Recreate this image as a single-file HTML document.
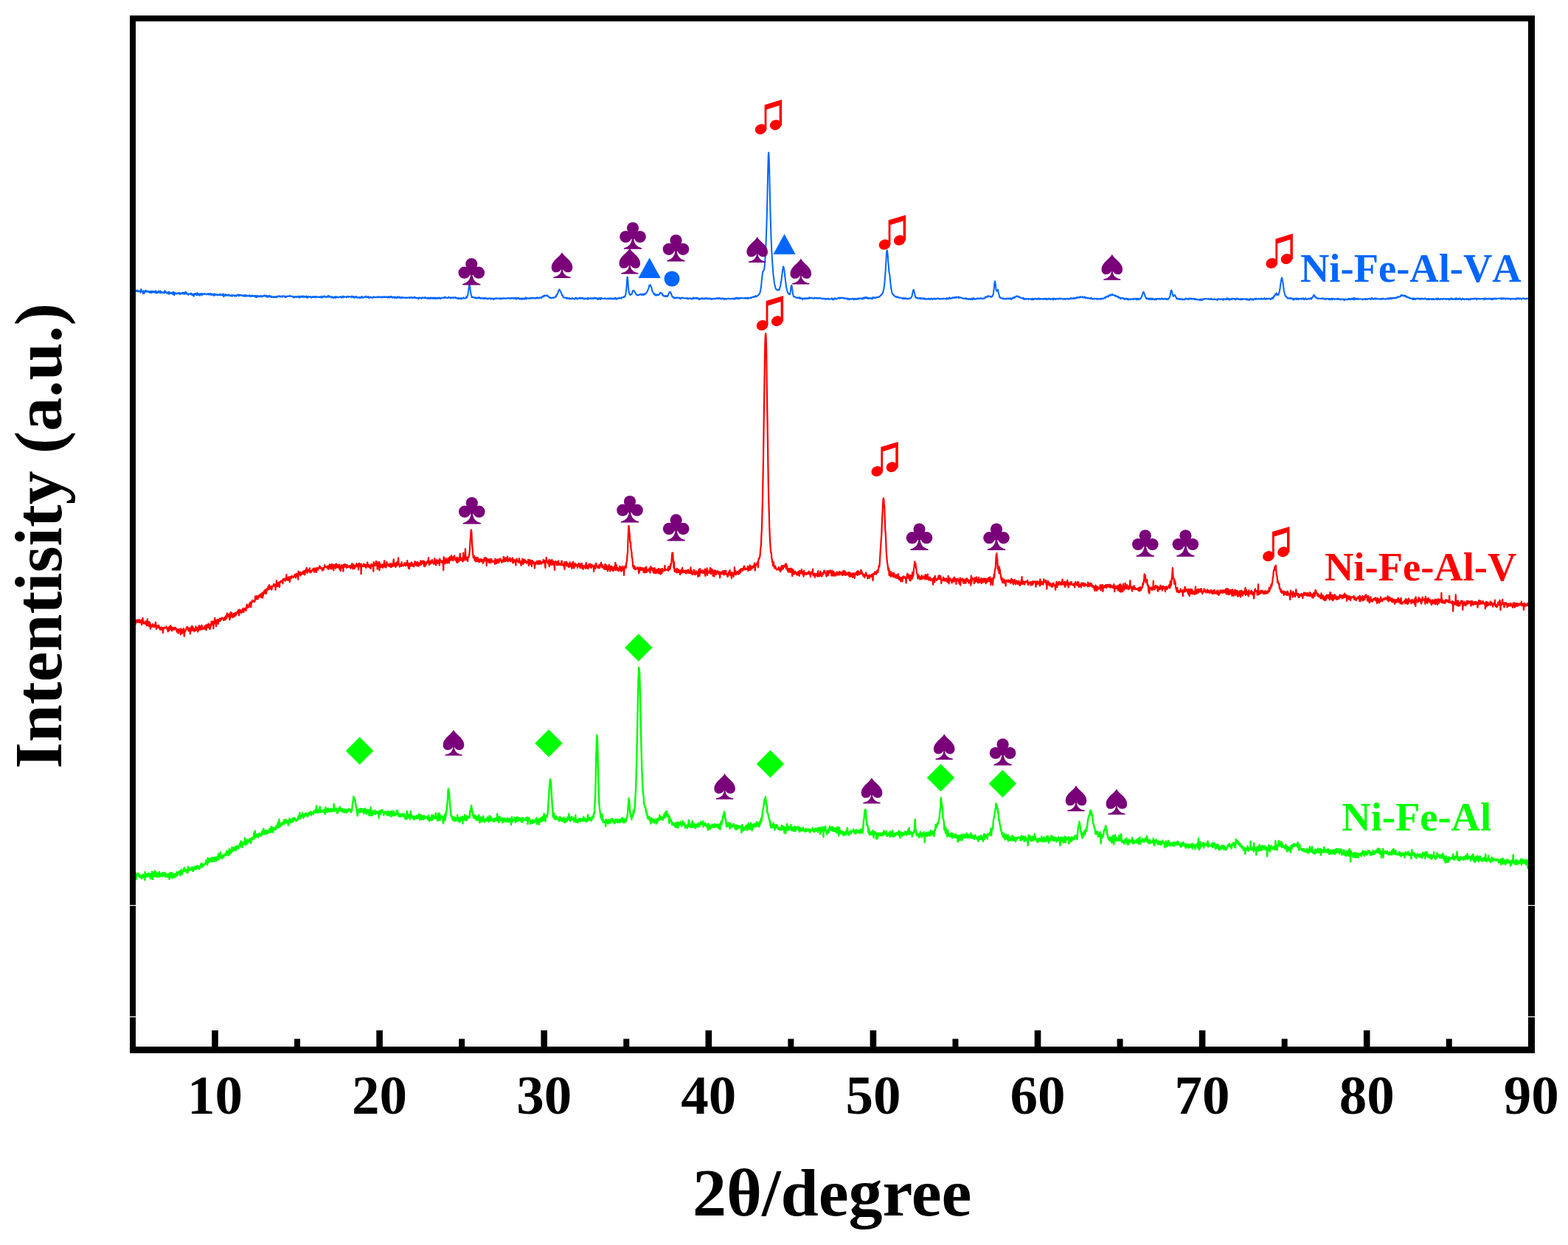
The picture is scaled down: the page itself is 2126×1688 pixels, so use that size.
<!DOCTYPE html>
<html><head><meta charset="utf-8"><title>XRD patterns</title>
<style>html,body{margin:0;padding:0;background:#fff;}svg{display:block;}</style></head>
<body><svg width="2126" height="1688" viewBox="0 0 2126 1688">
<rect width="2126" height="1688" fill="#fff"/>
<g fill="none" stroke-linejoin="round" stroke-linecap="round">
<polyline points="180.50,393.57 180.95,394.17 181.40,393.68 181.85,391.67 182.30,394.60 182.75,394.14 183.20,393.07 183.65,394.58 184.10,394.37 184.55,394.36 185.00,394.15 185.45,394.86 185.90,393.49 186.35,394.30 186.80,394.01 187.25,395.56 187.70,394.97 188.15,394.63 188.60,394.19 189.05,394.81 189.50,395.10 189.95,394.78 190.40,396.69 190.85,396.50 191.30,392.04 191.75,393.14 192.20,395.33 192.65,395.07 193.10,395.89 193.55,395.78 194.00,398.13 194.45,394.32 194.90,395.16 195.35,398.04 195.80,396.34 196.25,396.39 196.70,394.97 197.15,393.67 197.60,395.85 198.05,395.71 198.50,394.14 198.95,394.79 199.40,395.42 199.85,394.48 200.30,395.42 200.75,395.68 201.20,395.63 201.65,395.04 202.10,396.28 202.55,396.82 203.00,396.23 203.45,394.90 203.90,396.60 204.35,395.31 204.80,396.87 205.25,394.70 205.70,396.97 206.15,396.01 206.60,394.65 207.05,395.80 207.50,396.15 207.95,396.55 208.40,395.16 208.85,394.87 209.30,396.30 209.75,395.57 210.20,396.28 210.65,396.92 211.10,394.26 211.55,396.37 212.00,397.45 212.45,395.89 212.90,395.32 213.35,396.97 213.80,396.43 214.25,396.99 214.70,395.75 215.15,394.57 215.60,396.04 216.05,395.70 216.50,396.96 216.95,396.36 217.40,394.50 217.85,395.04 218.30,397.16 218.75,396.98 219.20,395.62 219.65,396.21 220.10,396.59 220.55,396.70 221.00,397.13 221.45,396.48 221.90,396.17 222.35,396.18 222.80,397.48 223.25,394.18 223.70,396.32 224.15,396.53 224.60,395.14 225.05,396.79 225.50,395.98 225.95,397.53 226.40,396.57 226.85,397.41 227.30,397.98 227.75,397.28 228.20,396.19 228.65,395.61 229.10,398.68 229.55,396.88 230.00,396.33 230.45,397.17 230.90,396.86 231.35,398.03 231.80,397.32 232.25,397.35 232.70,396.82 233.15,398.05 233.60,396.63 234.05,398.34 234.50,399.18 234.95,396.32 235.40,395.57 235.85,398.30 236.30,400.26 236.75,396.97 237.20,396.73 237.65,398.53 238.10,397.20 238.55,397.64 239.00,397.74 239.45,398.51 239.90,397.66 240.35,398.27 240.80,397.94 241.25,397.24 241.70,397.78 242.15,397.32 242.60,398.04 243.05,397.04 243.50,397.04 243.95,399.28 244.40,397.69 244.85,397.65 245.30,398.08 245.75,397.28 246.20,397.53 246.65,398.03 247.10,398.08 247.55,396.67 248.00,398.42 248.45,397.05 248.90,396.64 249.35,396.76 249.80,397.14 250.25,398.90 250.70,396.55 251.15,397.68 251.60,395.75 252.05,397.49 252.50,398.56 252.95,397.62 253.40,397.34 253.85,398.28 254.30,398.72 254.75,398.73 255.20,399.94 255.65,398.63 256.10,398.06 256.55,398.45 257.00,398.49 257.45,398.79 257.90,398.75 258.35,398.94 258.80,397.40 259.25,399.60 259.70,398.61 260.15,398.09 260.60,399.74 261.05,400.33 261.50,399.66 261.95,399.35 262.40,398.48 262.85,401.68 263.30,400.26 263.75,398.42 264.20,398.59 264.65,399.23 265.10,397.87 265.55,399.21 266.00,398.77 266.45,400.19 266.90,399.84 267.35,396.91 267.80,399.17 268.25,397.85 268.70,400.02 269.15,399.28 269.60,399.49 270.05,398.29 270.50,400.53 270.95,400.70 271.40,398.27 271.85,399.33 272.30,398.57 272.75,398.96 273.20,397.97 273.65,400.50 274.10,398.27 274.55,398.58 275.00,399.23 275.45,398.38 275.90,398.88 276.35,398.51 276.80,398.82 277.25,398.00 277.70,398.53 278.15,398.76 278.60,398.59 279.05,398.80 279.50,398.66 279.95,399.36 280.40,398.53 280.85,398.94 281.30,398.51 281.75,398.60 282.20,397.97 282.65,399.49 283.10,398.24 283.55,398.45 284.00,399.41 284.45,399.44 284.90,398.92 285.35,397.73 285.80,399.76 286.25,399.75 286.70,398.48 287.15,399.95 287.60,398.96 288.05,398.76 288.50,399.72 288.95,399.52 289.40,399.90 289.85,398.49 290.30,401.13 290.75,399.19 291.20,398.41 291.65,400.05 292.10,399.16 292.55,399.74 293.00,399.38 293.45,399.61 293.90,399.83 294.35,399.15 294.80,400.32 295.25,399.60 295.70,399.30 296.15,399.90 296.60,400.15 297.05,399.72 297.50,399.32 297.95,400.33 298.40,398.79 298.85,399.28 299.30,400.07 299.75,398.98 300.20,399.92 300.65,399.86 301.10,400.51 301.55,399.30 302.00,399.54 302.45,400.38 302.90,398.38 303.35,402.32 303.80,399.70 304.25,399.80 304.70,401.03 305.15,400.21 305.60,398.98 306.05,400.62 306.50,400.74 306.95,399.87 307.40,400.18 307.85,400.76 308.30,399.76 308.75,400.63 309.20,400.54 309.65,399.85 310.10,399.41 310.55,400.23 311.00,399.89 311.45,401.24 311.90,400.64 312.35,401.18 312.80,400.64 313.25,400.72 313.70,400.03 314.15,401.07 314.60,401.87 315.05,400.36 315.50,400.07 315.95,400.33 316.40,400.43 316.85,400.29 317.30,400.86 317.75,400.41 318.20,401.61 318.65,400.58 319.10,400.76 319.55,401.24 320.00,400.39 320.45,401.63 320.90,400.24 321.35,400.08 321.80,400.27 322.25,400.38 322.70,399.43 323.15,400.40 323.60,399.35 324.05,401.45 324.50,400.51 324.95,400.18 325.40,399.92 325.85,400.40 326.30,400.59 326.75,399.99 327.20,400.08 327.65,400.42 328.10,400.28 328.55,401.24 329.00,401.47 329.45,400.89 329.90,401.20 330.35,400.09 330.80,401.43 331.25,401.08 331.70,401.40 332.15,402.05 332.60,399.64 333.05,401.32 333.50,400.56 333.95,401.66 334.40,400.37 334.85,400.92 335.30,401.31 335.75,401.59 336.20,401.15 336.65,400.67 337.10,400.65 337.55,401.50 338.00,401.07 338.45,400.12 338.90,401.82 339.35,401.51 339.80,401.84 340.25,401.14 340.70,401.78 341.15,400.55 341.60,401.64 342.05,400.82 342.50,401.53 342.95,401.68 343.40,400.68 343.85,401.15 344.30,401.29 344.75,402.04 345.20,401.90 345.65,400.79 346.10,401.81 346.55,402.11 347.00,403.06 347.45,400.82 347.90,401.63 348.35,402.86 348.80,401.13 349.25,401.11 349.70,402.19 350.15,402.33 350.60,401.19 351.05,401.89 351.50,401.54 351.95,402.42 352.40,401.43 352.85,401.93 353.30,400.89 353.75,401.42 354.20,401.63 354.65,402.38 355.10,401.87 355.55,401.09 356.00,402.04 356.45,402.06 356.90,401.46 357.35,401.23 357.80,401.36 358.25,400.41 358.70,401.38 359.15,401.33 359.60,400.68 360.05,401.79 360.50,400.70 360.95,401.08 361.40,401.21 361.85,402.77 362.30,400.67 362.75,402.09 363.20,402.39 363.65,402.14 364.10,402.64 364.55,401.31 365.00,400.51 365.45,402.35 365.90,401.20 366.35,401.85 366.80,401.44 367.25,402.67 367.70,402.66 368.15,401.74 368.60,402.92 369.05,402.30 369.50,402.35 369.95,402.65 370.40,402.58 370.85,403.18 371.30,402.90 371.75,402.33 372.20,403.17 372.65,402.11 373.10,402.61 373.55,402.79 374.00,403.25 374.45,401.94 374.90,403.22 375.35,402.33 375.80,402.08 376.25,401.75 376.70,402.49 377.15,402.07 377.60,401.42 378.05,401.21 378.50,401.50 378.95,401.37 379.40,402.50 379.85,402.61 380.30,402.27 380.75,401.86 381.20,401.33 381.65,401.54 382.10,401.99 382.55,402.84 383.00,402.20 383.45,401.39 383.90,401.67 384.35,401.44 384.80,401.14 385.25,401.56 385.70,401.88 386.15,402.85 386.60,401.78 387.05,402.57 387.50,402.86 387.95,401.76 388.40,402.77 388.85,402.16 389.30,401.56 389.75,402.01 390.20,401.81 390.65,401.49 391.10,401.59 391.55,401.82 392.00,401.91 392.45,401.16 392.90,401.65 393.35,400.78 393.80,401.71 394.25,401.86 394.70,401.70 395.15,401.86 395.60,402.10 396.05,401.46 396.50,401.85 396.95,402.28 397.40,402.48 397.85,402.29 398.30,403.65 398.75,402.18 399.20,402.78 399.65,403.04 400.10,402.39 400.55,402.05 401.00,401.71 401.45,402.54 401.90,403.13 402.35,402.62 402.80,402.61 403.25,402.38 403.70,402.90 404.15,401.45 404.60,402.62 405.05,402.48 405.50,401.75 405.95,403.69 406.40,401.66 406.85,401.77 407.30,401.72 407.75,402.91 408.20,401.80 408.65,402.65 409.10,402.49 409.55,402.23 410.00,401.33 410.45,401.91 410.90,403.10 411.35,401.42 411.80,401.69 412.25,402.29 412.70,402.81 413.15,402.46 413.60,402.79 414.05,401.88 414.50,402.97 414.95,402.70 415.40,401.53 415.85,403.36 416.30,403.82 416.75,402.13 417.20,402.67 417.65,403.39 418.10,401.84 418.55,401.68 419.00,402.09 419.45,402.37 419.90,402.40 420.35,403.02 420.80,402.65 421.25,401.93 421.70,402.93 422.15,403.58 422.60,403.29 423.05,403.13 423.50,402.46 423.95,402.90 424.40,401.92 424.85,402.89 425.30,402.48 425.75,403.11 426.20,402.84 426.65,402.06 427.10,402.82 427.55,403.38 428.00,402.17 428.45,402.45 428.90,402.31 429.35,401.85 429.80,402.99 430.25,403.18 430.70,403.00 431.15,402.78 431.60,402.75 432.05,402.97 432.50,402.31 432.95,402.99 433.40,403.14 433.85,402.99 434.30,402.16 434.75,402.59 435.20,402.66 435.65,403.72 436.10,402.83 436.55,401.58 437.00,402.67 437.45,403.48 437.90,402.80 438.35,402.78 438.80,402.37 439.25,401.26 439.70,401.45 440.15,401.74 440.60,402.39 441.05,402.74 441.50,402.88 441.95,402.33 442.40,403.00 442.85,402.32 443.30,401.99 443.75,402.87 444.20,401.97 444.65,401.08 445.10,401.98 445.55,402.66 446.00,401.00 446.45,402.38 446.90,402.45 447.35,401.91 447.80,402.02 448.25,402.61 448.70,402.58 449.15,403.53 449.60,403.11 450.05,402.14 450.50,402.56 450.95,403.26 451.40,403.93 451.85,403.10 452.30,402.94 452.75,403.86 453.20,402.86 453.65,402.73 454.10,402.09 454.55,402.61 455.00,404.00 455.45,402.30 455.90,402.96 456.35,402.20 456.80,403.07 457.25,403.38 457.70,402.73 458.15,403.07 458.60,402.89 459.05,402.74 459.50,403.44 459.95,402.94 460.40,402.42 460.85,402.18 461.30,402.08 461.75,402.70 462.20,402.26 462.65,403.79 463.10,403.46 463.55,402.51 464.00,402.35 464.45,403.39 464.90,401.57 465.35,402.29 465.80,403.15 466.25,402.18 466.70,402.28 467.15,402.34 467.60,402.78 468.05,402.37 468.50,402.48 468.95,402.70 469.40,402.55 469.85,403.24 470.30,402.24 470.75,401.85 471.20,401.68 471.65,401.74 472.10,402.22 472.55,402.98 473.00,402.55 473.45,402.30 473.90,402.08 474.35,402.25 474.80,402.32 475.25,402.28 475.70,401.92 476.15,402.34 476.60,403.27 477.05,401.62 477.50,402.65 477.95,401.71 478.40,402.90 478.85,402.55 479.30,401.97 479.75,403.20 480.20,403.85 480.65,402.89 481.10,403.37 481.55,402.78 482.00,401.86 482.45,403.22 482.90,402.76 483.35,402.28 483.80,403.58 484.25,403.44 484.70,403.11 485.15,403.75 485.60,403.05 486.05,403.75 486.50,402.94 486.95,403.63 487.40,402.88 487.85,404.04 488.30,403.35 488.75,403.91 489.20,402.72 489.65,402.91 490.10,403.48 490.55,401.74 491.00,402.47 491.45,403.72 491.90,403.47 492.35,403.67 492.80,402.95 493.25,403.32 493.70,402.89 494.15,402.49 494.60,402.34 495.05,402.89 495.50,402.88 495.95,402.76 496.40,401.43 496.85,402.13 497.30,402.87 497.75,403.26 498.20,402.84 498.65,402.62 499.10,401.98 499.55,404.04 500.00,402.39 500.45,403.84 500.90,403.78 501.35,403.34 501.80,402.86 502.25,403.27 502.70,402.47 503.15,403.36 503.60,403.15 504.05,403.60 504.50,403.76 504.95,403.78 505.40,402.79 505.85,403.58 506.30,402.57 506.75,402.43 507.20,402.49 507.65,402.29 508.10,403.28 508.55,403.28 509.00,403.49 509.45,402.79 509.90,403.00 510.35,402.53 510.80,402.43 511.25,403.28 511.70,403.21 512.15,402.47 512.60,403.22 513.05,402.15 513.50,402.86 513.95,402.65 514.40,402.62 514.85,402.46 515.30,403.33 515.75,403.16 516.20,403.60 516.65,403.09 517.10,402.31 517.55,402.68 518.00,402.40 518.45,403.16 518.90,403.50 519.35,402.89 519.80,402.36 520.25,402.56 520.70,402.96 521.15,402.10 521.60,402.89 522.05,402.94 522.50,402.56 522.95,402.59 523.40,402.98 523.85,402.54 524.30,402.43 524.75,403.16 525.20,403.07 525.65,403.68 526.10,402.47 526.55,402.05 527.00,403.45 527.45,403.46 527.90,402.77 528.35,402.39 528.80,403.14 529.25,402.18 529.70,402.82 530.15,401.88 530.60,402.96 531.05,402.03 531.50,402.89 531.95,403.62 532.40,402.85 532.85,403.40 533.30,402.73 533.75,402.75 534.20,402.47 534.65,403.70 535.10,403.08 535.55,403.93 536.00,402.57 536.45,402.96 536.90,403.14 537.35,403.86 537.80,404.10 538.25,402.94 538.70,402.58 539.15,402.20 539.60,403.88 540.05,403.21 540.50,402.97 540.95,403.27 541.40,402.29 541.85,402.76 542.30,404.07 542.75,403.79 543.20,403.57 543.65,402.99 544.10,403.80 544.55,404.21 545.00,402.79 545.45,403.44 545.90,403.29 546.35,403.67 546.80,403.58 547.25,403.67 547.70,403.36 548.15,403.82 548.60,403.42 549.05,403.67 549.50,403.59 549.95,404.05 550.40,403.47 550.85,403.44 551.30,404.00 551.75,403.36 552.20,403.41 552.65,403.89 553.10,403.48 553.55,403.40 554.00,403.50 554.45,403.03 554.90,403.96 555.35,404.30 555.80,404.07 556.25,402.95 556.70,403.82 557.15,403.14 557.60,403.51 558.05,403.62 558.50,402.98 558.95,404.13 559.40,403.32 559.85,403.76 560.30,403.63 560.75,404.04 561.20,404.05 561.65,402.82 562.10,403.55 562.55,402.60 563.00,403.47 563.45,404.16 563.90,404.25 564.35,404.43 564.80,403.62 565.25,403.98 565.70,403.83 566.15,404.29 566.60,404.47 567.05,403.48 567.50,405.45 567.95,403.70 568.40,403.58 568.85,404.02 569.30,404.15 569.75,404.03 570.20,403.52 570.65,404.58 571.10,403.85 571.55,404.68 572.00,404.51 572.45,403.30 572.90,403.34 573.35,403.31 573.80,404.03 574.25,404.07 574.70,404.05 575.15,403.31 575.60,403.96 576.05,404.36 576.50,403.02 576.95,403.61 577.40,403.87 577.85,403.66 578.30,403.72 578.75,404.74 579.20,404.43 579.65,404.19 580.10,403.53 580.55,404.98 581.00,404.13 581.45,403.70 581.90,403.88 582.35,403.94 582.80,405.17 583.25,404.45 583.70,404.30 584.15,403.30 584.60,404.68 585.05,403.71 585.50,403.60 585.95,404.37 586.40,403.77 586.85,404.62 587.30,404.98 587.75,403.54 588.20,404.33 588.65,403.62 589.10,404.26 589.55,404.66 590.00,403.55 590.45,405.20 590.90,404.25 591.35,403.87 591.80,404.30 592.25,404.72 592.70,403.73 593.15,404.31 593.60,403.58 594.05,404.78 594.50,404.08 594.95,403.77 595.40,404.41 595.85,403.35 596.30,403.85 596.75,404.93 597.20,404.08 597.65,404.85 598.10,404.23 598.55,403.67 599.00,403.94 599.45,404.01 599.90,403.74 600.35,403.62 600.80,403.64 601.25,403.23 601.70,403.88 602.15,403.95 602.60,403.91 603.05,402.70 603.50,403.83 603.95,403.39 604.40,402.78 604.85,403.65 605.30,403.88 605.75,403.94 606.20,404.05 606.65,404.21 607.10,404.05 607.55,403.57 608.00,402.62 608.45,403.14 608.90,403.58 609.35,403.15 609.80,403.75 610.25,403.85 610.70,403.62 611.15,404.48 611.60,403.19 612.05,404.04 612.50,403.47 612.95,403.36 613.40,404.02 613.85,403.60 614.30,404.26 614.75,403.28 615.20,403.82 615.65,403.33 616.10,403.46 616.55,403.57 617.00,403.11 617.45,403.94 617.90,403.17 618.35,403.44 618.80,404.32 619.25,404.28 619.70,404.27 620.15,404.27 620.60,405.38 621.05,403.88 621.50,404.00 621.95,403.83 622.40,404.87 622.85,404.55 623.30,405.02 623.75,404.89 624.20,404.33 624.65,404.01 625.10,403.90 625.55,405.44 626.00,404.94 626.45,404.76 626.90,404.36 627.35,404.51 627.80,404.32 628.25,404.38 628.70,403.33 629.15,404.38 629.60,404.22 630.05,404.57 630.50,404.55 630.95,404.61 631.40,403.89 631.85,404.07 632.30,402.16 632.75,402.62 633.20,403.35 633.65,401.01 634.10,400.12 634.55,398.60 635.00,395.14 635.45,392.32 635.90,388.15 636.35,385.96 636.80,386.64 637.25,388.95 637.70,393.06 638.15,396.24 638.60,398.97 639.05,400.19 639.50,402.91 639.95,402.47 640.40,402.75 640.85,403.12 641.30,402.88 641.75,402.67 642.20,403.11 642.65,403.76 643.10,403.74 643.55,403.96 644.00,403.23 644.45,403.16 644.90,404.52 645.35,403.49 645.80,403.94 646.25,404.21 646.70,404.67 647.15,403.50 647.60,403.84 648.05,403.85 648.50,404.10 648.95,403.15 649.40,404.12 649.85,402.98 650.30,404.36 650.75,404.58 651.20,404.60 651.65,403.81 652.10,404.94 652.55,404.19 653.00,404.19 653.45,404.34 653.90,404.44 654.35,404.67 654.80,404.94 655.25,403.71 655.70,404.56 656.15,405.30 656.60,404.91 657.05,404.87 657.50,403.82 657.95,404.94 658.40,403.68 658.85,404.59 659.30,405.23 659.75,405.36 660.20,405.00 660.65,405.14 661.10,404.34 661.55,404.53 662.00,405.26 662.45,404.73 662.90,404.78 663.35,404.14 663.80,404.80 664.25,405.05 664.70,404.54 665.15,404.54 665.60,405.62 666.05,405.00 666.50,404.84 666.95,404.32 667.40,404.54 667.85,404.76 668.30,405.59 668.75,404.71 669.20,405.95 669.65,404.61 670.10,404.88 670.55,405.38 671.00,404.86 671.45,404.46 671.90,404.80 672.35,405.13 672.80,403.98 673.25,404.53 673.70,404.59 674.15,404.52 674.60,405.09 675.05,404.42 675.50,404.47 675.95,404.54 676.40,404.89 676.85,404.51 677.30,405.34 677.75,404.22 678.20,405.24 678.65,404.30 679.10,404.64 679.55,404.74 680.00,405.44 680.45,404.83 680.90,404.24 681.35,405.00 681.80,404.26 682.25,404.11 682.70,404.62 683.15,404.50 683.60,404.91 684.05,404.23 684.50,404.72 684.95,404.82 685.40,404.55 685.85,404.38 686.30,404.19 686.75,404.86 687.20,404.53 687.65,404.68 688.10,404.27 688.55,404.33 689.00,403.73 689.45,404.30 689.90,404.44 690.35,404.20 690.80,404.71 691.25,404.55 691.70,405.07 692.15,404.45 692.60,403.68 693.05,404.61 693.50,404.29 693.95,403.85 694.40,404.56 694.85,404.32 695.30,404.48 695.75,404.04 696.20,404.25 696.65,404.31 697.10,405.02 697.55,403.94 698.00,404.25 698.45,404.50 698.90,403.74 699.35,403.85 699.80,405.71 700.25,404.05 700.70,404.98 701.15,404.35 701.60,404.41 702.05,403.72 702.50,404.19 702.95,404.95 703.40,404.00 703.85,405.00 704.30,404.99 704.75,405.75 705.20,404.78 705.65,405.57 706.10,405.37 706.55,404.84 707.00,404.42 707.45,405.88 707.90,404.51 708.35,404.85 708.80,405.44 709.25,405.54 709.70,404.54 710.15,404.76 710.60,404.68 711.05,405.22 711.50,405.71 711.95,403.88 712.40,405.17 712.85,403.29 713.30,404.62 713.75,404.05 714.20,405.43 714.65,404.46 715.10,404.18 715.55,404.25 716.00,404.29 716.45,404.56 716.90,404.45 717.35,404.90 717.80,405.25 718.25,404.65 718.70,403.78 719.15,403.55 719.60,404.06 720.05,404.76 720.50,404.18 720.95,404.04 721.40,404.39 721.85,403.58 722.30,403.74 722.75,404.55 723.20,404.18 723.65,404.11 724.10,404.54 724.55,404.04 725.00,404.12 725.45,404.25 725.90,404.70 726.35,404.27 726.80,403.54 727.25,403.67 727.70,404.04 728.15,404.67 728.60,403.25 729.05,403.94 729.50,403.76 729.95,404.24 730.40,404.08 730.85,404.37 731.30,403.91 731.75,403.40 732.20,403.31 732.65,403.57 733.10,403.53 733.55,404.34 734.00,403.95 734.45,402.48 734.90,402.98 735.35,401.99 735.80,401.69 736.25,402.45 736.70,402.01 737.15,401.01 737.60,401.97 738.05,400.63 738.50,400.47 738.95,401.14 739.40,400.79 739.85,400.48 740.30,400.57 740.75,400.75 741.20,400.69 741.65,400.92 742.10,400.38 742.55,400.94 743.00,402.11 743.45,401.73 743.90,402.64 744.35,403.15 744.80,402.64 745.25,403.11 745.70,404.02 746.15,403.64 746.60,404.34 747.05,404.40 747.50,403.99 747.95,403.71 748.40,403.43 748.85,403.39 749.30,404.11 749.75,404.04 750.20,403.61 750.65,403.87 751.10,403.19 751.55,403.67 752.00,402.99 752.45,402.72 752.90,402.40 753.35,402.02 753.80,402.76 754.25,400.29 754.70,400.38 755.15,400.17 755.60,398.95 756.05,397.54 756.50,397.39 756.95,395.02 757.40,393.85 757.85,393.97 758.30,392.64 758.75,392.29 759.20,394.05 759.65,394.81 760.10,395.59 760.55,396.00 761.00,397.47 761.45,397.99 761.90,400.23 762.35,400.56 762.80,401.34 763.25,400.85 763.70,402.62 764.15,403.39 764.60,403.59 765.05,403.60 765.50,403.39 765.95,403.45 766.40,403.96 766.85,404.06 767.30,404.10 767.75,403.88 768.20,404.93 768.65,403.71 769.10,404.27 769.55,403.88 770.00,404.73 770.45,404.94 770.90,404.75 771.35,404.81 771.80,404.01 772.25,405.52 772.70,404.96 773.15,404.74 773.60,404.93 774.05,404.89 774.50,405.19 774.95,405.19 775.40,404.79 775.85,403.74 776.30,404.94 776.75,405.14 777.20,405.27 777.65,404.94 778.10,405.27 778.55,405.49 779.00,404.77 779.45,405.50 779.90,403.84 780.35,404.07 780.80,404.45 781.25,403.65 781.70,404.40 782.15,405.47 782.60,405.15 783.05,404.60 783.50,405.36 783.95,404.54 784.40,404.17 784.85,404.46 785.30,404.41 785.75,404.65 786.20,403.55 786.65,404.76 787.10,404.15 787.55,404.77 788.00,403.83 788.45,404.33 788.90,404.56 789.35,404.82 789.80,403.82 790.25,405.21 790.70,404.85 791.15,404.36 791.60,405.25 792.05,404.59 792.50,405.12 792.95,405.59 793.40,404.95 793.85,404.51 794.30,404.62 794.75,405.17 795.20,405.09 795.65,404.36 796.10,404.46 796.55,404.82 797.00,405.79 797.45,403.61 797.90,405.10 798.35,404.64 798.80,405.00 799.25,405.08 799.70,404.74 800.15,404.24 800.60,404.13 801.05,403.96 801.50,405.30 801.95,404.53 802.40,404.62 802.85,404.61 803.30,404.12 803.75,404.81 804.20,405.25 804.65,405.03 805.10,403.84 805.55,405.03 806.00,404.01 806.45,403.56 806.90,404.17 807.35,404.25 807.80,404.76 808.25,404.20 808.70,404.03 809.15,404.65 809.60,405.73 810.05,404.71 810.50,405.16 810.95,404.95 811.40,406.05 811.85,403.86 812.30,405.12 812.75,404.06 813.20,404.42 813.65,404.48 814.10,406.03 814.55,404.25 815.00,403.70 815.45,405.18 815.90,404.21 816.35,404.52 816.80,404.75 817.25,404.85 817.70,404.79 818.15,404.74 818.60,404.87 819.05,405.06 819.50,404.60 819.95,404.34 820.40,404.22 820.85,405.05 821.30,404.68 821.75,404.94 822.20,404.90 822.65,405.53 823.10,404.96 823.55,405.16 824.00,404.31 824.45,404.53 824.90,404.96 825.35,404.57 825.80,405.54 826.25,404.66 826.70,405.30 827.15,404.17 827.60,404.74 828.05,405.02 828.50,404.93 828.95,404.11 829.40,405.15 829.85,405.44 830.30,405.33 830.75,404.67 831.20,404.71 831.65,404.43 832.10,405.17 832.55,405.48 833.00,404.57 833.45,404.06 833.90,404.89 834.35,405.14 834.80,403.69 835.25,404.89 835.70,405.77 836.15,405.11 836.60,404.88 837.05,404.79 837.50,405.11 837.95,404.06 838.40,404.12 838.85,404.69 839.30,404.15 839.75,404.49 840.20,403.44 840.65,404.48 841.10,404.55 841.55,404.14 842.00,404.13 842.45,404.74 842.90,403.34 843.35,403.36 843.80,403.05 844.25,403.28 844.70,402.91 845.15,403.23 845.60,402.73 846.05,402.14 846.50,401.91 846.95,402.70 847.40,401.69 847.85,400.82 848.30,399.41 848.75,396.56 849.20,392.82 849.65,386.96 850.10,379.98 850.55,375.62 851.00,376.36 851.45,381.59 851.90,389.07 852.35,393.06 852.80,395.84 853.25,398.16 853.70,399.00 854.15,399.83 854.60,399.19 855.05,399.78 855.50,399.30 855.95,399.14 856.40,398.84 856.85,398.24 857.30,396.57 857.75,394.52 858.20,394.03 858.65,393.79 859.10,394.46 859.55,393.99 860.00,395.03 860.45,395.32 860.90,396.51 861.35,397.32 861.80,397.53 862.25,398.87 862.70,399.51 863.15,399.33 863.60,400.10 864.05,400.51 864.50,399.99 864.95,400.17 865.40,400.11 865.85,399.90 866.30,400.09 866.75,399.60 867.20,399.56 867.65,399.27 868.10,398.79 868.55,399.00 869.00,399.54 869.45,398.71 869.90,398.92 870.35,399.96 870.80,399.79 871.25,398.90 871.70,399.43 872.15,398.87 872.60,400.06 873.05,398.87 873.50,398.91 873.95,399.19 874.40,398.01 874.85,398.88 875.30,397.71 875.75,397.88 876.20,397.15 876.65,396.75 877.10,396.25 877.55,395.38 878.00,394.00 878.45,393.55 878.90,392.10 879.35,391.01 879.80,389.68 880.25,386.98 880.70,387.34 881.15,386.74 881.60,385.98 882.05,387.24 882.50,388.60 882.95,389.04 883.40,390.22 883.85,392.12 884.30,394.95 884.75,395.22 885.20,395.82 885.65,397.20 886.10,397.57 886.55,398.40 887.00,399.10 887.45,398.14 887.90,399.62 888.35,400.27 888.80,399.58 889.25,399.74 889.70,400.58 890.15,399.55 890.60,399.48 891.05,399.34 891.50,400.01 891.95,400.22 892.40,399.87 892.85,399.90 893.30,399.88 893.75,399.26 894.20,398.18 894.65,397.94 895.10,398.08 895.55,396.75 896.00,396.92 896.45,397.05 896.90,397.62 897.35,397.77 897.80,398.30 898.25,400.55 898.70,400.46 899.15,400.15 899.60,400.66 900.05,401.41 900.50,401.05 900.95,401.60 901.40,401.24 901.85,401.60 902.30,401.87 902.75,401.68 903.20,400.79 903.65,401.98 904.10,402.10 904.55,402.02 905.00,401.11 905.45,401.34 905.90,400.56 906.35,398.78 906.80,397.57 907.25,397.66 907.70,395.98 908.15,396.11 908.60,396.47 909.05,395.82 909.50,396.75 909.95,398.40 910.40,399.88 910.85,400.21 911.30,402.18 911.75,402.72 912.20,403.00 912.65,402.68 913.10,403.64 913.55,403.69 914.00,403.02 914.45,404.62 914.90,403.58 915.35,404.01 915.80,403.69 916.25,404.16 916.70,404.51 917.15,403.58 917.60,403.29 918.05,403.72 918.50,403.32 918.95,403.45 919.40,403.76 919.85,403.78 920.30,404.39 920.75,403.61 921.20,404.07 921.65,403.86 922.10,404.75 922.55,405.14 923.00,404.16 923.45,404.82 923.90,403.93 924.35,403.44 924.80,403.68 925.25,403.43 925.70,403.64 926.15,403.96 926.60,404.47 927.05,404.23 927.50,404.30 927.95,404.05 928.40,403.95 928.85,404.28 929.30,404.48 929.75,404.64 930.20,404.75 930.65,404.56 931.10,403.84 931.55,404.26 932.00,404.31 932.45,405.41 932.90,404.36 933.35,404.83 933.80,405.20 934.25,404.70 934.70,404.43 935.15,404.42 935.60,403.99 936.05,404.54 936.50,404.95 936.95,404.83 937.40,405.03 937.85,404.97 938.30,405.59 938.75,404.28 939.20,404.56 939.65,404.87 940.10,405.06 940.55,403.39 941.00,404.25 941.45,404.38 941.90,404.03 942.35,404.93 942.80,404.65 943.25,404.24 943.70,403.74 944.15,403.91 944.60,404.17 945.05,404.95 945.50,404.29 945.95,403.89 946.40,404.23 946.85,404.73 947.30,405.80 947.75,406.19 948.20,404.70 948.65,405.28 949.10,405.56 949.55,405.52 950.00,404.96 950.45,404.46 950.90,404.86 951.35,404.26 951.80,405.11 952.25,405.29 952.70,404.12 953.15,404.90 953.60,404.88 954.05,405.24 954.50,405.37 954.95,405.05 955.40,404.30 955.85,404.39 956.30,405.10 956.75,404.24 957.20,404.60 957.65,405.21 958.10,404.60 958.55,403.90 959.00,404.43 959.45,405.03 959.90,404.70 960.35,405.36 960.80,405.52 961.25,404.52 961.70,404.63 962.15,404.82 962.60,404.38 963.05,405.15 963.50,404.99 963.95,405.47 964.40,404.86 964.85,404.87 965.30,406.05 965.75,404.88 966.20,405.05 966.65,405.02 967.10,405.16 967.55,404.79 968.00,405.12 968.45,404.81 968.90,404.97 969.35,405.20 969.80,405.35 970.25,405.11 970.70,404.38 971.15,404.84 971.60,404.60 972.05,404.55 972.50,403.88 972.95,404.84 973.40,404.39 973.85,405.26 974.30,404.68 974.75,403.87 975.20,403.77 975.65,404.98 976.10,404.13 976.55,404.98 977.00,404.60 977.45,405.58 977.90,404.63 978.35,405.34 978.80,405.14 979.25,404.32 979.70,404.37 980.15,405.19 980.60,404.63 981.05,404.29 981.50,405.37 981.95,406.10 982.40,404.94 982.85,405.61 983.30,404.81 983.75,405.57 984.20,404.88 984.65,405.61 985.10,405.21 985.55,404.93 986.00,405.24 986.45,404.99 986.90,404.73 987.35,404.62 987.80,405.03 988.25,404.48 988.70,405.23 989.15,405.27 989.60,405.25 990.05,404.93 990.50,405.22 990.95,405.11 991.40,405.68 991.85,404.64 992.30,404.76 992.75,404.86 993.20,404.86 993.65,404.57 994.10,404.60 994.55,405.39 995.00,404.55 995.45,405.25 995.90,405.68 996.35,405.31 996.80,403.96 997.25,404.97 997.70,404.63 998.15,404.53 998.60,403.60 999.05,404.62 999.50,403.76 999.95,404.88 1000.40,404.79 1000.85,405.42 1001.30,404.09 1001.75,403.55 1002.20,404.74 1002.65,404.72 1003.10,404.20 1003.55,405.00 1004.00,404.65 1004.45,403.68 1004.90,404.08 1005.35,404.06 1005.80,404.14 1006.25,404.27 1006.70,403.88 1007.15,404.21 1007.60,404.60 1008.05,404.35 1008.50,404.24 1008.95,404.32 1009.40,404.47 1009.85,403.80 1010.30,404.65 1010.75,404.09 1011.20,404.56 1011.65,403.83 1012.10,404.75 1012.55,404.45 1013.00,403.68 1013.45,404.37 1013.90,403.83 1014.35,405.02 1014.80,404.38 1015.25,403.67 1015.70,404.17 1016.15,403.90 1016.60,404.29 1017.05,403.95 1017.50,403.94 1017.95,403.13 1018.40,403.80 1018.85,404.18 1019.30,403.33 1019.75,403.08 1020.20,403.03 1020.65,402.50 1021.10,402.74 1021.55,402.23 1022.00,402.61 1022.45,402.28 1022.90,401.96 1023.35,402.61 1023.80,401.42 1024.25,401.97 1024.70,401.13 1025.15,402.42 1025.60,402.18 1026.05,401.45 1026.50,401.73 1026.95,400.95 1027.40,400.81 1027.85,400.23 1028.30,399.57 1028.75,399.61 1029.20,398.76 1029.65,398.23 1030.10,397.98 1030.55,396.49 1031.00,393.99 1031.45,392.20 1031.90,388.75 1032.35,384.94 1032.80,379.90 1033.25,376.10 1033.70,372.24 1034.15,368.27 1034.60,367.90 1035.05,367.70 1035.50,366.47 1035.95,365.57 1036.40,363.49 1036.85,359.18 1037.30,353.94 1037.75,345.55 1038.20,337.03 1038.65,327.30 1039.10,315.28 1039.55,301.17 1040.00,284.71 1040.45,266.00 1040.90,245.34 1041.35,225.88 1041.80,209.52 1042.25,206.81 1042.70,213.14 1043.15,229.07 1043.60,250.28 1044.05,269.59 1044.50,288.69 1044.95,304.10 1045.40,318.02 1045.85,329.65 1046.30,339.96 1046.75,347.71 1047.20,355.36 1047.65,362.03 1048.10,366.99 1048.55,372.66 1049.00,376.69 1049.45,379.52 1049.90,383.65 1050.35,386.20 1050.80,387.16 1051.25,389.58 1051.70,391.09 1052.15,391.96 1052.60,391.87 1053.05,392.29 1053.50,393.21 1053.95,393.33 1054.40,393.49 1054.85,393.43 1055.30,393.41 1055.75,392.53 1056.20,392.28 1056.65,392.99 1057.10,390.78 1057.55,389.76 1058.00,388.00 1058.45,385.96 1058.90,382.75 1059.35,380.31 1059.80,376.70 1060.25,373.39 1060.70,370.35 1061.15,366.07 1061.60,363.62 1062.05,361.29 1062.50,361.87 1062.95,364.22 1063.40,366.51 1063.85,370.07 1064.30,374.58 1064.75,378.51 1065.20,382.22 1065.65,385.72 1066.10,389.59 1066.55,390.85 1067.00,393.07 1067.45,394.50 1067.90,396.48 1068.35,396.72 1068.80,398.18 1069.25,398.28 1069.70,398.59 1070.15,398.17 1070.60,399.34 1071.05,398.44 1071.50,396.93 1071.95,394.20 1072.40,390.78 1072.85,387.16 1073.30,386.71 1073.75,388.32 1074.20,391.79 1074.65,395.48 1075.10,398.63 1075.55,400.36 1076.00,402.04 1076.45,402.25 1076.90,401.89 1077.35,402.07 1077.80,402.74 1078.25,402.61 1078.70,403.29 1079.15,403.53 1079.60,403.66 1080.05,403.77 1080.50,403.53 1080.95,403.89 1081.40,403.30 1081.85,403.74 1082.30,404.19 1082.75,404.16 1083.20,403.35 1083.65,403.35 1084.10,403.23 1084.55,404.89 1085.00,403.38 1085.45,404.03 1085.90,404.84 1086.35,404.71 1086.80,404.97 1087.25,404.39 1087.70,405.03 1088.15,406.27 1088.60,404.81 1089.05,404.90 1089.50,404.58 1089.95,404.62 1090.40,404.91 1090.85,405.51 1091.30,404.46 1091.75,404.16 1092.20,404.75 1092.65,404.90 1093.10,405.26 1093.55,404.83 1094.00,404.02 1094.45,404.65 1094.90,404.98 1095.35,404.50 1095.80,404.22 1096.25,404.66 1096.70,404.12 1097.15,403.34 1097.60,404.80 1098.05,403.58 1098.50,404.02 1098.95,403.98 1099.40,403.81 1099.85,403.99 1100.30,403.47 1100.75,404.34 1101.20,404.19 1101.65,404.09 1102.10,404.48 1102.55,404.42 1103.00,404.51 1103.45,404.88 1103.90,404.23 1104.35,403.53 1104.80,404.36 1105.25,404.30 1105.70,404.38 1106.15,403.98 1106.60,403.93 1107.05,404.56 1107.50,404.58 1107.95,403.74 1108.40,404.66 1108.85,404.18 1109.30,404.08 1109.75,404.61 1110.20,404.40 1110.65,404.30 1111.10,404.47 1111.55,403.71 1112.00,404.35 1112.45,404.40 1112.90,404.09 1113.35,404.86 1113.80,404.97 1114.25,404.56 1114.70,404.65 1115.15,405.05 1115.60,405.20 1116.05,404.47 1116.50,404.89 1116.95,405.39 1117.40,405.06 1117.85,404.68 1118.30,404.85 1118.75,405.12 1119.20,404.78 1119.65,406.24 1120.10,405.06 1120.55,405.42 1121.00,405.21 1121.45,405.29 1121.90,404.98 1122.35,404.56 1122.80,405.75 1123.25,405.01 1123.70,405.17 1124.15,405.23 1124.60,405.63 1125.05,405.51 1125.50,405.76 1125.95,405.57 1126.40,405.20 1126.85,405.25 1127.30,404.77 1127.75,404.32 1128.20,404.96 1128.65,404.68 1129.10,406.48 1129.55,405.91 1130.00,405.70 1130.45,405.02 1130.90,406.03 1131.35,404.29 1131.80,404.52 1132.25,404.68 1132.70,404.55 1133.15,404.82 1133.60,404.83 1134.05,405.64 1134.50,405.24 1134.95,405.26 1135.40,404.73 1135.85,404.47 1136.30,404.16 1136.75,403.71 1137.20,403.98 1137.65,404.27 1138.10,404.69 1138.55,403.53 1139.00,403.71 1139.45,404.41 1139.90,403.65 1140.35,404.16 1140.80,403.92 1141.25,403.83 1141.70,403.46 1142.15,404.06 1142.60,403.98 1143.05,404.08 1143.50,404.17 1143.95,404.65 1144.40,404.62 1144.85,403.84 1145.30,404.50 1145.75,404.72 1146.20,405.11 1146.65,405.08 1147.10,404.98 1147.55,404.33 1148.00,404.60 1148.45,405.44 1148.90,404.63 1149.35,405.53 1149.80,405.79 1150.25,404.75 1150.70,405.43 1151.15,405.21 1151.60,406.23 1152.05,405.69 1152.50,405.12 1152.95,405.60 1153.40,405.03 1153.85,405.28 1154.30,405.45 1154.75,405.34 1155.20,405.51 1155.65,404.95 1156.10,404.45 1156.55,405.27 1157.00,405.08 1157.45,405.12 1157.90,406.38 1158.35,405.84 1158.80,405.27 1159.25,404.84 1159.70,404.93 1160.15,405.73 1160.60,406.03 1161.05,405.33 1161.50,405.44 1161.95,405.38 1162.40,405.79 1162.85,404.34 1163.30,405.26 1163.75,405.27 1164.20,405.47 1164.65,405.14 1165.10,404.38 1165.55,404.57 1166.00,404.23 1166.45,404.83 1166.90,404.87 1167.35,405.02 1167.80,404.29 1168.25,404.20 1168.70,405.38 1169.15,404.73 1169.60,405.38 1170.05,404.65 1170.50,403.65 1170.95,404.46 1171.40,404.72 1171.85,403.89 1172.30,403.17 1172.75,404.38 1173.20,404.10 1173.65,404.22 1174.10,402.98 1174.55,404.34 1175.00,402.88 1175.45,403.84 1175.90,404.61 1176.35,403.49 1176.80,403.51 1177.25,404.05 1177.70,405.06 1178.15,405.12 1178.60,404.03 1179.05,404.74 1179.50,404.50 1179.95,404.32 1180.40,404.30 1180.85,403.87 1181.30,404.69 1181.75,404.75 1182.20,405.58 1182.65,404.62 1183.10,403.11 1183.55,403.66 1184.00,404.21 1184.45,403.99 1184.90,403.00 1185.35,403.70 1185.80,403.61 1186.25,403.80 1186.70,403.58 1187.15,404.03 1187.60,404.19 1188.05,403.76 1188.50,402.99 1188.95,402.94 1189.40,402.79 1189.85,403.04 1190.30,402.77 1190.75,402.64 1191.20,402.28 1191.65,402.94 1192.10,402.58 1192.55,402.28 1193.00,401.47 1193.45,401.46 1193.90,400.50 1194.35,400.04 1194.80,399.88 1195.25,399.87 1195.70,398.99 1196.15,398.06 1196.60,397.77 1197.05,396.73 1197.50,395.19 1197.95,393.08 1198.40,391.18 1198.85,387.96 1199.30,384.09 1199.75,379.22 1200.20,373.50 1200.65,367.01 1201.10,359.23 1201.55,350.97 1202.00,343.92 1202.45,339.85 1202.90,339.36 1203.35,343.13 1203.80,346.77 1204.25,354.48 1204.70,359.46 1205.15,365.47 1205.60,369.70 1206.05,371.56 1206.50,374.06 1206.95,379.61 1207.40,383.90 1207.85,387.52 1208.30,391.34 1208.75,393.05 1209.20,395.91 1209.65,397.57 1210.10,398.09 1210.55,398.68 1211.00,399.68 1211.45,400.20 1211.90,399.80 1212.35,401.10 1212.80,401.26 1213.25,401.38 1213.70,402.12 1214.15,402.42 1214.60,402.56 1215.05,402.39 1215.50,403.13 1215.95,402.33 1216.40,402.81 1216.85,402.32 1217.30,402.42 1217.75,403.52 1218.20,403.34 1218.65,403.36 1219.10,403.83 1219.55,403.75 1220.00,403.27 1220.45,403.83 1220.90,403.78 1221.35,403.65 1221.80,403.94 1222.25,403.98 1222.70,403.90 1223.15,404.14 1223.60,404.51 1224.05,405.42 1224.50,404.22 1224.95,404.88 1225.40,403.95 1225.85,405.23 1226.30,404.18 1226.75,404.47 1227.20,405.13 1227.65,404.96 1228.10,403.86 1228.55,404.90 1229.00,404.70 1229.45,405.24 1229.90,405.27 1230.35,405.42 1230.80,405.27 1231.25,405.02 1231.70,405.55 1232.15,404.31 1232.60,404.83 1233.05,404.54 1233.50,404.74 1233.95,404.48 1234.40,404.45 1234.85,404.03 1235.30,403.65 1235.75,402.55 1236.20,402.22 1236.65,400.87 1237.10,398.43 1237.55,395.91 1238.00,393.52 1238.45,393.15 1238.90,392.74 1239.35,394.75 1239.80,396.90 1240.25,399.06 1240.70,400.62 1241.15,402.95 1241.60,402.31 1242.05,403.77 1242.50,403.82 1242.95,403.91 1243.40,403.51 1243.85,403.57 1244.30,404.65 1244.75,404.07 1245.20,404.81 1245.65,404.73 1246.10,404.67 1246.55,404.74 1247.00,403.79 1247.45,404.21 1247.90,404.77 1248.35,403.92 1248.80,405.38 1249.25,404.47 1249.70,404.71 1250.15,404.39 1250.60,405.06 1251.05,404.53 1251.50,404.72 1251.95,404.45 1252.40,405.58 1252.85,404.24 1253.30,405.04 1253.75,405.22 1254.20,405.32 1254.65,404.69 1255.10,405.82 1255.55,405.75 1256.00,405.39 1256.45,405.41 1256.90,405.19 1257.35,405.64 1257.80,405.15 1258.25,405.81 1258.70,405.82 1259.15,404.89 1259.60,404.45 1260.05,405.46 1260.50,405.36 1260.95,405.90 1261.40,405.32 1261.85,405.00 1262.30,404.65 1262.75,405.34 1263.20,405.06 1263.65,404.79 1264.10,405.31 1264.55,405.92 1265.00,405.32 1265.45,404.77 1265.90,405.30 1266.35,404.62 1266.80,404.43 1267.25,405.34 1267.70,404.87 1268.15,405.72 1268.60,405.27 1269.05,404.61 1269.50,405.08 1269.95,405.54 1270.40,404.91 1270.85,404.55 1271.30,404.78 1271.75,404.70 1272.20,404.45 1272.65,404.54 1273.10,405.32 1273.55,405.62 1274.00,404.79 1274.45,405.21 1274.90,405.20 1275.35,405.55 1275.80,404.73 1276.25,404.78 1276.70,405.10 1277.15,404.97 1277.60,405.10 1278.05,405.56 1278.50,404.80 1278.95,405.23 1279.40,404.62 1279.85,405.02 1280.30,405.00 1280.75,404.86 1281.20,405.09 1281.65,405.03 1282.10,405.30 1282.55,405.51 1283.00,404.46 1283.45,405.72 1283.90,404.05 1284.35,405.08 1284.80,405.20 1285.25,404.62 1285.70,404.79 1286.15,404.56 1286.60,405.31 1287.05,403.32 1287.50,404.19 1287.95,403.87 1288.40,404.80 1288.85,405.04 1289.30,404.92 1289.75,404.57 1290.20,404.22 1290.65,403.66 1291.10,404.51 1291.55,404.02 1292.00,403.41 1292.45,403.13 1292.90,403.34 1293.35,404.04 1293.80,403.96 1294.25,403.97 1294.70,402.85 1295.15,403.01 1295.60,403.72 1296.05,403.29 1296.50,403.59 1296.95,402.63 1297.40,403.09 1297.85,403.15 1298.30,403.03 1298.75,402.93 1299.20,402.41 1299.65,403.89 1300.10,403.42 1300.55,402.62 1301.00,403.87 1301.45,403.39 1301.90,403.71 1302.35,403.38 1302.80,403.29 1303.25,403.44 1303.70,404.01 1304.15,404.17 1304.60,404.13 1305.05,404.32 1305.50,404.80 1305.95,404.39 1306.40,404.97 1306.85,405.20 1307.30,404.84 1307.75,404.71 1308.20,404.61 1308.65,404.22 1309.10,404.12 1309.55,405.48 1310.00,404.98 1310.45,404.66 1310.90,405.56 1311.35,405.25 1311.80,405.01 1312.25,405.39 1312.70,404.93 1313.15,405.36 1313.60,405.96 1314.05,405.66 1314.50,404.97 1314.95,405.46 1315.40,405.83 1315.85,405.19 1316.30,405.04 1316.75,406.05 1317.20,405.04 1317.65,404.53 1318.10,405.12 1318.55,406.06 1319.00,405.30 1319.45,405.43 1319.90,404.00 1320.35,404.78 1320.80,405.56 1321.25,404.80 1321.70,405.62 1322.15,405.32 1322.60,405.17 1323.05,405.67 1323.50,404.79 1323.95,404.87 1324.40,404.97 1324.85,405.06 1325.30,404.04 1325.75,405.33 1326.20,404.86 1326.65,404.56 1327.10,405.06 1327.55,404.47 1328.00,405.08 1328.45,404.61 1328.90,404.86 1329.35,404.26 1329.80,404.58 1330.25,404.90 1330.70,404.36 1331.15,404.49 1331.60,404.57 1332.05,405.04 1332.50,404.91 1332.95,404.84 1333.40,404.42 1333.85,404.76 1334.30,404.92 1334.75,404.01 1335.20,403.94 1335.65,403.85 1336.10,402.38 1336.55,402.98 1337.00,403.01 1337.45,403.02 1337.90,402.22 1338.35,402.35 1338.80,401.59 1339.25,401.76 1339.70,402.55 1340.15,401.07 1340.60,401.61 1341.05,401.67 1341.50,401.82 1341.95,401.69 1342.40,402.33 1342.85,401.79 1343.30,401.77 1343.75,402.60 1344.20,401.82 1344.65,402.57 1345.10,402.15 1345.55,401.44 1346.00,400.93 1346.45,399.66 1346.90,397.74 1347.35,394.06 1347.80,390.28 1348.25,385.40 1348.70,382.47 1349.15,381.16 1349.60,384.30 1350.05,387.85 1350.50,392.41 1350.95,394.22 1351.40,394.51 1351.85,394.66 1352.30,393.61 1352.75,392.68 1353.20,393.03 1353.65,396.51 1354.10,398.36 1354.55,399.16 1355.00,401.91 1355.45,403.08 1355.90,402.94 1356.35,404.04 1356.80,403.06 1357.25,403.91 1357.70,404.12 1358.15,404.60 1358.60,404.65 1359.05,404.58 1359.50,404.87 1359.95,404.39 1360.40,405.40 1360.85,404.73 1361.30,405.25 1361.75,404.89 1362.20,404.85 1362.65,405.24 1363.10,405.20 1363.55,405.56 1364.00,405.46 1364.45,404.66 1364.90,405.21 1365.35,404.97 1365.80,404.62 1366.25,404.47 1366.70,405.09 1367.15,404.74 1367.60,404.45 1368.05,405.03 1368.50,405.13 1368.95,405.15 1369.40,404.40 1369.85,404.62 1370.30,405.49 1370.75,404.49 1371.20,404.70 1371.65,405.86 1372.10,404.73 1372.55,404.16 1373.00,403.53 1373.45,404.43 1373.90,403.48 1374.35,403.95 1374.80,403.28 1375.25,402.67 1375.70,403.97 1376.15,402.82 1376.60,403.01 1377.05,402.74 1377.50,401.69 1377.95,401.67 1378.40,401.50 1378.85,401.89 1379.30,401.74 1379.75,401.40 1380.20,402.46 1380.65,402.27 1381.10,402.50 1381.55,402.24 1382.00,402.99 1382.45,402.38 1382.90,403.44 1383.35,403.20 1383.80,403.95 1384.25,403.79 1384.70,404.16 1385.15,404.29 1385.60,404.25 1386.05,404.43 1386.50,403.77 1386.95,403.76 1387.40,405.45 1387.85,405.34 1388.30,404.44 1388.75,406.05 1389.20,404.99 1389.65,405.41 1390.10,405.38 1390.55,405.30 1391.00,405.72 1391.45,404.82 1391.90,405.41 1392.35,405.30 1392.80,405.34 1393.25,405.18 1393.70,405.01 1394.15,404.94 1394.60,405.61 1395.05,404.81 1395.50,405.43 1395.95,405.38 1396.40,405.37 1396.85,405.61 1397.30,405.68 1397.75,405.38 1398.20,405.73 1398.65,406.32 1399.10,404.84 1399.55,405.23 1400.00,405.07 1400.45,406.43 1400.90,404.92 1401.35,405.61 1401.80,405.94 1402.25,405.00 1402.70,405.20 1403.15,404.90 1403.60,404.64 1404.05,405.28 1404.50,405.49 1404.95,405.09 1405.40,405.49 1405.85,405.78 1406.30,405.92 1406.75,404.88 1407.20,405.64 1407.65,404.92 1408.10,404.36 1408.55,404.99 1409.00,405.49 1409.45,405.28 1409.90,404.62 1410.35,405.92 1410.80,405.38 1411.25,405.18 1411.70,404.91 1412.15,405.33 1412.60,404.96 1413.05,405.75 1413.50,405.35 1413.95,405.55 1414.40,405.20 1414.85,404.76 1415.30,405.72 1415.75,404.90 1416.20,405.26 1416.65,405.22 1417.10,404.80 1417.55,405.72 1418.00,404.58 1418.45,406.03 1418.90,405.22 1419.35,405.87 1419.80,405.89 1420.25,404.95 1420.70,405.01 1421.15,405.78 1421.60,405.39 1422.05,405.26 1422.50,404.33 1422.95,404.54 1423.40,405.57 1423.85,406.05 1424.30,405.02 1424.75,404.99 1425.20,405.51 1425.65,405.60 1426.10,405.53 1426.55,405.10 1427.00,404.59 1427.45,406.23 1427.90,405.29 1428.35,406.16 1428.80,404.42 1429.25,405.51 1429.70,405.07 1430.15,404.75 1430.60,405.69 1431.05,405.86 1431.50,405.07 1431.95,405.62 1432.40,404.81 1432.85,405.08 1433.30,405.22 1433.75,405.21 1434.20,405.58 1434.65,404.74 1435.10,405.59 1435.55,405.58 1436.00,405.10 1436.45,404.69 1436.90,404.17 1437.35,405.21 1437.80,404.85 1438.25,405.13 1438.70,404.54 1439.15,405.03 1439.60,404.90 1440.05,405.16 1440.50,405.44 1440.95,405.42 1441.40,405.73 1441.85,404.99 1442.30,405.62 1442.75,405.31 1443.20,405.09 1443.65,404.86 1444.10,405.97 1444.55,405.49 1445.00,405.08 1445.45,405.28 1445.90,405.17 1446.35,404.98 1446.80,404.61 1447.25,405.31 1447.70,405.23 1448.15,405.11 1448.60,405.63 1449.05,404.66 1449.50,404.81 1449.95,405.20 1450.40,405.51 1450.85,405.45 1451.30,405.34 1451.75,403.82 1452.20,404.99 1452.65,404.90 1453.10,404.93 1453.55,404.23 1454.00,404.65 1454.45,404.92 1454.90,405.18 1455.35,404.46 1455.80,403.66 1456.25,404.31 1456.70,404.52 1457.15,404.59 1457.60,405.07 1458.05,404.11 1458.50,403.52 1458.95,403.51 1459.40,404.12 1459.85,403.35 1460.30,403.05 1460.75,402.99 1461.20,403.96 1461.65,403.36 1462.10,403.00 1462.55,403.60 1463.00,403.39 1463.45,402.62 1463.90,403.48 1464.35,403.12 1464.80,402.13 1465.25,402.58 1465.70,403.04 1466.15,403.09 1466.60,402.83 1467.05,402.67 1467.50,403.19 1467.95,402.34 1468.40,403.35 1468.85,403.13 1469.30,403.20 1469.75,403.07 1470.20,403.76 1470.65,402.30 1471.10,403.03 1471.55,403.82 1472.00,403.30 1472.45,404.30 1472.90,403.96 1473.35,403.52 1473.80,404.27 1474.25,404.00 1474.70,404.37 1475.15,403.73 1475.60,403.92 1476.05,404.62 1476.50,404.38 1476.95,404.23 1477.40,404.28 1477.85,404.89 1478.30,405.26 1478.75,404.23 1479.20,405.03 1479.65,403.42 1480.10,404.23 1480.55,405.21 1481.00,405.61 1481.45,405.06 1481.90,405.28 1482.35,405.17 1482.80,405.39 1483.25,404.59 1483.70,405.40 1484.15,404.87 1484.60,404.81 1485.05,405.18 1485.50,405.01 1485.95,404.72 1486.40,405.04 1486.85,404.78 1487.30,405.74 1487.75,405.48 1488.20,404.93 1488.65,405.80 1489.10,405.71 1489.55,405.43 1490.00,404.87 1490.45,405.11 1490.90,405.34 1491.35,405.58 1491.80,404.85 1492.25,404.74 1492.70,405.79 1493.15,405.27 1493.60,404.83 1494.05,404.38 1494.50,404.99 1494.95,405.12 1495.40,404.96 1495.85,405.04 1496.30,404.49 1496.75,404.79 1497.20,403.89 1497.65,403.74 1498.10,403.29 1498.55,403.12 1499.00,404.01 1499.45,402.32 1499.90,402.92 1500.35,402.11 1500.80,401.84 1501.25,402.22 1501.70,401.21 1502.15,401.60 1502.60,402.49 1503.05,401.21 1503.50,401.20 1503.95,400.41 1504.40,400.86 1504.85,399.63 1505.30,400.19 1505.75,399.81 1506.20,400.76 1506.65,399.63 1507.10,399.38 1507.55,399.10 1508.00,398.84 1508.45,399.74 1508.90,400.25 1509.35,399.69 1509.80,400.38 1510.25,400.15 1510.70,400.50 1511.15,400.74 1511.60,400.27 1512.05,400.78 1512.50,401.80 1512.95,400.71 1513.40,401.81 1513.85,401.76 1514.30,401.68 1514.75,402.19 1515.20,402.67 1515.65,403.06 1516.10,401.86 1516.55,403.88 1517.00,402.94 1517.45,403.73 1517.90,403.39 1518.35,403.33 1518.80,403.76 1519.25,405.37 1519.70,404.86 1520.15,403.95 1520.60,404.20 1521.05,404.59 1521.50,404.46 1521.95,404.30 1522.40,404.39 1522.85,404.06 1523.30,404.74 1523.75,404.98 1524.20,405.84 1524.65,404.57 1525.10,405.27 1525.55,405.02 1526.00,405.74 1526.45,405.04 1526.90,404.81 1527.35,404.41 1527.80,405.62 1528.25,405.62 1528.70,406.00 1529.15,405.16 1529.60,406.62 1530.05,405.24 1530.50,405.63 1530.95,405.51 1531.40,406.08 1531.85,405.60 1532.30,405.31 1532.75,405.23 1533.20,406.12 1533.65,405.60 1534.10,405.59 1534.55,405.28 1535.00,405.66 1535.45,405.49 1535.90,405.76 1536.35,404.77 1536.80,405.06 1537.25,406.14 1537.70,405.18 1538.15,405.36 1538.60,405.22 1539.05,404.70 1539.50,404.80 1539.95,405.61 1540.40,405.30 1540.85,406.46 1541.30,404.79 1541.75,404.62 1542.20,405.50 1542.65,405.11 1543.10,406.22 1543.55,405.40 1544.00,405.62 1544.45,404.59 1544.90,405.64 1545.35,405.59 1545.80,405.61 1546.25,404.90 1546.70,404.53 1547.15,403.64 1547.60,403.21 1548.05,401.53 1548.50,400.74 1548.95,398.86 1549.40,397.89 1549.85,396.34 1550.30,395.69 1550.75,396.05 1551.20,398.03 1551.65,397.90 1552.10,399.48 1552.55,401.83 1553.00,402.18 1553.45,403.09 1553.90,403.48 1554.35,405.26 1554.80,404.25 1555.25,404.56 1555.70,405.01 1556.15,405.27 1556.60,405.40 1557.05,404.46 1557.50,405.32 1557.95,406.12 1558.40,404.55 1558.85,405.56 1559.30,405.67 1559.75,405.37 1560.20,405.30 1560.65,404.41 1561.10,406.09 1561.55,405.46 1562.00,405.54 1562.45,406.07 1562.90,404.48 1563.35,405.45 1563.80,405.67 1564.25,405.89 1564.70,405.86 1565.15,406.46 1565.60,405.62 1566.05,405.89 1566.50,405.89 1566.95,404.82 1567.40,405.07 1567.85,406.38 1568.30,405.29 1568.75,405.36 1569.20,404.76 1569.65,405.18 1570.10,404.72 1570.55,405.09 1571.00,405.49 1571.45,404.79 1571.90,404.89 1572.35,405.60 1572.80,405.24 1573.25,405.29 1573.70,405.67 1574.15,404.94 1574.60,405.03 1575.05,404.32 1575.50,405.59 1575.95,405.35 1576.40,405.53 1576.85,405.01 1577.30,405.79 1577.75,405.66 1578.20,405.47 1578.65,404.69 1579.10,404.96 1579.55,405.39 1580.00,405.11 1580.45,405.73 1580.90,405.91 1581.35,405.08 1581.80,405.27 1582.25,405.14 1582.70,405.75 1583.15,405.58 1583.60,406.29 1584.05,404.98 1584.50,404.33 1584.95,404.49 1585.40,403.74 1585.85,402.95 1586.30,402.10 1586.75,399.50 1587.20,397.51 1587.65,394.08 1588.10,393.99 1588.55,393.51 1589.00,394.90 1589.45,396.85 1589.90,399.79 1590.35,400.36 1590.80,401.86 1591.25,400.97 1591.70,400.61 1592.15,400.17 1592.60,400.62 1593.05,400.11 1593.50,401.04 1593.95,401.94 1594.40,402.73 1594.85,403.51 1595.30,405.08 1595.75,405.27 1596.20,404.58 1596.65,405.18 1597.10,404.67 1597.55,405.75 1598.00,405.62 1598.45,405.47 1598.90,404.82 1599.35,405.66 1599.80,405.72 1600.25,405.46 1600.70,405.89 1601.15,404.94 1601.60,405.37 1602.05,405.21 1602.50,405.77 1602.95,406.48 1603.40,405.71 1603.85,406.28 1604.30,405.70 1604.75,405.48 1605.20,406.21 1605.65,406.07 1606.10,406.34 1606.55,406.10 1607.00,405.22 1607.45,404.46 1607.90,405.59 1608.35,405.13 1608.80,404.92 1609.25,404.85 1609.70,405.14 1610.15,405.45 1610.60,405.36 1611.05,406.16 1611.50,404.57 1611.95,405.11 1612.40,404.57 1612.85,404.66 1613.30,405.07 1613.75,405.30 1614.20,404.52 1614.65,405.62 1615.10,404.61 1615.55,405.46 1616.00,405.01 1616.45,405.54 1616.90,405.34 1617.35,405.02 1617.80,405.40 1618.25,404.74 1618.70,404.68 1619.15,405.22 1619.60,405.96 1620.05,405.09 1620.50,405.34 1620.95,406.32 1621.40,405.61 1621.85,405.71 1622.30,405.44 1622.75,406.00 1623.20,406.32 1623.65,406.08 1624.10,406.39 1624.55,406.25 1625.00,406.53 1625.45,406.34 1625.90,405.99 1626.35,406.51 1626.80,407.11 1627.25,406.30 1627.70,405.54 1628.15,406.27 1628.60,406.12 1629.05,407.30 1629.50,406.25 1629.95,405.45 1630.40,405.81 1630.85,406.53 1631.30,405.27 1631.75,405.39 1632.20,405.65 1632.65,405.53 1633.10,405.22 1633.55,405.50 1634.00,404.84 1634.45,405.10 1634.90,404.89 1635.35,404.97 1635.80,405.03 1636.25,405.13 1636.70,405.18 1637.15,405.15 1637.60,405.54 1638.05,405.63 1638.50,405.75 1638.95,404.84 1639.40,405.41 1639.85,405.53 1640.30,405.22 1640.75,405.84 1641.20,405.47 1641.65,405.76 1642.10,404.92 1642.55,405.87 1643.00,405.47 1643.45,405.31 1643.90,405.49 1644.35,406.19 1644.80,406.15 1645.25,405.84 1645.70,406.08 1646.15,405.68 1646.60,405.43 1647.05,405.13 1647.50,406.10 1647.95,406.02 1648.40,406.07 1648.85,405.96 1649.30,406.46 1649.75,405.52 1650.20,405.55 1650.65,406.86 1651.10,406.37 1651.55,405.85 1652.00,404.92 1652.45,405.49 1652.90,405.64 1653.35,405.60 1653.80,405.76 1654.25,405.54 1654.70,406.15 1655.15,405.18 1655.60,405.45 1656.05,405.22 1656.50,405.67 1656.95,405.51 1657.40,405.77 1657.85,405.36 1658.30,407.06 1658.75,405.66 1659.20,405.02 1659.65,405.33 1660.10,405.25 1660.55,405.86 1661.00,405.93 1661.45,405.72 1661.90,405.42 1662.35,405.16 1662.80,406.14 1663.25,405.98 1663.70,404.09 1664.15,405.39 1664.60,405.13 1665.05,405.32 1665.50,406.24 1665.95,405.06 1666.40,405.03 1666.85,406.60 1667.30,405.39 1667.75,405.67 1668.20,406.18 1668.65,405.29 1669.10,405.57 1669.55,405.54 1670.00,405.92 1670.45,404.42 1670.90,404.78 1671.35,405.19 1671.80,405.51 1672.25,404.90 1672.70,405.27 1673.15,404.72 1673.60,404.90 1674.05,405.65 1674.50,404.95 1674.95,406.53 1675.40,405.57 1675.85,405.93 1676.30,405.66 1676.75,404.61 1677.20,404.58 1677.65,405.61 1678.10,404.99 1678.55,405.20 1679.00,405.36 1679.45,405.07 1679.90,406.17 1680.35,405.98 1680.80,405.76 1681.25,406.01 1681.70,405.42 1682.15,406.17 1682.60,405.12 1683.05,406.33 1683.50,405.14 1683.95,405.24 1684.40,405.98 1684.85,405.69 1685.30,405.01 1685.75,405.71 1686.20,405.39 1686.65,405.23 1687.10,405.44 1687.55,405.52 1688.00,405.77 1688.45,405.56 1688.90,405.44 1689.35,405.28 1689.80,406.09 1690.25,405.03 1690.70,406.45 1691.15,406.54 1691.60,406.46 1692.05,405.48 1692.50,406.52 1692.95,406.04 1693.40,406.06 1693.85,407.10 1694.30,405.70 1694.75,406.04 1695.20,405.24 1695.65,404.87 1696.10,406.07 1696.55,406.14 1697.00,406.30 1697.45,406.15 1697.90,405.15 1698.35,406.31 1698.80,406.50 1699.25,406.74 1699.70,405.52 1700.15,405.56 1700.60,405.54 1701.05,405.36 1701.50,404.90 1701.95,405.18 1702.40,406.02 1702.85,404.88 1703.30,404.54 1703.75,405.31 1704.20,405.36 1704.65,405.78 1705.10,405.23 1705.55,405.40 1706.00,405.01 1706.45,404.82 1706.90,405.50 1707.35,405.33 1707.80,405.29 1708.25,405.60 1708.70,404.94 1709.15,405.23 1709.60,405.27 1710.05,405.80 1710.50,404.37 1710.95,405.18 1711.40,405.39 1711.85,404.95 1712.30,405.28 1712.75,405.52 1713.20,405.53 1713.65,404.70 1714.10,404.96 1714.55,404.09 1715.00,405.49 1715.45,405.18 1715.90,405.81 1716.35,405.21 1716.80,404.65 1717.25,405.60 1717.70,404.64 1718.15,405.10 1718.60,404.91 1719.05,405.29 1719.50,405.39 1719.95,404.76 1720.40,404.62 1720.85,404.96 1721.30,404.76 1721.75,405.34 1722.20,404.98 1722.65,405.53 1723.10,406.09 1723.55,404.44 1724.00,404.51 1724.45,404.81 1724.90,404.60 1725.35,403.93 1725.80,403.14 1726.25,404.72 1726.70,403.08 1727.15,401.94 1727.60,400.76 1728.05,401.84 1728.50,400.64 1728.95,399.62 1729.40,398.53 1729.85,398.63 1730.30,398.39 1730.75,397.39 1731.20,400.15 1731.65,399.63 1732.10,399.38 1732.55,399.13 1733.00,399.30 1733.45,400.06 1733.90,398.34 1734.35,396.21 1734.80,395.29 1735.25,392.67 1735.70,389.91 1736.15,386.35 1736.60,383.05 1737.05,380.32 1737.50,377.95 1737.95,376.47 1738.40,377.31 1738.85,379.74 1739.30,381.84 1739.75,385.72 1740.20,388.99 1740.65,392.49 1741.10,394.97 1741.55,397.02 1742.00,398.81 1742.45,400.41 1742.90,401.60 1743.35,401.55 1743.80,401.97 1744.25,402.76 1744.70,402.48 1745.15,403.34 1745.60,404.16 1746.05,404.51 1746.50,404.85 1746.95,404.28 1747.40,404.45 1747.85,404.19 1748.30,404.26 1748.75,404.62 1749.20,404.99 1749.65,404.85 1750.10,403.68 1750.55,404.84 1751.00,404.68 1751.45,404.53 1751.90,405.06 1752.35,405.37 1752.80,404.96 1753.25,404.74 1753.70,406.66 1754.15,404.89 1754.60,405.48 1755.05,405.90 1755.50,404.88 1755.95,405.40 1756.40,404.84 1756.85,405.10 1757.30,404.74 1757.75,405.94 1758.20,404.55 1758.65,405.54 1759.10,405.46 1759.55,404.52 1760.00,406.18 1760.45,405.04 1760.90,405.17 1761.35,405.43 1761.80,404.94 1762.25,404.89 1762.70,405.30 1763.15,404.82 1763.60,405.34 1764.05,405.84 1764.50,404.61 1764.95,404.37 1765.40,405.10 1765.85,405.23 1766.30,405.46 1766.75,404.62 1767.20,404.27 1767.65,405.68 1768.10,405.51 1768.55,406.00 1769.00,404.78 1769.45,405.41 1769.90,405.53 1770.35,404.28 1770.80,405.51 1771.25,405.83 1771.70,405.66 1772.15,405.63 1772.60,405.66 1773.05,405.23 1773.50,404.84 1773.95,405.03 1774.40,405.25 1774.85,404.76 1775.30,405.56 1775.75,405.00 1776.20,405.01 1776.65,404.17 1777.10,405.16 1777.55,404.51 1778.00,405.49 1778.45,403.73 1778.90,404.27 1779.35,403.43 1779.80,402.68 1780.25,402.75 1780.70,401.39 1781.15,399.93 1781.60,400.51 1782.05,400.10 1782.50,401.62 1782.95,401.45 1783.40,402.86 1783.85,403.41 1784.30,403.68 1784.75,403.34 1785.20,403.28 1785.65,404.44 1786.10,404.93 1786.55,404.82 1787.00,404.69 1787.45,404.32 1787.90,404.88 1788.35,404.76 1788.80,404.71 1789.25,405.04 1789.70,405.11 1790.15,405.06 1790.60,404.83 1791.05,404.62 1791.50,404.96 1791.95,404.93 1792.40,404.22 1792.85,404.91 1793.30,404.35 1793.75,404.27 1794.20,404.67 1794.65,404.65 1795.10,405.42 1795.55,405.15 1796.00,405.59 1796.45,405.95 1796.90,405.27 1797.35,405.33 1797.80,404.89 1798.25,405.65 1798.70,405.22 1799.15,405.30 1799.60,404.81 1800.05,404.92 1800.50,405.06 1800.95,405.40 1801.40,405.90 1801.85,404.75 1802.30,405.31 1802.75,405.22 1803.20,406.35 1803.65,405.23 1804.10,405.11 1804.55,405.63 1805.00,404.72 1805.45,405.55 1805.90,404.73 1806.35,406.40 1806.80,405.37 1807.25,405.20 1807.70,404.74 1808.15,405.36 1808.60,405.50 1809.05,405.09 1809.50,405.87 1809.95,405.23 1810.40,405.41 1810.85,405.43 1811.30,405.76 1811.75,405.02 1812.20,405.30 1812.65,405.58 1813.10,405.82 1813.55,404.64 1814.00,406.04 1814.45,405.49 1814.90,405.35 1815.35,405.65 1815.80,404.93 1816.25,405.54 1816.70,405.89 1817.15,406.35 1817.60,405.73 1818.05,405.98 1818.50,405.60 1818.95,406.28 1819.40,405.56 1819.85,405.91 1820.30,405.56 1820.75,405.37 1821.20,405.43 1821.65,405.53 1822.10,406.39 1822.55,407.44 1823.00,405.96 1823.45,405.58 1823.90,406.03 1824.35,405.92 1824.80,405.52 1825.25,406.51 1825.70,406.15 1826.15,406.05 1826.60,405.75 1827.05,405.80 1827.50,406.10 1827.95,405.00 1828.40,405.13 1828.85,405.55 1829.30,404.77 1829.75,406.15 1830.20,404.97 1830.65,405.11 1831.10,405.50 1831.55,406.06 1832.00,405.31 1832.45,404.84 1832.90,404.79 1833.35,405.29 1833.80,404.92 1834.25,406.14 1834.70,405.60 1835.15,403.69 1835.60,404.66 1836.05,405.29 1836.50,406.41 1836.95,404.34 1837.40,405.04 1837.85,405.75 1838.30,404.70 1838.75,405.14 1839.20,405.05 1839.65,405.70 1840.10,404.80 1840.55,405.31 1841.00,404.59 1841.45,405.80 1841.90,405.68 1842.35,405.34 1842.80,405.40 1843.25,405.37 1843.70,405.32 1844.15,405.51 1844.60,405.64 1845.05,405.41 1845.50,405.27 1845.95,405.42 1846.40,405.37 1846.85,405.85 1847.30,405.70 1847.75,406.38 1848.20,405.43 1848.65,405.45 1849.10,405.20 1849.55,405.64 1850.00,405.31 1850.45,405.03 1850.90,405.52 1851.35,406.14 1851.80,405.09 1852.25,405.15 1852.70,405.32 1853.15,405.51 1853.60,406.01 1854.05,404.97 1854.50,405.23 1854.95,404.92 1855.40,405.04 1855.85,405.15 1856.30,404.83 1856.75,405.42 1857.20,405.60 1857.65,404.82 1858.10,404.73 1858.55,405.53 1859.00,404.87 1859.45,405.62 1859.90,403.77 1860.35,405.03 1860.80,404.67 1861.25,404.97 1861.70,405.70 1862.15,405.68 1862.60,405.06 1863.05,405.49 1863.50,404.57 1863.95,405.34 1864.40,404.99 1864.85,404.25 1865.30,405.58 1865.75,404.81 1866.20,405.27 1866.65,404.68 1867.10,405.11 1867.55,405.37 1868.00,405.18 1868.45,405.10 1868.90,405.64 1869.35,405.40 1869.80,405.27 1870.25,405.46 1870.70,405.41 1871.15,405.28 1871.60,405.68 1872.05,406.06 1872.50,404.93 1872.95,404.98 1873.40,404.75 1873.85,404.58 1874.30,405.74 1874.75,404.93 1875.20,405.30 1875.65,404.62 1876.10,404.93 1876.55,405.49 1877.00,405.45 1877.45,405.39 1877.90,405.40 1878.35,405.37 1878.80,405.58 1879.25,405.88 1879.70,405.37 1880.15,404.96 1880.60,404.59 1881.05,404.69 1881.50,404.84 1881.95,405.56 1882.40,404.26 1882.85,404.62 1883.30,404.56 1883.75,405.36 1884.20,404.71 1884.65,403.95 1885.10,403.82 1885.55,404.84 1886.00,403.95 1886.45,405.21 1886.90,405.11 1887.35,404.15 1887.80,404.35 1888.25,404.61 1888.70,403.76 1889.15,403.90 1889.60,404.09 1890.05,404.38 1890.50,404.46 1890.95,403.42 1891.40,404.35 1891.85,404.07 1892.30,403.89 1892.75,403.65 1893.20,404.30 1893.65,404.23 1894.10,403.04 1894.55,402.98 1895.00,402.20 1895.45,402.54 1895.90,402.98 1896.35,402.56 1896.80,402.62 1897.25,402.23 1897.70,402.16 1898.15,402.33 1898.60,402.22 1899.05,400.70 1899.50,401.21 1899.95,399.90 1900.40,401.05 1900.85,400.62 1901.30,400.29 1901.75,401.06 1902.20,400.46 1902.65,400.76 1903.10,400.65 1903.55,401.17 1904.00,400.44 1904.45,400.43 1904.90,400.75 1905.35,402.20 1905.80,400.94 1906.25,401.60 1906.70,402.43 1907.15,402.44 1907.60,402.00 1908.05,403.16 1908.50,402.83 1908.95,403.46 1909.40,403.21 1909.85,403.53 1910.30,403.13 1910.75,404.37 1911.20,403.58 1911.65,404.09 1912.10,404.71 1912.55,404.39 1913.00,404.80 1913.45,404.73 1913.90,405.00 1914.35,405.21 1914.80,404.33 1915.25,404.78 1915.70,406.15 1916.15,404.38 1916.60,405.01 1917.05,405.85 1917.50,404.51 1917.95,404.92 1918.40,405.00 1918.85,406.01 1919.30,405.02 1919.75,405.73 1920.20,405.04 1920.65,405.16 1921.10,404.55 1921.55,404.38 1922.00,404.77 1922.45,404.34 1922.90,404.80 1923.35,404.99 1923.80,405.17 1924.25,405.62 1924.70,405.69 1925.15,404.48 1925.60,404.68 1926.05,405.81 1926.50,404.97 1926.95,404.79 1927.40,405.48 1927.85,404.65 1928.30,405.29 1928.75,404.75 1929.20,405.47 1929.65,404.80 1930.10,405.37 1930.55,405.42 1931.00,405.63 1931.45,404.55 1931.90,404.90 1932.35,404.51 1932.80,404.49 1933.25,405.11 1933.70,405.33 1934.15,405.81 1934.60,405.12 1935.05,406.16 1935.50,405.43 1935.95,405.78 1936.40,405.28 1936.85,404.81 1937.30,406.13 1937.75,405.26 1938.20,405.94 1938.65,405.25 1939.10,405.76 1939.55,405.35 1940.00,405.32 1940.45,405.55 1940.90,405.93 1941.35,405.05 1941.80,405.09 1942.25,406.15 1942.70,405.35 1943.15,405.76 1943.60,404.97 1944.05,405.51 1944.50,406.00 1944.95,405.64 1945.40,405.79 1945.85,405.46 1946.30,405.60 1946.75,404.76 1947.20,404.74 1947.65,405.72 1948.10,404.75 1948.55,406.12 1949.00,406.02 1949.45,405.01 1949.90,404.57 1950.35,404.44 1950.80,405.76 1951.25,405.46 1951.70,406.00 1952.15,405.68 1952.60,406.13 1953.05,405.87 1953.50,404.90 1953.95,405.40 1954.40,405.08 1954.85,405.45 1955.30,405.23 1955.75,405.33 1956.20,406.06 1956.65,405.14 1957.10,404.80 1957.55,405.07 1958.00,405.11 1958.45,405.13 1958.90,405.20 1959.35,404.99 1959.80,405.74 1960.25,405.63 1960.70,404.88 1961.15,405.78 1961.60,405.92 1962.05,405.39 1962.50,404.99 1962.95,405.55 1963.40,405.29 1963.85,405.56 1964.30,404.98 1964.75,406.47 1965.20,405.39 1965.65,405.83 1966.10,405.28 1966.55,405.61 1967.00,404.57 1967.45,404.99 1967.90,404.35 1968.35,405.84 1968.80,404.79 1969.25,404.76 1969.70,405.90 1970.15,405.20 1970.60,405.35 1971.05,405.85 1971.50,405.66 1971.95,405.57 1972.40,405.65 1972.85,404.51 1973.30,405.82 1973.75,405.93 1974.20,406.05 1974.65,404.22 1975.10,404.71 1975.55,404.80 1976.00,405.69 1976.45,405.25 1976.90,405.88 1977.35,405.18 1977.80,404.78 1978.25,404.54 1978.70,404.86 1979.15,405.76 1979.60,404.89 1980.05,404.48 1980.50,405.32 1980.95,405.90 1981.40,406.39 1981.85,405.98 1982.30,405.85 1982.75,404.47 1983.20,405.26 1983.65,405.32 1984.10,405.60 1984.55,405.08 1985.00,405.78 1985.45,406.12 1985.90,405.61 1986.35,405.37 1986.80,405.61 1987.25,405.81 1987.70,405.81 1988.15,404.97 1988.60,406.05 1989.05,405.48 1989.50,405.35 1989.95,405.73 1990.40,405.14 1990.85,405.85 1991.30,406.38 1991.75,405.67 1992.20,405.57 1992.65,405.39 1993.10,406.22 1993.55,406.04 1994.00,404.86 1994.45,405.79 1994.90,405.04 1995.35,404.81 1995.80,405.28 1996.25,404.96 1996.70,405.71 1997.15,404.75 1997.60,404.69 1998.05,404.80 1998.50,405.16 1998.95,405.50 1999.40,404.67 1999.85,404.93 2000.30,404.49 2000.75,405.02 2001.20,404.68 2001.65,406.16 2002.10,406.08 2002.55,404.74 2003.00,405.21 2003.45,405.32 2003.90,404.72 2004.35,404.77 2004.80,405.25 2005.25,404.87 2005.70,404.88 2006.15,405.08 2006.60,405.65 2007.05,404.99 2007.50,405.31 2007.95,405.21 2008.40,405.33 2008.85,405.01 2009.30,404.93 2009.75,404.85 2010.20,405.29 2010.65,405.23 2011.10,405.00 2011.55,405.18 2012.00,406.16 2012.45,405.39 2012.90,404.26 2013.35,405.57 2013.80,405.13 2014.25,404.55 2014.70,405.63 2015.15,405.04 2015.60,405.51 2016.05,404.81 2016.50,405.53 2016.95,404.98 2017.40,405.45 2017.85,405.35 2018.30,404.54 2018.75,405.37 2019.20,405.48 2019.65,405.22 2020.10,404.50 2020.55,405.31 2021.00,405.10 2021.45,405.82 2021.90,404.79 2022.35,405.65 2022.80,405.18 2023.25,406.39 2023.70,404.79 2024.15,405.49 2024.60,404.82 2025.05,404.67 2025.50,405.62 2025.95,405.29 2026.40,405.45 2026.85,404.35 2027.30,404.47 2027.75,405.32 2028.20,404.53 2028.65,405.40 2029.10,405.50 2029.55,404.67 2030.00,404.65 2030.45,404.63 2030.90,404.52 2031.35,404.64 2031.80,404.63 2032.25,404.77 2032.70,404.50 2033.15,404.41 2033.60,404.53 2034.05,404.49 2034.50,404.69 2034.95,404.99 2035.40,405.79 2035.85,404.09 2036.30,404.13 2036.75,404.66 2037.20,404.77 2037.65,404.77 2038.10,405.56 2038.55,404.00 2039.00,404.76 2039.45,404.40 2039.90,404.91 2040.35,405.37 2040.80,404.51 2041.25,405.65 2041.70,404.92 2042.15,404.79 2042.60,404.47 2043.05,404.79 2043.50,404.79 2043.95,405.44 2044.40,404.38 2044.85,405.20 2045.30,405.39 2045.75,404.88 2046.20,405.35 2046.65,404.66 2047.10,405.28 2047.55,404.93 2048.00,406.13 2048.45,405.08 2048.90,405.11 2049.35,405.39 2049.80,404.87 2050.25,405.00 2050.70,405.27 2051.15,405.41 2051.60,404.67 2052.05,405.09 2052.50,404.89 2052.95,405.29 2053.40,405.37 2053.85,405.13 2054.30,405.15 2054.75,405.86 2055.20,404.63 2055.65,405.81 2056.10,405.20 2056.55,404.35 2057.00,405.14 2057.45,404.39 2057.90,404.91 2058.35,404.12 2058.80,405.31 2059.25,404.64 2059.70,405.69 2060.15,404.54 2060.60,405.00 2061.05,404.30 2061.50,404.70 2061.95,404.66 2062.40,404.86 2062.85,405.87 2063.30,405.30 2063.75,405.08 2064.20,404.49 2064.65,404.56 2065.10,404.62 2065.55,404.34 2066.00,405.03 2066.45,404.76 2066.90,405.00 2067.35,404.75 2067.80,404.97 2068.25,405.56 2068.70,404.98 2069.15,405.34 2069.60,404.43 2070.05,404.85 2070.50,404.73 2070.95,405.09 2071.40,405.07 2071.85,404.56" stroke="#0066ff" stroke-width="2.0"/>
<polyline points="180.50,840.60 180.95,839.57 181.40,843.49 181.85,836.01 182.30,849.53 182.75,843.39 183.20,841.09 183.65,846.38 184.10,842.45 184.55,840.77 185.00,843.78 185.45,841.71 185.90,841.78 186.35,840.44 186.80,843.54 187.25,842.16 187.70,843.53 188.15,841.15 188.60,840.02 189.05,840.68 189.50,844.09 189.95,843.35 190.40,843.58 190.85,843.74 191.30,841.07 191.75,844.75 192.20,847.08 192.65,840.37 193.10,840.17 193.55,837.83 194.00,844.81 194.45,842.03 194.90,845.51 195.35,845.01 195.80,844.36 196.25,844.64 196.70,843.75 197.15,846.11 197.60,842.40 198.05,843.67 198.50,845.20 198.95,848.35 199.40,843.84 199.85,839.26 200.30,844.88 200.75,847.81 201.20,845.86 201.65,848.77 202.10,843.11 202.55,849.11 203.00,848.95 203.45,844.41 203.90,852.74 204.35,849.60 204.80,847.51 205.25,849.37 205.70,849.91 206.15,848.07 206.60,847.15 207.05,846.27 207.50,849.39 207.95,848.62 208.40,847.99 208.85,848.47 209.30,850.15 209.75,847.34 210.20,846.69 210.65,844.93 211.10,843.71 211.55,849.80 212.00,852.78 212.45,850.13 212.90,848.72 213.35,851.25 213.80,850.07 214.25,848.11 214.70,848.89 215.15,847.86 215.60,848.36 216.05,852.23 216.50,851.50 216.95,851.02 217.40,854.09 217.85,852.02 218.30,850.77 218.75,851.80 219.20,850.45 219.65,852.70 220.10,854.65 220.55,851.13 221.00,858.05 221.45,851.01 221.90,852.79 222.35,850.75 222.80,851.71 223.25,850.64 223.70,851.36 224.15,851.10 224.60,851.12 225.05,850.80 225.50,849.42 225.95,851.77 226.40,851.41 226.85,853.44 227.30,853.08 227.75,856.30 228.20,852.47 228.65,850.67 229.10,855.03 229.55,849.59 230.00,853.89 230.45,850.07 230.90,852.53 231.35,848.14 231.80,853.33 232.25,851.77 232.70,850.27 233.15,855.28 233.60,853.76 234.05,852.55 234.50,851.10 234.95,852.09 235.40,851.99 235.85,853.59 236.30,853.84 236.75,850.95 237.20,851.69 237.65,852.05 238.10,850.82 238.55,852.19 239.00,853.58 239.45,855.27 239.90,856.71 240.35,853.06 240.80,856.49 241.25,853.88 241.70,858.75 242.15,854.46 242.60,855.45 243.05,853.03 243.50,853.48 243.95,855.35 244.40,856.88 244.85,860.31 245.30,852.27 245.75,856.90 246.20,853.98 246.65,858.99 247.10,855.40 247.55,857.91 248.00,853.26 248.45,856.44 248.90,852.01 249.35,854.58 249.80,862.72 250.25,854.40 250.70,855.46 251.15,856.23 251.60,855.07 252.05,854.16 252.50,851.64 252.95,852.54 253.40,850.27 253.85,849.99 254.30,850.20 254.75,853.23 255.20,853.36 255.65,855.64 256.10,855.11 256.55,854.26 257.00,851.46 257.45,854.04 257.90,859.47 258.35,851.94 258.80,855.86 259.25,854.69 259.70,849.03 260.15,854.14 260.60,851.18 261.05,849.03 261.50,855.22 261.95,851.31 262.40,851.68 262.85,853.56 263.30,852.74 263.75,856.16 264.20,854.54 264.65,852.91 265.10,854.67 265.55,849.24 266.00,853.55 266.45,854.32 266.90,852.15 267.35,851.16 267.80,853.88 268.25,856.56 268.70,853.03 269.15,850.11 269.60,854.48 270.05,848.11 270.50,848.48 270.95,850.71 271.40,853.11 271.85,849.81 272.30,853.84 272.75,851.99 273.20,848.19 273.65,847.73 274.10,850.61 274.55,853.14 275.00,851.44 275.45,851.29 275.90,850.79 276.35,852.32 276.80,851.54 277.25,851.13 277.70,848.76 278.15,853.01 278.60,852.85 279.05,847.62 279.50,854.37 279.95,851.36 280.40,849.14 280.85,846.99 281.30,850.86 281.75,850.59 282.20,847.92 282.65,845.70 283.10,851.02 283.55,847.46 284.00,847.18 284.45,853.09 284.90,851.60 285.35,849.32 285.80,846.20 286.25,848.12 286.70,842.49 287.15,846.21 287.60,844.26 288.05,842.94 288.50,842.33 288.95,846.07 289.40,852.15 289.85,844.59 290.30,845.95 290.75,842.54 291.20,837.81 291.65,840.64 292.10,843.16 292.55,845.25 293.00,849.19 293.45,844.28 293.90,840.54 294.35,841.70 294.80,840.83 295.25,840.07 295.70,845.96 296.15,843.64 296.60,840.33 297.05,840.16 297.50,841.36 297.95,838.48 298.40,842.24 298.85,838.93 299.30,840.55 299.75,839.23 300.20,839.93 300.65,837.99 301.10,837.37 301.55,837.95 302.00,838.16 302.45,838.54 302.90,838.90 303.35,841.11 303.80,839.56 304.25,837.43 304.70,839.50 305.15,836.58 305.60,840.30 306.05,838.29 306.50,834.54 306.95,838.25 307.40,838.34 307.85,831.47 308.30,835.37 308.75,835.90 309.20,833.00 309.65,833.25 310.10,834.04 310.55,836.66 311.00,835.98 311.45,840.31 311.90,831.68 312.35,837.56 312.80,830.08 313.25,835.80 313.70,832.79 314.15,830.97 314.60,833.20 315.05,835.36 315.50,837.07 315.95,834.69 316.40,834.27 316.85,831.83 317.30,836.31 317.75,835.42 318.20,831.77 318.65,832.70 319.10,830.57 319.55,834.75 320.00,832.85 320.45,830.83 320.90,831.57 321.35,831.58 321.80,830.04 322.25,828.42 322.70,828.30 323.15,827.20 323.60,830.97 324.05,834.34 324.50,826.52 324.95,829.86 325.40,830.35 325.85,827.72 326.30,830.15 326.75,827.01 327.20,831.18 327.65,827.69 328.10,828.78 328.55,829.57 329.00,826.95 329.45,824.86 329.90,826.91 330.35,830.08 330.80,827.44 331.25,826.84 331.70,824.74 332.15,826.46 332.60,827.10 333.05,824.85 333.50,827.89 333.95,823.08 334.40,821.03 334.85,819.60 335.30,824.25 335.75,821.40 336.20,822.86 336.65,821.51 337.10,823.37 337.55,822.15 338.00,818.65 338.45,819.85 338.90,821.26 339.35,816.32 339.80,821.25 340.25,823.14 340.70,819.13 341.15,816.39 341.60,816.84 342.05,813.89 342.50,815.65 342.95,814.01 343.40,815.01 343.85,814.73 344.30,814.75 344.75,816.08 345.20,814.84 345.65,815.29 346.10,808.31 346.55,808.64 347.00,812.21 347.45,812.17 347.90,812.48 348.35,807.86 348.80,810.77 349.25,810.65 349.70,812.15 350.15,809.06 350.60,810.11 351.05,807.05 351.50,808.20 351.95,807.35 352.40,809.03 352.85,805.70 353.30,805.63 353.75,807.92 354.20,810.04 354.65,807.41 355.10,804.52 355.55,803.75 356.00,810.73 356.45,806.06 356.90,807.73 357.35,804.69 357.80,801.55 358.25,802.06 358.70,800.96 359.15,800.03 359.60,804.64 360.05,803.33 360.50,799.30 360.95,804.76 361.40,801.04 361.85,798.30 362.30,800.44 362.75,799.35 363.20,797.70 363.65,795.23 364.10,798.67 364.55,798.78 365.00,793.19 365.45,798.74 365.90,798.58 366.35,796.36 366.80,797.24 367.25,796.14 367.70,794.59 368.15,799.57 368.60,798.68 369.05,796.03 369.50,795.61 369.95,795.05 370.40,793.58 370.85,793.61 371.30,791.68 371.75,792.46 372.20,794.09 372.65,795.07 373.10,792.56 373.55,799.71 374.00,792.54 374.45,793.80 374.90,787.22 375.35,792.36 375.80,795.05 376.25,791.59 376.70,794.86 377.15,794.10 377.60,789.82 378.05,793.16 378.50,789.85 378.95,796.26 379.40,790.23 379.85,788.55 380.30,789.46 380.75,787.56 381.20,789.24 381.65,787.63 382.10,787.28 382.55,787.86 383.00,788.67 383.45,791.27 383.90,784.98 384.35,786.60 384.80,785.71 385.25,784.53 385.70,784.47 386.15,785.11 386.60,787.55 387.05,785.82 387.50,784.73 387.95,786.37 388.40,779.01 388.85,784.42 389.30,785.88 389.75,783.40 390.20,786.69 390.65,785.26 391.10,783.60 391.55,782.07 392.00,786.83 392.45,783.43 392.90,789.13 393.35,782.36 393.80,784.86 394.25,782.01 394.70,783.20 395.15,784.00 395.60,780.73 396.05,781.49 396.50,781.83 396.95,781.65 397.40,782.18 397.85,783.09 398.30,782.54 398.75,781.42 399.20,780.26 399.65,778.76 400.10,779.41 400.55,779.74 401.00,783.45 401.45,779.35 401.90,777.69 402.35,781.21 402.80,778.22 403.25,778.53 403.70,779.62 404.15,785.68 404.60,774.62 405.05,776.60 405.50,778.77 405.95,777.54 406.40,775.53 406.85,776.88 407.30,780.52 407.75,776.62 408.20,776.93 408.65,778.96 409.10,776.39 409.55,777.98 410.00,776.01 410.45,775.94 410.90,774.72 411.35,778.39 411.80,775.55 412.25,775.03 412.70,773.83 413.15,779.37 413.60,777.38 414.05,775.33 414.50,773.75 414.95,771.65 415.40,775.08 415.85,769.85 416.30,771.26 416.75,776.83 417.20,775.95 417.65,772.81 418.10,773.29 418.55,773.26 419.00,774.20 419.45,772.50 419.90,770.32 420.35,776.31 420.80,773.76 421.25,775.64 421.70,775.29 422.15,775.70 422.60,773.33 423.05,774.19 423.50,774.24 423.95,772.51 424.40,771.27 424.85,772.57 425.30,770.72 425.75,771.25 426.20,775.77 426.65,772.58 427.10,770.28 427.55,771.29 428.00,772.14 428.45,775.09 428.90,775.78 429.35,772.56 429.80,769.53 430.25,772.44 430.70,771.15 431.15,772.64 431.60,770.38 432.05,770.36 432.50,770.47 432.95,768.31 433.40,767.26 433.85,769.30 434.30,770.49 434.75,769.36 435.20,770.14 435.65,769.99 436.10,771.57 436.55,771.55 437.00,773.52 437.45,771.39 437.90,769.97 438.35,772.47 438.80,772.54 439.25,769.87 439.70,769.43 440.15,766.05 440.60,768.50 441.05,767.71 441.50,768.99 441.95,768.14 442.40,768.80 442.85,769.02 443.30,770.07 443.75,769.47 444.20,768.18 444.65,767.21 445.10,771.79 445.55,771.63 446.00,767.58 446.45,768.77 446.90,765.38 447.35,765.29 447.80,767.63 448.25,771.09 448.70,766.31 449.15,766.93 449.60,771.49 450.05,764.95 450.50,769.98 450.95,769.35 451.40,768.02 451.85,765.79 452.30,773.34 452.75,766.18 453.20,767.87 453.65,768.22 454.10,766.76 454.55,765.53 455.00,770.89 455.45,768.47 455.90,764.44 456.35,766.37 456.80,769.00 457.25,769.33 457.70,766.01 458.15,768.69 458.60,769.20 459.05,769.47 459.50,769.51 459.95,765.48 460.40,772.19 460.85,769.26 461.30,772.14 461.75,774.23 462.20,768.65 462.65,766.21 463.10,769.86 463.55,768.28 464.00,767.61 464.45,766.50 464.90,771.30 465.35,774.61 465.80,765.61 466.25,767.20 466.70,765.92 467.15,768.59 467.60,764.75 468.05,765.97 468.50,767.42 468.95,766.38 469.40,768.96 469.85,769.98 470.30,765.75 470.75,766.15 471.20,767.38 471.65,769.10 472.10,767.41 472.55,767.95 473.00,768.67 473.45,768.37 473.90,769.21 474.35,767.03 474.80,766.88 475.25,770.70 475.70,767.04 476.15,769.00 476.60,769.43 477.05,764.35 477.50,767.27 477.95,764.66 478.40,771.39 478.85,769.58 479.30,765.71 479.75,766.01 480.20,771.15 480.65,770.37 481.10,767.68 481.55,769.49 482.00,766.56 482.45,766.95 482.90,768.24 483.35,764.02 483.80,764.84 484.25,767.86 484.70,768.38 485.15,765.00 485.60,766.14 486.05,772.51 486.50,764.77 486.95,763.57 487.40,764.70 487.85,764.26 488.30,767.81 488.75,765.61 489.20,765.35 489.65,778.28 490.10,764.67 490.55,766.85 491.00,767.41 491.45,767.80 491.90,766.93 492.35,768.13 492.80,767.91 493.25,764.43 493.70,766.58 494.15,766.36 494.60,766.02 495.05,768.30 495.50,765.63 495.95,769.22 496.40,769.89 496.85,767.50 497.30,767.20 497.75,765.79 498.20,762.31 498.65,768.07 499.10,766.00 499.55,766.29 500.00,765.65 500.45,769.25 500.90,769.29 501.35,767.12 501.80,768.05 502.25,766.61 502.70,770.79 503.15,765.10 503.60,766.26 504.05,764.89 504.50,766.87 504.95,767.73 505.40,766.79 505.85,768.47 506.30,774.64 506.75,762.22 507.20,766.43 507.65,765.16 508.10,765.58 508.55,764.11 509.00,766.75 509.45,766.34 509.90,760.76 510.35,766.31 510.80,765.60 511.25,762.16 511.70,771.78 512.15,766.04 512.60,764.67 513.05,767.05 513.50,764.95 513.95,761.92 514.40,773.19 514.85,763.30 515.30,766.37 515.75,766.96 516.20,769.48 516.65,768.74 517.10,765.99 517.55,765.47 518.00,765.76 518.45,768.71 518.90,769.91 519.35,767.29 519.80,764.87 520.25,768.30 520.70,765.59 521.15,760.13 521.60,766.16 522.05,767.92 522.50,769.13 522.95,768.97 523.40,769.51 523.85,764.49 524.30,761.76 524.75,763.06 525.20,766.57 525.65,765.98 526.10,765.54 526.55,765.70 527.00,765.73 527.45,767.99 527.90,764.32 528.35,766.45 528.80,768.08 529.25,764.52 529.70,765.01 530.15,769.09 530.60,764.11 531.05,768.66 531.50,765.34 531.95,767.90 532.40,767.76 532.85,766.91 533.30,761.50 533.75,758.28 534.20,764.49 534.65,767.50 535.10,763.74 535.55,765.01 536.00,765.65 536.45,768.88 536.90,763.45 537.35,763.30 537.80,767.31 538.25,762.15 538.70,766.43 539.15,764.59 539.60,762.72 540.05,756.24 540.50,763.59 540.95,765.60 541.40,766.11 541.85,768.63 542.30,765.51 542.75,765.95 543.20,764.58 543.65,765.77 544.10,767.68 544.55,762.07 545.00,766.81 545.45,766.61 545.90,766.07 546.35,766.47 546.80,767.39 547.25,766.03 547.70,764.66 548.15,766.11 548.60,763.35 549.05,765.44 549.50,763.40 549.95,767.04 550.40,765.81 550.85,765.86 551.30,763.12 551.75,765.50 552.20,759.98 552.65,767.07 553.10,763.18 553.55,767.49 554.00,770.69 554.45,764.44 554.90,770.90 555.35,766.19 555.80,764.39 556.25,763.70 556.70,766.04 557.15,767.52 557.60,765.80 558.05,762.36 558.50,763.21 558.95,764.56 559.40,767.28 559.85,765.13 560.30,767.52 560.75,767.26 561.20,768.29 561.65,764.63 562.10,764.34 562.55,761.07 563.00,765.41 563.45,765.14 563.90,766.40 564.35,762.47 564.80,763.27 565.25,766.65 565.70,767.10 566.15,761.85 566.60,763.16 567.05,765.28 567.50,767.70 567.95,765.39 568.40,763.42 568.85,765.34 569.30,765.87 569.75,765.37 570.20,760.47 570.65,765.70 571.10,764.67 571.55,761.19 572.00,761.08 572.45,763.02 572.90,764.13 573.35,762.39 573.80,760.31 574.25,763.74 574.70,763.63 575.15,767.99 575.60,761.00 576.05,768.24 576.50,766.52 576.95,763.64 577.40,765.83 577.85,762.96 578.30,764.50 578.75,761.28 579.20,763.08 579.65,761.48 580.10,760.07 580.55,762.74 581.00,756.04 581.45,764.23 581.90,765.82 582.35,763.49 582.80,764.10 583.25,764.52 583.70,760.57 584.15,764.20 584.60,763.42 585.05,763.13 585.50,760.78 585.95,759.16 586.40,762.05 586.85,762.94 587.30,762.89 587.75,764.40 588.20,764.80 588.65,762.97 589.10,757.20 589.55,761.65 590.00,763.20 590.45,763.46 590.90,766.46 591.35,762.05 591.80,758.84 592.25,764.02 592.70,759.99 593.15,761.48 593.60,760.60 594.05,759.52 594.50,763.68 594.95,762.00 595.40,759.74 595.85,766.43 596.30,757.58 596.75,762.34 597.20,760.26 597.65,759.81 598.10,760.14 598.55,760.40 599.00,762.79 599.45,761.70 599.90,760.62 600.35,761.89 600.80,765.39 601.25,773.09 601.70,755.14 602.15,760.07 602.60,759.48 603.05,761.85 603.50,764.03 603.95,762.84 604.40,756.81 604.85,761.73 605.30,761.10 605.75,761.63 606.20,763.59 606.65,758.35 607.10,762.18 607.55,756.66 608.00,759.89 608.45,760.38 608.90,763.44 609.35,757.57 609.80,755.10 610.25,759.63 610.70,756.82 611.15,759.43 611.60,756.56 612.05,752.85 612.50,759.11 612.95,757.62 613.40,759.33 613.85,755.34 614.30,760.19 614.75,755.95 615.20,757.96 615.65,754.31 616.10,753.40 616.55,755.71 617.00,756.63 617.45,759.54 617.90,757.44 618.35,758.14 618.80,758.03 619.25,762.75 619.70,755.62 620.15,759.80 620.60,762.69 621.05,758.44 621.50,757.03 621.95,760.18 622.40,760.79 622.85,755.39 623.30,757.58 623.75,750.58 624.20,759.32 624.65,759.51 625.10,756.46 625.55,759.36 626.00,756.53 626.45,757.86 626.90,757.91 627.35,761.36 627.80,758.06 628.25,749.60 628.70,755.93 629.15,760.03 629.60,754.30 630.05,756.68 630.50,756.96 630.95,744.13 631.40,756.67 631.85,759.28 632.30,757.84 632.75,755.66 633.20,758.83 633.65,758.56 634.10,760.81 634.55,755.33 635.00,755.75 635.45,755.69 635.90,753.55 636.35,751.32 636.80,747.22 637.25,740.55 637.70,731.75 638.15,726.25 638.60,718.88 639.05,718.39 639.50,723.93 639.95,733.97 640.40,742.21 640.85,745.18 641.30,752.15 641.75,756.09 642.20,756.35 642.65,753.87 643.10,753.61 643.55,759.59 644.00,760.06 644.45,758.94 644.90,756.13 645.35,761.31 645.80,761.06 646.25,756.40 646.70,758.69 647.15,755.75 647.60,760.91 648.05,756.30 648.50,761.29 648.95,760.52 649.40,759.31 649.85,762.02 650.30,758.36 650.75,760.21 651.20,760.45 651.65,759.22 652.10,757.93 652.55,761.40 653.00,759.86 653.45,758.97 653.90,758.83 654.35,759.32 654.80,763.66 655.25,759.55 655.70,762.44 656.15,757.93 656.60,757.81 657.05,756.26 657.50,760.19 657.95,756.09 658.40,757.46 658.85,756.49 659.30,758.64 659.75,766.94 660.20,757.07 660.65,760.25 661.10,760.17 661.55,760.05 662.00,761.32 662.45,758.66 662.90,762.82 663.35,758.20 663.80,761.00 664.25,761.47 664.70,762.41 665.15,763.39 665.60,758.15 666.05,757.99 666.50,760.58 666.95,759.20 667.40,761.77 667.85,760.72 668.30,761.90 668.75,761.34 669.20,761.52 669.65,761.10 670.10,760.40 670.55,760.20 671.00,764.89 671.45,757.69 671.90,760.77 672.35,759.12 672.80,761.94 673.25,763.86 673.70,762.34 674.15,758.66 674.60,760.49 675.05,758.37 675.50,762.58 675.95,763.20 676.40,759.74 676.85,761.61 677.30,759.64 677.75,757.59 678.20,759.75 678.65,757.46 679.10,759.35 679.55,760.81 680.00,761.76 680.45,762.67 680.90,759.58 681.35,760.80 681.80,761.19 682.25,761.46 682.70,754.78 683.15,757.25 683.60,761.04 684.05,757.58 684.50,760.20 684.95,761.35 685.40,756.16 685.85,759.43 686.30,760.21 686.75,759.80 687.20,757.00 687.65,760.23 688.10,754.25 688.55,761.37 689.00,760.65 689.45,759.01 689.90,759.84 690.35,758.07 690.80,758.26 691.25,756.40 691.70,759.08 692.15,761.18 692.60,759.72 693.05,759.56 693.50,758.22 693.95,758.19 694.40,760.44 694.85,756.45 695.30,763.12 695.75,759.03 696.20,763.04 696.65,761.72 697.10,758.72 697.55,760.99 698.00,760.28 698.45,760.77 698.90,761.54 699.35,766.51 699.80,758.37 700.25,759.00 700.70,757.51 701.15,761.04 701.60,760.88 702.05,761.07 702.50,761.50 702.95,760.46 703.40,762.59 703.85,757.17 704.30,760.24 704.75,760.50 705.20,763.31 705.65,763.00 706.10,763.36 706.55,766.64 707.00,763.96 707.45,760.05 707.90,761.72 708.35,757.69 708.80,759.63 709.25,764.80 709.70,761.09 710.15,762.67 710.60,758.48 711.05,759.76 711.50,762.71 711.95,762.01 712.40,759.49 712.85,761.39 713.30,760.97 713.75,762.95 714.20,763.55 714.65,762.07 715.10,762.71 715.55,762.71 716.00,758.77 716.45,762.92 716.90,766.89 717.35,763.97 717.80,758.96 718.25,764.10 718.70,761.58 719.15,763.37 719.60,765.17 720.05,759.79 720.50,760.16 720.95,768.05 721.40,760.02 721.85,760.30 722.30,762.95 722.75,761.58 723.20,763.63 723.65,763.08 724.10,762.35 724.55,764.59 725.00,770.35 725.45,762.64 725.90,765.46 726.35,764.69 726.80,762.69 727.25,763.50 727.70,760.74 728.15,761.61 728.60,764.57 729.05,762.31 729.50,765.01 729.95,760.45 730.40,761.91 730.85,761.40 731.30,763.72 731.75,764.82 732.20,760.23 732.65,764.04 733.10,761.55 733.55,762.11 734.00,764.57 734.45,762.18 734.90,763.60 735.35,762.60 735.80,762.03 736.25,761.57 736.70,758.90 737.15,760.83 737.60,763.21 738.05,763.16 738.50,759.82 738.95,764.53 739.40,769.92 739.85,760.04 740.30,761.10 740.75,755.87 741.20,759.36 741.65,761.96 742.10,760.93 742.55,763.03 743.00,763.45 743.45,764.43 743.90,762.26 744.35,759.06 744.80,768.06 745.25,761.33 745.70,759.41 746.15,759.82 746.60,760.52 747.05,765.79 747.50,763.92 747.95,765.22 748.40,758.73 748.85,765.49 749.30,765.63 749.75,762.07 750.20,760.89 750.65,764.06 751.10,763.33 751.55,766.80 752.00,772.99 752.45,761.64 752.90,763.22 753.35,760.79 753.80,761.72 754.25,761.77 754.70,762.41 755.15,766.40 755.60,764.93 756.05,761.66 756.50,765.91 756.95,760.44 757.40,762.53 757.85,763.28 758.30,765.85 758.75,764.79 759.20,764.57 759.65,764.30 760.10,765.03 760.55,766.37 761.00,762.27 761.45,760.89 761.90,760.48 762.35,766.15 762.80,765.12 763.25,766.46 763.70,766.14 764.15,765.67 764.60,768.20 765.05,762.22 765.50,771.83 765.95,762.77 766.40,764.38 766.85,762.20 767.30,765.49 767.75,761.61 768.20,767.20 768.65,762.24 769.10,763.83 769.55,764.66 770.00,764.24 770.45,768.00 770.90,765.04 771.35,769.04 771.80,764.13 772.25,764.68 772.70,762.22 773.15,767.15 773.60,768.13 774.05,766.78 774.50,765.73 774.95,764.39 775.40,770.87 775.85,765.99 776.30,762.75 776.75,765.64 777.20,761.49 777.65,766.92 778.10,770.41 778.55,769.44 779.00,766.32 779.45,765.33 779.90,763.93 780.35,767.37 780.80,766.51 781.25,765.41 781.70,765.32 782.15,765.81 782.60,768.04 783.05,769.89 783.50,766.71 783.95,766.45 784.40,764.13 784.85,763.63 785.30,764.00 785.75,768.13 786.20,766.59 786.65,770.00 787.10,767.04 787.55,765.82 788.00,764.08 788.45,765.99 788.90,763.80 789.35,770.92 789.80,767.86 790.25,766.96 790.70,771.76 791.15,767.24 791.60,768.72 792.05,767.51 792.50,768.76 792.95,767.16 793.40,768.88 793.85,770.61 794.30,764.96 794.75,763.04 795.20,770.13 795.65,767.76 796.10,769.38 796.55,767.05 797.00,770.40 797.45,771.35 797.90,765.51 798.35,768.99 798.80,766.60 799.25,764.68 799.70,766.83 800.15,768.57 800.60,764.93 801.05,765.34 801.50,770.13 801.95,767.72 802.40,768.28 802.85,765.78 803.30,766.62 803.75,768.11 804.20,768.32 804.65,768.05 805.10,774.99 805.55,768.32 806.00,766.33 806.45,766.55 806.90,768.44 807.35,770.98 807.80,767.47 808.25,763.49 808.70,767.85 809.15,767.59 809.60,767.17 810.05,768.11 810.50,769.88 810.95,769.89 811.40,769.20 811.85,769.26 812.30,765.85 812.75,770.23 813.20,769.76 813.65,767.77 814.10,765.22 814.55,766.56 815.00,762.68 815.45,766.10 815.90,766.20 816.35,769.44 816.80,765.77 817.25,769.14 817.70,768.32 818.15,768.00 818.60,770.33 819.05,771.61 819.50,769.71 819.95,768.47 820.40,764.75 820.85,771.97 821.30,768.74 821.75,765.87 822.20,769.61 822.65,772.09 823.10,767.48 823.55,768.16 824.00,774.41 824.45,771.19 824.90,770.71 825.35,771.97 825.80,765.72 826.25,768.72 826.70,769.79 827.15,774.50 827.60,768.95 828.05,768.98 828.50,767.36 828.95,768.45 829.40,772.35 829.85,770.10 830.30,768.45 830.75,773.99 831.20,770.89 831.65,770.66 832.10,773.63 832.55,769.22 833.00,769.33 833.45,767.49 833.90,771.41 834.35,762.78 834.80,773.24 835.25,768.60 835.70,765.83 836.15,770.54 836.60,772.59 837.05,769.44 837.50,771.06 837.95,771.84 838.40,774.24 838.85,771.56 839.30,770.79 839.75,769.56 840.20,767.71 840.65,773.35 841.10,772.67 841.55,768.58 842.00,771.51 842.45,774.75 842.90,769.91 843.35,769.84 843.80,773.09 844.25,767.68 844.70,769.16 845.15,769.97 845.60,769.89 846.05,779.85 846.50,770.24 846.95,770.67 847.40,767.59 847.85,768.91 848.30,766.89 848.75,769.85 849.20,762.74 849.65,762.41 850.10,760.16 850.55,751.79 851.00,749.37 851.45,733.34 851.90,723.83 852.35,712.95 852.80,713.40 853.25,721.16 853.70,723.32 854.15,733.22 854.60,736.04 855.05,735.01 855.50,743.38 855.95,746.13 856.40,748.40 856.85,756.11 857.30,756.58 857.75,761.34 858.20,768.37 858.65,766.72 859.10,770.67 859.55,768.22 860.00,768.76 860.45,767.42 860.90,771.85 861.35,770.15 861.80,771.84 862.25,771.16 862.70,771.57 863.15,771.43 863.60,769.57 864.05,770.97 864.50,769.56 864.95,769.21 865.40,771.78 865.85,774.78 866.30,777.19 866.75,775.43 867.20,771.83 867.65,769.08 868.10,769.46 868.55,772.83 869.00,772.25 869.45,771.23 869.90,773.05 870.35,769.79 870.80,772.52 871.25,770.73 871.70,770.06 872.15,771.88 872.60,775.88 873.05,774.30 873.50,771.30 873.95,770.33 874.40,776.45 874.85,769.73 875.30,772.28 875.75,772.09 876.20,768.59 876.65,776.08 877.10,774.87 877.55,772.38 878.00,773.00 878.45,772.90 878.90,771.77 879.35,774.25 879.80,771.57 880.25,772.13 880.70,770.41 881.15,773.72 881.60,776.49 882.05,769.28 882.50,768.05 882.95,771.72 883.40,772.22 883.85,770.00 884.30,772.71 884.75,773.43 885.20,773.29 885.65,775.57 886.10,770.46 886.55,772.33 887.00,777.08 887.45,773.84 887.90,770.41 888.35,773.31 888.80,775.30 889.25,777.39 889.70,774.98 890.15,776.31 890.60,772.06 891.05,772.82 891.50,776.72 891.95,772.47 892.40,773.94 892.85,770.77 893.30,777.31 893.75,774.27 894.20,775.88 894.65,771.74 895.10,772.56 895.55,778.69 896.00,771.60 896.45,774.31 896.90,775.90 897.35,777.36 897.80,770.74 898.25,772.29 898.70,773.72 899.15,773.61 899.60,774.29 900.05,772.75 900.50,773.08 900.95,773.66 901.40,766.96 901.85,771.47 902.30,772.31 902.75,773.14 903.20,772.74 903.65,772.13 904.10,772.42 904.55,772.90 905.00,773.15 905.45,772.89 905.90,769.45 906.35,773.78 906.80,768.03 907.25,771.85 907.70,768.90 908.15,771.21 908.60,771.52 909.05,764.97 909.50,767.76 909.95,764.51 910.40,763.50 910.85,755.76 911.30,750.10 911.75,749.64 912.20,749.35 912.65,757.32 913.10,761.62 913.55,769.83 914.00,761.79 914.45,773.46 914.90,775.19 915.35,775.16 915.80,771.64 916.25,772.55 916.70,774.80 917.15,776.15 917.60,772.73 918.05,770.74 918.50,776.50 918.95,774.81 919.40,774.96 919.85,775.77 920.30,772.30 920.75,774.68 921.20,773.75 921.65,775.04 922.10,778.98 922.55,775.05 923.00,773.13 923.45,777.45 923.90,776.20 924.35,774.34 924.80,771.35 925.25,769.88 925.70,775.24 926.15,776.36 926.60,774.14 927.05,775.79 927.50,773.51 927.95,774.30 928.40,776.05 928.85,774.40 929.30,775.38 929.75,773.30 930.20,777.59 930.65,774.59 931.10,775.14 931.55,773.39 932.00,773.52 932.45,776.42 932.90,775.07 933.35,772.24 933.80,777.02 934.25,774.65 934.70,775.68 935.15,777.02 935.60,777.16 936.05,776.41 936.50,769.40 936.95,777.39 937.40,774.77 937.85,773.59 938.30,778.37 938.75,779.05 939.20,776.36 939.65,775.85 940.10,776.60 940.55,775.38 941.00,772.48 941.45,778.87 941.90,777.45 942.35,776.44 942.80,778.29 943.25,779.09 943.70,774.27 944.15,774.70 944.60,777.38 945.05,775.67 945.50,775.75 945.95,777.23 946.40,781.79 946.85,774.50 947.30,772.26 947.75,773.81 948.20,774.56 948.65,780.97 949.10,771.01 949.55,773.91 950.00,773.61 950.45,776.41 950.90,774.78 951.35,775.35 951.80,776.03 952.25,773.73 952.70,773.11 953.15,777.09 953.60,774.87 954.05,775.37 954.50,774.73 954.95,777.52 955.40,774.21 955.85,771.51 956.30,780.86 956.75,775.03 957.20,777.99 957.65,776.98 958.10,773.72 958.55,770.26 959.00,779.90 959.45,772.85 959.90,775.13 960.35,775.63 960.80,776.47 961.25,776.78 961.70,775.30 962.15,775.49 962.60,772.31 963.05,769.95 963.50,773.59 963.95,778.15 964.40,775.54 964.85,771.40 965.30,774.76 965.75,776.71 966.20,772.79 966.65,780.57 967.10,773.72 967.55,777.39 968.00,775.52 968.45,781.55 968.90,773.51 969.35,776.89 969.80,773.32 970.25,778.70 970.70,777.19 971.15,778.97 971.60,777.14 972.05,774.48 972.50,775.56 972.95,774.28 973.40,774.43 973.85,776.72 974.30,778.50 974.75,778.02 975.20,777.59 975.65,775.40 976.10,783.47 976.55,779.04 977.00,776.62 977.45,777.66 977.90,775.77 978.35,775.33 978.80,776.16 979.25,778.20 979.70,775.96 980.15,774.11 980.60,775.76 981.05,774.68 981.50,779.40 981.95,776.28 982.40,773.76 982.85,777.42 983.30,778.43 983.75,778.38 984.20,773.55 984.65,778.16 985.10,778.19 985.55,779.83 986.00,779.01 986.45,782.00 986.90,777.68 987.35,780.96 987.80,778.17 988.25,775.05 988.70,775.98 989.15,774.63 989.60,773.10 990.05,779.80 990.50,776.40 990.95,779.10 991.40,776.17 991.85,784.28 992.30,775.94 992.75,779.62 993.20,777.54 993.65,777.07 994.10,777.49 994.55,781.89 995.00,777.98 995.45,778.76 995.90,769.03 996.35,775.99 996.80,777.88 997.25,773.73 997.70,779.43 998.15,777.37 998.60,776.62 999.05,776.15 999.50,775.59 999.95,774.93 1000.40,778.48 1000.85,777.23 1001.30,778.40 1001.75,775.21 1002.20,773.58 1002.65,777.56 1003.10,772.60 1003.55,773.34 1004.00,775.56 1004.45,775.75 1004.90,771.10 1005.35,772.52 1005.80,772.91 1006.25,772.68 1006.70,771.03 1007.15,773.90 1007.60,771.25 1008.05,771.55 1008.50,767.82 1008.95,771.73 1009.40,767.68 1009.85,772.41 1010.30,772.23 1010.75,770.56 1011.20,771.77 1011.65,771.68 1012.10,770.85 1012.55,771.82 1013.00,770.85 1013.45,770.35 1013.90,767.73 1014.35,774.04 1014.80,769.62 1015.25,770.82 1015.70,772.86 1016.15,770.56 1016.60,766.38 1017.05,772.49 1017.50,772.93 1017.95,772.19 1018.40,767.68 1018.85,770.47 1019.30,769.98 1019.75,770.68 1020.20,767.88 1020.65,767.63 1021.10,769.60 1021.55,767.54 1022.00,766.91 1022.45,768.59 1022.90,763.35 1023.35,768.89 1023.80,773.56 1024.25,765.78 1024.70,767.99 1025.15,766.09 1025.60,764.60 1026.05,764.88 1026.50,763.39 1026.95,763.57 1027.40,761.69 1027.85,769.18 1028.30,760.26 1028.75,756.91 1029.20,757.80 1029.65,757.24 1030.10,754.97 1030.55,753.32 1031.00,746.30 1031.45,741.56 1031.90,739.82 1032.35,727.04 1032.80,718.79 1033.25,705.03 1033.70,688.60 1034.15,667.53 1034.60,642.49 1035.05,617.80 1035.50,584.90 1035.95,551.81 1036.40,523.62 1036.85,491.81 1037.30,465.69 1037.75,454.45 1038.20,452.04 1038.65,457.29 1039.10,474.93 1039.55,506.19 1040.00,539.99 1040.45,565.38 1040.90,594.48 1041.35,627.96 1041.80,656.31 1042.25,677.64 1042.70,693.01 1043.15,710.71 1043.60,723.85 1044.05,733.11 1044.50,740.53 1044.95,745.60 1045.40,749.86 1045.85,749.92 1046.30,757.31 1046.75,758.05 1047.20,762.80 1047.65,760.93 1048.10,767.20 1048.55,764.97 1049.00,762.22 1049.45,766.62 1049.90,770.06 1050.35,770.44 1050.80,767.44 1051.25,768.66 1051.70,768.74 1052.15,770.78 1052.60,772.20 1053.05,771.55 1053.50,772.46 1053.95,772.12 1054.40,771.73 1054.85,770.89 1055.30,771.67 1055.75,768.94 1056.20,772.84 1056.65,772.97 1057.10,772.22 1057.55,770.65 1058.00,775.12 1058.45,774.46 1058.90,768.41 1059.35,772.77 1059.80,771.90 1060.25,766.78 1060.70,771.70 1061.15,771.55 1061.60,771.12 1062.05,770.85 1062.50,766.81 1062.95,767.68 1063.40,767.68 1063.85,768.55 1064.30,765.66 1064.75,766.26 1065.20,768.34 1065.65,764.15 1066.10,771.13 1066.55,769.58 1067.00,766.56 1067.45,772.97 1067.90,770.42 1068.35,774.44 1068.80,775.60 1069.25,771.19 1069.70,771.76 1070.15,774.23 1070.60,770.94 1071.05,775.59 1071.50,774.38 1071.95,775.92 1072.40,770.61 1072.85,774.36 1073.30,775.23 1073.75,771.26 1074.20,781.25 1074.65,772.39 1075.10,775.37 1075.55,772.59 1076.00,776.72 1076.45,778.50 1076.90,775.38 1077.35,775.44 1077.80,777.89 1078.25,774.56 1078.70,775.69 1079.15,776.99 1079.60,776.62 1080.05,778.70 1080.50,777.93 1080.95,779.67 1081.40,776.19 1081.85,778.33 1082.30,774.80 1082.75,778.08 1083.20,779.73 1083.65,780.80 1084.10,774.02 1084.55,775.80 1085.00,777.19 1085.45,774.48 1085.90,776.59 1086.35,777.64 1086.80,771.95 1087.25,775.28 1087.70,774.74 1088.15,777.08 1088.60,779.06 1089.05,777.04 1089.50,781.70 1089.95,773.63 1090.40,775.38 1090.85,777.78 1091.30,778.96 1091.75,777.00 1092.20,778.35 1092.65,776.94 1093.10,776.58 1093.55,778.99 1094.00,777.92 1094.45,778.46 1094.90,778.13 1095.35,775.96 1095.80,775.32 1096.25,777.18 1096.70,774.53 1097.15,777.18 1097.60,778.99 1098.05,777.56 1098.50,778.90 1098.95,782.09 1099.40,775.59 1099.85,778.10 1100.30,777.83 1100.75,775.57 1101.20,776.55 1101.65,773.88 1102.10,771.59 1102.55,780.39 1103.00,778.85 1103.45,778.66 1103.90,778.03 1104.35,777.77 1104.80,782.95 1105.25,777.78 1105.70,778.20 1106.15,780.42 1106.60,779.50 1107.05,778.35 1107.50,777.90 1107.95,778.59 1108.40,781.54 1108.85,776.69 1109.30,774.07 1109.75,781.08 1110.20,780.50 1110.65,780.01 1111.10,778.40 1111.55,781.28 1112.00,776.91 1112.45,774.59 1112.90,778.70 1113.35,779.65 1113.80,779.28 1114.25,781.64 1114.70,778.82 1115.15,776.86 1115.60,776.39 1116.05,778.77 1116.50,777.08 1116.95,776.64 1117.40,773.43 1117.85,776.03 1118.30,774.18 1118.75,777.17 1119.20,777.26 1119.65,777.83 1120.10,779.79 1120.55,781.56 1121.00,779.25 1121.45,774.15 1121.90,776.29 1122.35,778.24 1122.80,780.15 1123.25,774.07 1123.70,775.74 1124.15,776.76 1124.60,776.45 1125.05,774.58 1125.50,773.25 1125.95,774.55 1126.40,777.05 1126.85,774.92 1127.30,780.49 1127.75,779.70 1128.20,773.65 1128.65,776.67 1129.10,780.30 1129.55,780.54 1130.00,780.29 1130.45,774.94 1130.90,777.29 1131.35,780.63 1131.80,778.37 1132.25,777.25 1132.70,780.41 1133.15,780.68 1133.60,778.73 1134.05,779.02 1134.50,775.47 1134.95,777.71 1135.40,776.87 1135.85,779.69 1136.30,775.99 1136.75,779.02 1137.20,776.41 1137.65,778.81 1138.10,774.93 1138.55,779.47 1139.00,777.92 1139.45,777.03 1139.90,775.69 1140.35,776.96 1140.80,775.86 1141.25,778.14 1141.70,779.81 1142.15,779.04 1142.60,780.19 1143.05,774.95 1143.50,773.78 1143.95,774.54 1144.40,778.74 1144.85,779.12 1145.30,774.04 1145.75,779.77 1146.20,777.06 1146.65,775.72 1147.10,778.16 1147.55,779.72 1148.00,778.32 1148.45,778.56 1148.90,777.46 1149.35,776.28 1149.80,778.55 1150.25,776.12 1150.70,780.41 1151.15,777.50 1151.60,781.70 1152.05,776.12 1152.50,781.77 1152.95,777.19 1153.40,777.17 1153.85,779.32 1154.30,781.04 1154.75,779.36 1155.20,778.33 1155.65,782.70 1156.10,780.04 1156.55,776.83 1157.00,778.70 1157.45,782.05 1157.90,779.31 1158.35,780.01 1158.80,783.99 1159.25,777.12 1159.70,779.11 1160.15,777.06 1160.60,778.58 1161.05,779.08 1161.50,775.19 1161.95,777.87 1162.40,778.08 1162.85,779.93 1163.30,774.16 1163.75,775.13 1164.20,778.46 1164.65,775.62 1165.10,778.30 1165.55,778.80 1166.00,776.35 1166.45,777.96 1166.90,776.13 1167.35,772.63 1167.80,776.28 1168.25,774.11 1168.70,778.49 1169.15,776.66 1169.60,778.52 1170.05,778.78 1170.50,781.13 1170.95,778.49 1171.40,778.92 1171.85,780.46 1172.30,783.07 1172.75,779.96 1173.20,781.07 1173.65,780.01 1174.10,776.45 1174.55,777.76 1175.00,780.49 1175.45,780.06 1175.90,780.24 1176.35,784.43 1176.80,780.11 1177.25,781.30 1177.70,780.61 1178.15,783.03 1178.60,780.11 1179.05,783.84 1179.50,779.60 1179.95,781.81 1180.40,780.22 1180.85,780.14 1181.30,781.73 1181.75,780.50 1182.20,778.65 1182.65,778.45 1183.10,780.39 1183.55,787.04 1184.00,777.96 1184.45,779.60 1184.90,777.21 1185.35,778.83 1185.80,778.39 1186.25,775.42 1186.70,777.54 1187.15,775.74 1187.60,776.60 1188.05,778.67 1188.50,776.35 1188.95,774.44 1189.40,773.43 1189.85,773.52 1190.30,776.19 1190.75,772.99 1191.20,770.95 1191.65,766.78 1192.10,768.34 1192.55,766.75 1193.00,757.98 1193.45,751.48 1193.90,743.91 1194.35,738.32 1194.80,730.75 1195.25,725.14 1195.70,712.77 1196.15,700.74 1196.60,695.96 1197.05,683.37 1197.50,677.30 1197.95,675.33 1198.40,677.84 1198.85,685.07 1199.30,689.00 1199.75,703.54 1200.20,717.26 1200.65,722.16 1201.10,731.70 1201.55,742.54 1202.00,751.24 1202.45,757.27 1202.90,761.61 1203.35,764.82 1203.80,768.16 1204.25,772.81 1204.70,771.64 1205.15,770.51 1205.60,779.84 1206.05,773.95 1206.50,776.58 1206.95,780.11 1207.40,777.84 1207.85,781.79 1208.30,775.35 1208.75,779.27 1209.20,780.04 1209.65,780.94 1210.10,778.46 1210.55,780.07 1211.00,776.70 1211.45,782.62 1211.90,777.90 1212.35,777.32 1212.80,781.83 1213.25,781.35 1213.70,781.10 1214.15,782.38 1214.60,783.49 1215.05,779.43 1215.50,783.08 1215.95,780.00 1216.40,783.82 1216.85,783.13 1217.30,783.74 1217.75,778.05 1218.20,781.76 1218.65,784.89 1219.10,785.94 1219.55,782.19 1220.00,782.82 1220.45,783.61 1220.90,785.56 1221.35,788.40 1221.80,785.34 1222.25,782.79 1222.70,784.87 1223.15,784.70 1223.60,788.28 1224.05,784.78 1224.50,781.51 1224.95,783.93 1225.40,781.45 1225.85,781.68 1226.30,782.74 1226.75,782.06 1227.20,783.88 1227.65,783.71 1228.10,785.06 1228.55,790.29 1229.00,783.20 1229.45,782.48 1229.90,779.21 1230.35,777.49 1230.80,783.41 1231.25,779.16 1231.70,781.18 1232.15,779.70 1232.60,784.27 1233.05,783.56 1233.50,786.85 1233.95,780.19 1234.40,787.40 1234.85,780.67 1235.30,779.91 1235.75,782.28 1236.20,780.59 1236.65,784.97 1237.10,775.82 1237.55,782.00 1238.00,780.89 1238.45,779.34 1238.90,772.44 1239.35,769.72 1239.80,766.11 1240.25,761.47 1240.70,764.19 1241.15,763.46 1241.60,766.03 1242.05,769.97 1242.50,771.72 1242.95,777.06 1243.40,777.82 1243.85,778.55 1244.30,784.48 1244.75,778.99 1245.20,782.38 1245.65,781.99 1246.10,780.60 1246.55,783.05 1247.00,785.35 1247.45,784.90 1247.90,782.38 1248.35,785.24 1248.80,784.09 1249.25,785.45 1249.70,780.15 1250.15,782.90 1250.60,782.29 1251.05,784.66 1251.50,782.28 1251.95,782.65 1252.40,781.48 1252.85,781.31 1253.30,782.01 1253.75,785.45 1254.20,781.39 1254.65,779.03 1255.10,784.44 1255.55,779.72 1256.00,785.05 1256.45,785.39 1256.90,783.58 1257.35,782.91 1257.80,778.53 1258.25,785.02 1258.70,782.61 1259.15,784.29 1259.60,786.68 1260.05,782.74 1260.50,782.64 1260.95,782.62 1261.40,785.49 1261.85,785.67 1262.30,787.21 1262.75,785.95 1263.20,784.88 1263.65,785.34 1264.10,784.82 1264.55,785.43 1265.00,792.53 1265.45,788.84 1265.90,787.43 1266.35,783.07 1266.80,783.63 1267.25,789.51 1267.70,780.73 1268.15,783.09 1268.60,785.94 1269.05,785.97 1269.50,785.19 1269.95,786.88 1270.40,785.59 1270.85,785.29 1271.30,784.88 1271.75,783.17 1272.20,785.22 1272.65,780.57 1273.10,785.22 1273.55,780.03 1274.00,785.13 1274.45,784.00 1274.90,783.97 1275.35,781.07 1275.80,783.86 1276.25,790.93 1276.70,787.03 1277.15,786.72 1277.60,787.04 1278.05,785.78 1278.50,785.22 1278.95,782.67 1279.40,784.27 1279.85,787.35 1280.30,786.74 1280.75,784.35 1281.20,785.65 1281.65,787.74 1282.10,785.43 1282.55,785.90 1283.00,784.35 1283.45,787.44 1283.90,787.18 1284.35,789.06 1284.80,787.70 1285.25,786.46 1285.70,780.85 1286.15,786.35 1286.60,791.35 1287.05,786.85 1287.50,786.21 1287.95,783.81 1288.40,785.85 1288.85,786.53 1289.30,785.57 1289.75,788.35 1290.20,786.99 1290.65,790.46 1291.10,787.44 1291.55,787.14 1292.00,784.56 1292.45,786.68 1292.90,786.05 1293.35,788.95 1293.80,782.59 1294.25,787.43 1294.70,786.46 1295.15,784.32 1295.60,786.21 1296.05,786.25 1296.50,791.86 1296.95,785.16 1297.40,786.26 1297.85,785.06 1298.30,785.26 1298.75,784.50 1299.20,786.02 1299.65,788.44 1300.10,787.11 1300.55,791.75 1301.00,786.26 1301.45,785.71 1301.90,783.47 1302.35,793.54 1302.80,785.00 1303.25,785.68 1303.70,786.99 1304.15,786.96 1304.60,786.03 1305.05,784.60 1305.50,784.75 1305.95,790.05 1306.40,786.99 1306.85,785.91 1307.30,790.81 1307.75,786.19 1308.20,785.70 1308.65,788.38 1309.10,788.09 1309.55,790.72 1310.00,784.59 1310.45,787.80 1310.90,784.14 1311.35,787.81 1311.80,785.48 1312.25,786.01 1312.70,785.93 1313.15,788.93 1313.60,790.63 1314.05,787.34 1314.50,787.37 1314.95,787.02 1315.40,788.58 1315.85,786.43 1316.30,793.64 1316.75,780.55 1317.20,790.32 1317.65,786.94 1318.10,784.05 1318.55,783.63 1319.00,785.81 1319.45,785.10 1319.90,786.18 1320.35,784.38 1320.80,791.15 1321.25,790.46 1321.70,783.43 1322.15,787.52 1322.60,788.93 1323.05,785.95 1323.50,786.11 1323.95,782.30 1324.40,787.72 1324.85,784.68 1325.30,789.14 1325.75,786.32 1326.20,790.29 1326.65,785.16 1327.10,782.83 1327.55,787.33 1328.00,789.34 1328.45,788.15 1328.90,787.98 1329.35,785.92 1329.80,789.38 1330.25,784.06 1330.70,791.08 1331.15,785.22 1331.60,786.41 1332.05,784.56 1332.50,785.17 1332.95,789.71 1333.40,784.64 1333.85,787.42 1334.30,785.58 1334.75,788.72 1335.20,784.45 1335.65,787.17 1336.10,788.79 1336.55,791.08 1337.00,784.88 1337.45,785.17 1337.90,786.69 1338.35,789.42 1338.80,784.74 1339.25,788.28 1339.70,785.25 1340.15,783.96 1340.60,783.11 1341.05,786.25 1341.50,788.02 1341.95,785.13 1342.40,782.32 1342.85,785.35 1343.30,793.00 1343.75,788.51 1344.20,787.33 1344.65,789.59 1345.10,784.11 1345.55,783.88 1346.00,793.24 1346.45,787.17 1346.90,784.69 1347.35,783.67 1347.80,778.43 1348.25,783.27 1348.70,775.27 1349.15,771.60 1349.60,770.35 1350.05,766.47 1350.50,755.62 1350.95,752.19 1351.40,750.37 1351.85,755.93 1352.30,758.44 1352.75,771.05 1353.20,766.76 1353.65,773.75 1354.10,768.75 1354.55,777.18 1355.00,768.72 1355.45,775.06 1355.90,772.35 1356.35,778.66 1356.80,779.40 1357.25,783.78 1357.70,786.16 1358.15,782.98 1358.60,783.65 1359.05,789.98 1359.50,789.95 1359.95,789.20 1360.40,787.97 1360.85,785.29 1361.30,790.31 1361.75,786.21 1362.20,790.09 1362.65,786.95 1363.10,787.49 1363.55,794.37 1364.00,789.02 1364.45,786.93 1364.90,788.07 1365.35,786.75 1365.80,788.29 1366.25,788.48 1366.70,788.83 1367.15,786.40 1367.60,789.09 1368.05,788.33 1368.50,788.36 1368.95,788.74 1369.40,786.92 1369.85,790.58 1370.30,787.80 1370.75,789.46 1371.20,784.64 1371.65,789.64 1372.10,790.10 1372.55,787.26 1373.00,786.00 1373.45,788.48 1373.90,792.30 1374.35,790.87 1374.80,786.97 1375.25,788.79 1375.70,785.91 1376.15,788.67 1376.60,790.24 1377.05,792.36 1377.50,789.13 1377.95,789.02 1378.40,787.26 1378.85,788.08 1379.30,790.13 1379.75,792.00 1380.20,788.51 1380.65,791.09 1381.10,787.51 1381.55,788.13 1382.00,790.35 1382.45,793.94 1382.90,792.09 1383.35,793.38 1383.80,789.89 1384.25,791.91 1384.70,786.25 1385.15,790.07 1385.60,782.20 1386.05,791.75 1386.50,787.54 1386.95,791.92 1387.40,790.67 1387.85,789.09 1388.30,788.50 1388.75,790.22 1389.20,792.60 1389.65,790.85 1390.10,788.64 1390.55,788.38 1391.00,788.05 1391.45,789.21 1391.90,789.10 1392.35,788.66 1392.80,789.79 1393.25,786.59 1393.70,792.60 1394.15,790.18 1394.60,792.90 1395.05,790.57 1395.50,789.86 1395.95,790.56 1396.40,790.67 1396.85,789.19 1397.30,789.58 1397.75,793.64 1398.20,791.58 1398.65,789.00 1399.10,790.95 1399.55,792.92 1400.00,792.69 1400.45,788.07 1400.90,791.73 1401.35,790.00 1401.80,789.95 1402.25,788.21 1402.70,789.16 1403.15,788.65 1403.60,788.17 1404.05,790.61 1404.50,795.66 1404.95,789.05 1405.40,792.44 1405.85,789.36 1406.30,787.94 1406.75,791.95 1407.20,790.58 1407.65,791.62 1408.10,789.82 1408.55,789.83 1409.00,788.35 1409.45,789.62 1409.90,794.32 1410.35,785.26 1410.80,790.40 1411.25,792.74 1411.70,791.34 1412.15,791.15 1412.60,788.79 1413.05,791.74 1413.50,791.89 1413.95,789.79 1414.40,792.68 1414.85,788.80 1415.30,785.24 1415.75,789.46 1416.20,789.32 1416.65,787.73 1417.10,788.32 1417.55,788.35 1418.00,786.69 1418.45,792.08 1418.90,790.20 1419.35,798.67 1419.80,790.30 1420.25,791.10 1420.70,787.65 1421.15,792.70 1421.60,788.78 1422.05,792.08 1422.50,792.87 1422.95,792.83 1423.40,793.78 1423.85,790.70 1424.30,793.42 1424.75,794.22 1425.20,794.72 1425.65,792.21 1426.10,792.28 1426.55,795.93 1427.00,791.39 1427.45,794.07 1427.90,792.34 1428.35,790.37 1428.80,791.01 1429.25,794.12 1429.70,793.25 1430.15,793.53 1430.60,794.31 1431.05,799.65 1431.50,792.97 1431.95,791.86 1432.40,788.66 1432.85,791.84 1433.30,796.06 1433.75,790.83 1434.20,791.39 1434.65,791.75 1435.10,792.88 1435.55,789.42 1436.00,788.68 1436.45,792.29 1436.90,789.93 1437.35,790.74 1437.80,789.99 1438.25,792.81 1438.70,791.40 1439.15,792.94 1439.60,788.92 1440.05,787.50 1440.50,785.66 1440.95,792.40 1441.40,792.21 1441.85,791.86 1442.30,789.82 1442.75,788.97 1443.20,793.17 1443.65,791.17 1444.10,795.96 1444.55,788.64 1445.00,792.08 1445.45,792.24 1445.90,792.78 1446.35,789.63 1446.80,792.38 1447.25,786.57 1447.70,793.77 1448.15,792.76 1448.60,796.43 1449.05,794.64 1449.50,790.44 1449.95,792.04 1450.40,790.74 1450.85,792.36 1451.30,792.92 1451.75,791.15 1452.20,788.98 1452.65,788.88 1453.10,792.70 1453.55,792.03 1454.00,792.75 1454.45,792.97 1454.90,792.14 1455.35,793.55 1455.80,791.27 1456.25,794.44 1456.70,792.26 1457.15,796.32 1457.60,791.53 1458.05,789.23 1458.50,789.11 1458.95,791.53 1459.40,792.60 1459.85,792.31 1460.30,793.74 1460.75,792.52 1461.20,788.86 1461.65,792.97 1462.10,794.37 1462.55,789.66 1463.00,795.89 1463.45,793.44 1463.90,793.30 1464.35,792.76 1464.80,792.58 1465.25,794.18 1465.70,796.38 1466.15,790.25 1466.60,792.17 1467.05,793.36 1467.50,790.84 1467.95,793.97 1468.40,790.65 1468.85,792.87 1469.30,790.43 1469.75,794.39 1470.20,792.37 1470.65,794.71 1471.10,792.74 1471.55,791.35 1472.00,792.45 1472.45,793.39 1472.90,793.08 1473.35,792.80 1473.80,792.61 1474.25,793.55 1474.70,795.26 1475.15,789.71 1475.60,793.84 1476.05,790.99 1476.50,795.18 1476.95,794.16 1477.40,792.90 1477.85,793.35 1478.30,790.53 1478.75,794.25 1479.20,793.34 1479.65,791.23 1480.10,792.97 1480.55,795.30 1481.00,794.46 1481.45,794.64 1481.90,793.67 1482.35,796.23 1482.80,794.72 1483.25,796.43 1483.70,799.25 1484.15,797.13 1484.60,801.05 1485.05,795.03 1485.50,793.47 1485.95,797.15 1486.40,794.83 1486.85,798.87 1487.30,800.90 1487.75,796.57 1488.20,795.76 1488.65,797.33 1489.10,796.46 1489.55,798.60 1490.00,796.56 1490.45,797.81 1490.90,796.75 1491.35,796.81 1491.80,793.15 1492.25,796.41 1492.70,800.56 1493.15,793.84 1493.60,793.38 1494.05,795.26 1494.50,796.36 1494.95,792.82 1495.40,801.93 1495.85,795.42 1496.30,795.60 1496.75,796.60 1497.20,796.58 1497.65,794.20 1498.10,796.14 1498.55,795.95 1499.00,793.00 1499.45,794.18 1499.90,797.05 1500.35,793.15 1500.80,796.59 1501.25,794.75 1501.70,792.88 1502.15,793.21 1502.60,793.03 1503.05,795.56 1503.50,793.54 1503.95,793.95 1504.40,792.48 1504.85,796.45 1505.30,792.87 1505.75,794.17 1506.20,796.31 1506.65,796.17 1507.10,793.91 1507.55,794.87 1508.00,795.83 1508.45,794.86 1508.90,797.10 1509.35,796.57 1509.80,794.35 1510.25,792.16 1510.70,794.30 1511.15,802.23 1511.60,797.18 1512.05,797.63 1512.50,797.87 1512.95,794.73 1513.40,796.51 1513.85,798.16 1514.30,796.89 1514.75,797.96 1515.20,794.53 1515.65,794.22 1516.10,800.55 1516.55,798.10 1517.00,797.62 1517.45,793.18 1517.90,800.70 1518.35,801.84 1518.80,792.02 1519.25,792.61 1519.70,802.58 1520.15,793.72 1520.60,795.37 1521.05,797.74 1521.50,801.66 1521.95,799.80 1522.40,802.08 1522.85,791.68 1523.30,799.91 1523.75,799.84 1524.20,798.69 1524.65,797.75 1525.10,798.09 1525.55,790.72 1526.00,798.06 1526.45,793.42 1526.90,795.12 1527.35,797.74 1527.80,797.20 1528.25,792.77 1528.70,797.68 1529.15,798.50 1529.60,797.72 1530.05,798.74 1530.50,798.98 1530.95,794.28 1531.40,797.36 1531.85,797.47 1532.30,787.03 1532.75,797.08 1533.20,795.58 1533.65,797.02 1534.10,795.60 1534.55,799.34 1535.00,801.52 1535.45,796.25 1535.90,797.67 1536.35,795.14 1536.80,798.45 1537.25,797.62 1537.70,794.06 1538.15,799.23 1538.60,798.60 1539.05,796.92 1539.50,798.59 1539.95,797.89 1540.40,799.18 1540.85,798.18 1541.30,798.07 1541.75,798.63 1542.20,798.97 1542.65,798.24 1543.10,800.09 1543.55,798.47 1544.00,796.77 1544.45,801.36 1544.90,798.31 1545.35,800.89 1545.80,795.97 1546.25,799.37 1546.70,800.55 1547.15,799.76 1547.60,797.32 1548.05,796.09 1548.50,795.74 1548.95,796.29 1549.40,790.84 1549.85,793.41 1550.30,791.08 1550.75,788.20 1551.20,786.31 1551.65,778.29 1552.10,778.91 1552.55,780.32 1553.00,780.52 1553.45,789.47 1553.90,788.62 1554.35,789.41 1554.80,789.60 1555.25,785.82 1555.70,793.19 1556.15,793.91 1556.60,793.04 1557.05,797.57 1557.50,803.08 1557.95,795.28 1558.40,804.69 1558.85,798.17 1559.30,797.61 1559.75,797.59 1560.20,797.65 1560.65,796.35 1561.10,797.73 1561.55,799.71 1562.00,800.21 1562.45,796.90 1562.90,798.61 1563.35,798.38 1563.80,787.53 1564.25,799.04 1564.70,795.49 1565.15,798.15 1565.60,799.21 1566.05,798.61 1566.50,795.52 1566.95,793.86 1567.40,794.24 1567.85,796.88 1568.30,796.91 1568.75,796.22 1569.20,794.91 1569.65,801.18 1570.10,801.62 1570.55,795.74 1571.00,798.71 1571.45,796.29 1571.90,799.04 1572.35,798.45 1572.80,799.01 1573.25,793.56 1573.70,798.52 1574.15,794.43 1574.60,794.90 1575.05,797.92 1575.50,797.38 1575.95,800.54 1576.40,797.49 1576.85,794.66 1577.30,797.99 1577.75,797.47 1578.20,798.08 1578.65,795.55 1579.10,795.92 1579.55,797.96 1580.00,802.26 1580.45,798.41 1580.90,798.98 1581.35,795.01 1581.80,797.48 1582.25,797.76 1582.70,798.63 1583.15,796.97 1583.60,796.01 1584.05,795.97 1584.50,795.75 1584.95,793.24 1585.40,795.94 1585.85,797.44 1586.30,796.99 1586.75,788.07 1587.20,794.69 1587.65,790.13 1588.10,792.69 1588.55,784.61 1589.00,785.58 1589.45,776.23 1589.90,769.86 1590.35,778.80 1590.80,783.20 1591.25,783.55 1591.70,785.75 1592.15,791.62 1592.60,786.13 1593.05,791.14 1593.50,788.81 1593.95,794.88 1594.40,797.96 1594.85,798.39 1595.30,800.72 1595.75,802.44 1596.20,796.79 1596.65,800.39 1597.10,801.27 1597.55,800.94 1598.00,803.50 1598.45,801.17 1598.90,803.20 1599.35,803.04 1599.80,801.21 1600.25,802.21 1600.70,798.41 1601.15,801.77 1601.60,801.79 1602.05,801.09 1602.50,800.66 1602.95,803.26 1603.40,800.88 1603.85,808.22 1604.30,799.84 1604.75,801.63 1605.20,801.96 1605.65,802.43 1606.10,801.06 1606.55,795.64 1607.00,798.57 1607.45,801.82 1607.90,799.42 1608.35,799.55 1608.80,799.63 1609.25,800.60 1609.70,798.93 1610.15,800.38 1610.60,804.04 1611.05,800.33 1611.50,805.98 1611.95,798.86 1612.40,807.13 1612.85,807.94 1613.30,803.94 1613.75,803.07 1614.20,798.94 1614.65,804.57 1615.10,804.63 1615.55,802.96 1616.00,798.91 1616.45,805.32 1616.90,801.21 1617.35,802.45 1617.80,804.88 1618.25,804.18 1618.70,803.39 1619.15,801.71 1619.60,805.90 1620.05,804.77 1620.50,801.99 1620.95,795.35 1621.40,802.46 1621.85,799.52 1622.30,805.13 1622.75,802.56 1623.20,801.10 1623.65,802.59 1624.10,798.93 1624.55,803.85 1625.00,800.72 1625.45,798.82 1625.90,800.64 1626.35,802.50 1626.80,799.29 1627.25,801.40 1627.70,798.97 1628.15,802.25 1628.60,798.09 1629.05,798.84 1629.50,803.04 1629.95,803.37 1630.40,805.06 1630.85,802.20 1631.30,801.86 1631.75,802.71 1632.20,801.01 1632.65,798.33 1633.10,799.49 1633.55,799.44 1634.00,802.03 1634.45,800.70 1634.90,800.88 1635.35,803.49 1635.80,801.75 1636.25,802.22 1636.70,801.17 1637.15,799.34 1637.60,803.53 1638.05,800.29 1638.50,800.86 1638.95,802.63 1639.40,801.52 1639.85,802.70 1640.30,804.11 1640.75,800.74 1641.20,802.40 1641.65,800.06 1642.10,800.13 1642.55,801.16 1643.00,804.44 1643.45,804.09 1643.90,805.15 1644.35,802.12 1644.80,800.74 1645.25,804.94 1645.70,803.07 1646.15,804.42 1646.60,799.96 1647.05,804.18 1647.50,803.11 1647.95,804.32 1648.40,804.75 1648.85,802.83 1649.30,802.27 1649.75,804.43 1650.20,800.72 1650.65,805.76 1651.10,803.61 1651.55,800.63 1652.00,804.04 1652.45,806.91 1652.90,805.53 1653.35,804.70 1653.80,803.21 1654.25,802.23 1654.70,800.31 1655.15,803.60 1655.60,802.89 1656.05,801.31 1656.50,803.14 1656.95,800.29 1657.40,803.84 1657.85,802.07 1658.30,802.38 1658.75,800.35 1659.20,803.57 1659.65,802.02 1660.10,800.35 1660.55,801.95 1661.00,800.88 1661.45,803.46 1661.90,798.68 1662.35,799.40 1662.80,805.56 1663.25,800.29 1663.70,797.76 1664.15,801.61 1664.60,802.62 1665.05,805.68 1665.50,798.90 1665.95,803.60 1666.40,806.13 1666.85,802.43 1667.30,800.59 1667.75,800.30 1668.20,805.18 1668.65,803.05 1669.10,800.16 1669.55,802.62 1670.00,800.09 1670.45,807.81 1670.90,803.39 1671.35,799.22 1671.80,804.71 1672.25,802.13 1672.70,807.91 1673.15,802.75 1673.60,801.74 1674.05,802.54 1674.50,799.50 1674.95,805.67 1675.40,807.08 1675.85,804.43 1676.30,804.45 1676.75,800.75 1677.20,802.70 1677.65,800.86 1678.10,808.61 1678.55,804.54 1679.00,806.03 1679.45,802.89 1679.90,807.93 1680.35,804.68 1680.80,801.18 1681.25,801.71 1681.70,806.17 1682.15,809.56 1682.60,805.83 1683.05,800.53 1683.50,806.14 1683.95,801.33 1684.40,804.46 1684.85,807.69 1685.30,803.89 1685.75,802.84 1686.20,804.61 1686.65,801.59 1687.10,801.39 1687.55,805.17 1688.00,800.78 1688.45,796.93 1688.90,807.03 1689.35,801.27 1689.80,799.48 1690.25,805.99 1690.70,804.02 1691.15,802.11 1691.60,805.61 1692.05,802.43 1692.50,808.22 1692.95,808.29 1693.40,800.18 1693.85,804.83 1694.30,802.46 1694.75,804.89 1695.20,803.85 1695.65,802.40 1696.10,805.12 1696.55,800.95 1697.00,804.77 1697.45,801.71 1697.90,802.75 1698.35,805.79 1698.80,806.97 1699.25,803.40 1699.70,803.74 1700.15,811.40 1700.60,805.96 1701.05,804.06 1701.50,798.92 1701.95,798.41 1702.40,801.89 1702.85,801.73 1703.30,801.06 1703.75,801.16 1704.20,802.18 1704.65,806.53 1705.10,801.64 1705.55,805.74 1706.00,792.07 1706.45,806.18 1706.90,805.53 1707.35,803.67 1707.80,805.57 1708.25,803.80 1708.70,801.56 1709.15,804.27 1709.60,800.68 1710.05,802.99 1710.50,803.61 1710.95,800.74 1711.40,803.53 1711.85,802.35 1712.30,800.97 1712.75,804.55 1713.20,802.82 1713.65,803.54 1714.10,805.22 1714.55,802.58 1715.00,802.18 1715.45,800.86 1715.90,803.12 1716.35,804.83 1716.80,804.59 1717.25,804.64 1717.70,802.17 1718.15,803.05 1718.60,801.35 1719.05,804.06 1719.50,803.45 1719.95,800.28 1720.40,801.57 1720.85,796.61 1721.30,801.55 1721.75,797.56 1722.20,797.13 1722.65,797.88 1723.10,796.50 1723.55,792.10 1724.00,795.19 1724.45,794.13 1724.90,790.85 1725.35,787.89 1725.80,782.78 1726.25,782.28 1726.70,775.31 1727.15,772.38 1727.60,772.67 1728.05,771.37 1728.50,768.21 1728.95,773.08 1729.40,767.47 1729.85,766.53 1730.30,772.74 1730.75,778.99 1731.20,780.09 1731.65,781.58 1732.10,789.90 1732.55,786.95 1733.00,788.86 1733.45,790.75 1733.90,792.42 1734.35,791.36 1734.80,797.94 1735.25,796.44 1735.70,799.08 1736.15,800.52 1736.60,802.36 1737.05,799.36 1737.50,803.24 1737.95,803.94 1738.40,802.62 1738.85,803.03 1739.30,803.32 1739.75,801.34 1740.20,802.47 1740.65,806.98 1741.10,805.97 1741.55,802.53 1742.00,802.14 1742.45,805.02 1742.90,805.55 1743.35,804.04 1743.80,802.87 1744.25,805.74 1744.70,806.75 1745.15,801.95 1745.60,806.92 1746.05,801.87 1746.50,806.28 1746.95,804.23 1747.40,804.23 1747.85,806.21 1748.30,807.74 1748.75,809.11 1749.20,812.95 1749.65,806.11 1750.10,800.58 1750.55,804.37 1751.00,805.03 1751.45,804.20 1751.90,806.43 1752.35,805.09 1752.80,809.73 1753.25,802.03 1753.70,802.74 1754.15,804.54 1754.60,804.29 1755.05,807.30 1755.50,808.39 1755.95,809.33 1756.40,807.53 1756.85,804.05 1757.30,799.22 1757.75,804.42 1758.20,806.30 1758.65,805.60 1759.10,806.83 1759.55,804.87 1760.00,806.53 1760.45,809.68 1760.90,805.27 1761.35,810.16 1761.80,806.71 1762.25,808.89 1762.70,806.91 1763.15,806.17 1763.60,806.73 1764.05,805.38 1764.50,804.79 1764.95,808.23 1765.40,805.35 1765.85,808.79 1766.30,811.12 1766.75,805.50 1767.20,807.96 1767.65,806.37 1768.10,803.44 1768.55,806.58 1769.00,806.50 1769.45,804.46 1769.90,806.69 1770.35,806.19 1770.80,803.87 1771.25,806.67 1771.70,806.47 1772.15,807.81 1772.60,807.17 1773.05,804.05 1773.50,806.84 1773.95,807.82 1774.40,806.04 1774.85,807.58 1775.30,807.85 1775.75,803.17 1776.20,808.47 1776.65,803.63 1777.10,804.89 1777.55,807.21 1778.00,806.11 1778.45,806.18 1778.90,809.92 1779.35,805.54 1779.80,810.00 1780.25,810.61 1780.70,809.41 1781.15,804.38 1781.60,803.54 1782.05,805.94 1782.50,808.46 1782.95,806.23 1783.40,800.37 1783.85,799.97 1784.30,801.79 1784.75,803.79 1785.20,803.02 1785.65,804.58 1786.10,807.50 1786.55,807.30 1787.00,807.18 1787.45,805.29 1787.90,809.22 1788.35,806.90 1788.80,808.50 1789.25,808.25 1789.70,807.72 1790.15,810.14 1790.60,811.29 1791.05,810.22 1791.50,804.45 1791.95,810.38 1792.40,811.64 1792.85,809.58 1793.30,811.00 1793.75,807.19 1794.20,809.41 1794.65,813.16 1795.10,812.27 1795.55,809.62 1796.00,810.08 1796.45,814.07 1796.90,811.54 1797.35,807.91 1797.80,813.38 1798.25,808.49 1798.70,808.15 1799.15,806.68 1799.60,810.57 1800.05,810.32 1800.50,806.61 1800.95,806.95 1801.40,811.24 1801.85,807.08 1802.30,810.28 1802.75,813.41 1803.20,804.50 1803.65,803.15 1804.10,804.72 1804.55,810.98 1805.00,810.05 1805.45,812.90 1805.90,807.64 1806.35,806.67 1806.80,813.31 1807.25,814.22 1807.70,806.76 1808.15,812.31 1808.60,812.00 1809.05,809.56 1809.50,808.25 1809.95,806.21 1810.40,809.80 1810.85,811.53 1811.30,808.70 1811.75,812.17 1812.20,808.64 1812.65,812.81 1813.10,811.69 1813.55,812.01 1814.00,809.50 1814.45,809.89 1814.90,809.12 1815.35,812.07 1815.80,808.13 1816.25,807.88 1816.70,806.57 1817.15,810.18 1817.60,809.42 1818.05,809.47 1818.50,807.34 1818.95,808.57 1819.40,807.41 1819.85,811.58 1820.30,809.70 1820.75,810.97 1821.20,806.87 1821.65,809.40 1822.10,810.40 1822.55,808.05 1823.00,804.57 1823.45,808.64 1823.90,809.68 1824.35,809.52 1824.80,806.34 1825.25,809.82 1825.70,809.28 1826.15,814.79 1826.60,807.31 1827.05,808.86 1827.50,811.45 1827.95,811.52 1828.40,808.50 1828.85,812.63 1829.30,809.02 1829.75,808.02 1830.20,812.03 1830.65,812.10 1831.10,814.04 1831.55,809.35 1832.00,810.11 1832.45,810.97 1832.90,810.26 1833.35,809.22 1833.80,809.91 1834.25,809.86 1834.70,810.05 1835.15,810.28 1835.60,807.85 1836.05,812.80 1836.50,809.76 1836.95,810.76 1837.40,809.87 1837.85,811.19 1838.30,813.60 1838.75,814.05 1839.20,811.99 1839.65,811.59 1840.10,810.27 1840.55,810.69 1841.00,811.35 1841.45,810.60 1841.90,808.95 1842.35,809.88 1842.80,809.11 1843.25,814.86 1843.70,807.55 1844.15,811.10 1844.60,814.86 1845.05,809.27 1845.50,810.00 1845.95,813.42 1846.40,812.97 1846.85,809.36 1847.30,808.11 1847.75,809.28 1848.20,814.45 1848.65,810.12 1849.10,810.31 1849.55,809.12 1850.00,812.98 1850.45,812.54 1850.90,807.35 1851.35,809.23 1851.80,807.28 1852.25,806.31 1852.70,809.57 1853.15,809.96 1853.60,809.78 1854.05,814.66 1854.50,812.52 1854.95,807.84 1855.40,813.13 1855.85,809.53 1856.30,815.14 1856.75,817.14 1857.20,812.67 1857.65,814.30 1858.10,813.87 1858.55,809.22 1859.00,815.45 1859.45,814.24 1859.90,814.96 1860.35,813.10 1860.80,815.71 1861.25,812.97 1861.70,814.30 1862.15,812.01 1862.60,811.48 1863.05,813.17 1863.50,811.63 1863.95,813.06 1864.40,812.82 1864.85,810.35 1865.30,814.27 1865.75,813.90 1866.20,811.96 1866.65,814.95 1867.10,818.02 1867.55,810.62 1868.00,814.26 1868.45,815.61 1868.90,813.49 1869.35,812.43 1869.80,817.45 1870.25,812.47 1870.70,813.33 1871.15,812.38 1871.60,815.57 1872.05,809.35 1872.50,811.51 1872.95,812.45 1873.40,814.02 1873.85,813.94 1874.30,815.36 1874.75,813.01 1875.20,811.79 1875.65,812.98 1876.10,811.26 1876.55,811.72 1877.00,811.95 1877.45,813.15 1877.90,812.00 1878.35,810.40 1878.80,811.08 1879.25,810.63 1879.70,811.57 1880.15,811.55 1880.60,813.17 1881.05,811.66 1881.50,808.34 1881.95,814.32 1882.40,809.66 1882.85,815.42 1883.30,812.85 1883.75,813.30 1884.20,809.87 1884.65,813.66 1885.10,812.94 1885.55,811.32 1886.00,814.29 1886.45,814.75 1886.90,815.62 1887.35,811.33 1887.80,812.37 1888.25,816.34 1888.70,815.44 1889.15,815.20 1889.60,812.68 1890.05,814.56 1890.50,815.01 1890.95,818.98 1891.40,813.02 1891.85,814.86 1892.30,817.15 1892.75,814.00 1893.20,816.08 1893.65,813.12 1894.10,812.64 1894.55,816.26 1895.00,813.41 1895.45,815.46 1895.90,810.56 1896.35,816.33 1896.80,813.29 1897.25,813.06 1897.70,813.09 1898.15,815.47 1898.60,818.35 1899.05,817.70 1899.50,810.86 1899.95,816.24 1900.40,818.53 1900.85,816.02 1901.30,818.06 1901.75,818.65 1902.20,817.42 1902.65,816.63 1903.10,816.23 1903.55,815.35 1904.00,816.20 1904.45,814.15 1904.90,813.89 1905.35,818.29 1905.80,815.09 1906.25,811.95 1906.70,817.58 1907.15,817.69 1907.60,816.20 1908.05,813.28 1908.50,819.18 1908.95,817.83 1909.40,818.00 1909.85,811.43 1910.30,816.30 1910.75,814.99 1911.20,814.86 1911.65,813.58 1912.10,814.41 1912.55,815.13 1913.00,816.20 1913.45,818.21 1913.90,817.43 1914.35,813.20 1914.80,815.10 1915.25,813.20 1915.70,816.80 1916.15,815.72 1916.60,816.07 1917.05,814.82 1917.50,814.33 1917.95,819.06 1918.40,811.34 1918.85,813.99 1919.30,821.88 1919.75,809.47 1920.20,814.79 1920.65,813.92 1921.10,813.14 1921.55,816.19 1922.00,814.62 1922.45,815.76 1922.90,816.07 1923.35,811.36 1923.80,810.02 1924.25,813.50 1924.70,814.39 1925.15,815.19 1925.60,812.11 1926.05,813.50 1926.50,814.12 1926.95,818.75 1927.40,817.13 1927.85,816.58 1928.30,811.96 1928.75,809.53 1929.20,813.88 1929.65,814.03 1930.10,813.03 1930.55,813.06 1931.00,813.06 1931.45,812.27 1931.90,813.57 1932.35,818.83 1932.80,808.86 1933.25,811.09 1933.70,812.60 1934.15,812.87 1934.60,816.90 1935.05,811.85 1935.50,817.92 1935.95,814.13 1936.40,812.11 1936.85,810.90 1937.30,813.45 1937.75,813.85 1938.20,815.84 1938.65,812.86 1939.10,817.20 1939.55,816.49 1940.00,814.55 1940.45,813.87 1940.90,820.15 1941.35,813.83 1941.80,816.98 1942.25,818.38 1942.70,813.28 1943.15,815.97 1943.60,814.00 1944.05,817.53 1944.50,818.05 1944.95,816.31 1945.40,815.33 1945.85,812.47 1946.30,819.33 1946.75,817.52 1947.20,815.87 1947.65,813.36 1948.10,814.31 1948.55,812.51 1949.00,820.00 1949.45,813.12 1949.90,813.87 1950.35,816.26 1950.80,812.17 1951.25,817.56 1951.70,814.98 1952.15,813.50 1952.60,813.24 1953.05,814.58 1953.50,814.53 1953.95,816.09 1954.40,803.96 1954.85,816.86 1955.30,812.75 1955.75,813.92 1956.20,817.38 1956.65,814.55 1957.10,815.44 1957.55,814.74 1958.00,816.19 1958.45,818.00 1958.90,815.46 1959.35,817.69 1959.80,813.41 1960.25,816.55 1960.70,815.00 1961.15,815.17 1961.60,813.21 1962.05,813.82 1962.50,815.42 1962.95,814.73 1963.40,816.53 1963.85,814.43 1964.30,816.26 1964.75,816.72 1965.20,807.86 1965.65,816.67 1966.10,817.11 1966.55,815.73 1967.00,817.35 1967.45,816.18 1967.90,817.51 1968.35,816.66 1968.80,815.07 1969.25,819.24 1969.70,815.27 1970.15,828.67 1970.60,817.31 1971.05,816.22 1971.50,817.70 1971.95,818.34 1972.40,818.83 1972.85,819.64 1973.30,817.41 1973.75,806.46 1974.20,817.22 1974.65,819.31 1975.10,820.55 1975.55,814.82 1976.00,818.65 1976.45,820.61 1976.90,814.40 1977.35,821.64 1977.80,816.77 1978.25,818.07 1978.70,817.25 1979.15,821.40 1979.60,819.62 1980.05,818.21 1980.50,817.26 1980.95,814.88 1981.40,817.51 1981.85,816.89 1982.30,814.54 1982.75,814.55 1983.20,826.95 1983.65,819.88 1984.10,821.28 1984.55,816.87 1985.00,817.83 1985.45,815.63 1985.90,819.85 1986.35,817.66 1986.80,821.07 1987.25,821.21 1987.70,819.36 1988.15,819.00 1988.60,815.03 1989.05,819.07 1989.50,814.63 1989.95,818.22 1990.40,818.71 1990.85,815.11 1991.30,815.96 1991.75,816.55 1992.20,817.35 1992.65,817.51 1993.10,816.97 1993.55,815.04 1994.00,817.17 1994.45,821.71 1994.90,815.73 1995.35,820.02 1995.80,814.79 1996.25,815.93 1996.70,819.62 1997.15,818.72 1997.60,820.21 1998.05,818.26 1998.50,816.19 1998.95,816.86 1999.40,816.35 1999.85,819.03 2000.30,818.14 2000.75,819.26 2001.20,815.81 2001.65,816.72 2002.10,816.84 2002.55,816.63 2003.00,817.17 2003.45,823.59 2003.90,817.47 2004.35,819.62 2004.80,817.96 2005.25,813.95 2005.70,814.50 2006.15,816.94 2006.60,819.39 2007.05,817.60 2007.50,814.64 2007.95,817.65 2008.40,816.85 2008.85,818.32 2009.30,818.85 2009.75,817.36 2010.20,815.77 2010.65,815.04 2011.10,816.71 2011.55,817.51 2012.00,818.67 2012.45,817.56 2012.90,817.80 2013.35,818.44 2013.80,825.30 2014.25,818.41 2014.70,816.13 2015.15,817.85 2015.60,822.41 2016.05,816.21 2016.50,817.88 2016.95,820.41 2017.40,816.65 2017.85,817.85 2018.30,820.56 2018.75,819.95 2019.20,818.89 2019.65,819.35 2020.10,817.63 2020.55,815.68 2021.00,820.66 2021.45,817.77 2021.90,818.42 2022.35,816.56 2022.80,819.52 2023.25,819.44 2023.70,819.41 2024.15,822.70 2024.60,819.59 2025.05,818.17 2025.50,819.79 2025.95,819.18 2026.40,819.55 2026.85,813.59 2027.30,819.83 2027.75,822.13 2028.20,820.11 2028.65,820.23 2029.10,823.00 2029.55,820.37 2030.00,822.87 2030.45,821.04 2030.90,818.83 2031.35,816.31 2031.80,819.35 2032.25,820.18 2032.70,818.29 2033.15,816.74 2033.60,813.87 2034.05,818.26 2034.50,827.18 2034.95,818.79 2035.40,820.58 2035.85,819.01 2036.30,819.84 2036.75,814.35 2037.20,812.95 2037.65,818.17 2038.10,818.52 2038.55,819.29 2039.00,819.35 2039.45,823.47 2039.90,817.45 2040.35,820.71 2040.80,819.17 2041.25,818.67 2041.70,817.02 2042.15,818.40 2042.60,817.78 2043.05,819.45 2043.50,823.45 2043.95,821.25 2044.40,821.63 2044.85,818.72 2045.30,821.74 2045.75,818.75 2046.20,818.63 2046.65,820.97 2047.10,818.92 2047.55,821.71 2048.00,820.90 2048.45,817.96 2048.90,819.56 2049.35,821.11 2049.80,821.12 2050.25,820.76 2050.70,822.69 2051.15,823.67 2051.60,817.65 2052.05,817.70 2052.50,818.46 2052.95,817.33 2053.40,820.04 2053.85,823.53 2054.30,818.17 2054.75,818.33 2055.20,818.86 2055.65,817.97 2056.10,821.80 2056.55,820.55 2057.00,821.79 2057.45,817.99 2057.90,819.00 2058.35,821.20 2058.80,818.59 2059.25,819.31 2059.70,820.52 2060.15,819.53 2060.60,818.50 2061.05,819.79 2061.50,818.62 2061.95,818.82 2062.40,820.51 2062.85,815.63 2063.30,821.13 2063.75,818.27 2064.20,819.46 2064.65,818.93 2065.10,820.81 2065.55,821.44 2066.00,826.83 2066.45,817.91 2066.90,819.36 2067.35,818.09 2067.80,818.91 2068.25,821.73 2068.70,820.69 2069.15,820.75 2069.60,820.99 2070.05,819.21 2070.50,819.30 2070.95,818.05 2071.40,820.96 2071.85,818.46" stroke="#ff0000" stroke-width="2.2"/>
<polyline points="180.50,1190.14 180.95,1181.32 181.40,1186.97 181.85,1185.19 182.30,1185.24 182.75,1188.90 183.20,1182.28 183.65,1185.64 184.10,1184.33 184.55,1192.28 185.00,1186.37 185.45,1185.28 185.90,1185.26 186.35,1184.67 186.80,1184.07 187.25,1185.69 187.70,1187.19 188.15,1185.93 188.60,1188.49 189.05,1186.33 189.50,1186.75 189.95,1189.80 190.40,1188.07 190.85,1186.46 191.30,1188.02 191.75,1188.49 192.20,1191.25 192.65,1186.84 193.10,1186.85 193.55,1189.53 194.00,1185.68 194.45,1186.75 194.90,1189.05 195.35,1188.74 195.80,1187.87 196.25,1193.11 196.70,1182.12 197.15,1189.59 197.60,1185.89 198.05,1184.46 198.50,1187.78 198.95,1188.56 199.40,1186.54 199.85,1185.23 200.30,1187.14 200.75,1186.71 201.20,1184.04 201.65,1188.04 202.10,1186.91 202.55,1188.40 203.00,1186.03 203.45,1185.04 203.90,1187.92 204.35,1191.28 204.80,1186.09 205.25,1184.54 205.70,1186.90 206.15,1181.72 206.60,1187.55 207.05,1192.17 207.50,1183.13 207.95,1186.30 208.40,1184.48 208.85,1187.55 209.30,1182.17 209.75,1180.83 210.20,1187.30 210.65,1188.19 211.10,1181.91 211.55,1185.08 212.00,1186.87 212.45,1184.86 212.90,1189.15 213.35,1183.78 213.80,1187.05 214.25,1184.15 214.70,1188.52 215.15,1183.10 215.60,1185.23 216.05,1182.18 216.50,1188.87 216.95,1187.31 217.40,1187.27 217.85,1187.76 218.30,1186.62 218.75,1184.66 219.20,1184.33 219.65,1184.24 220.10,1188.35 220.55,1183.32 221.00,1185.00 221.45,1185.49 221.90,1186.35 222.35,1186.85 222.80,1183.42 223.25,1182.84 223.70,1186.46 224.15,1188.78 224.60,1188.15 225.05,1186.93 225.50,1184.84 225.95,1187.48 226.40,1186.70 226.85,1188.93 227.30,1186.16 227.75,1187.66 228.20,1187.13 228.65,1189.33 229.10,1184.53 229.55,1192.06 230.00,1186.85 230.45,1190.19 230.90,1183.37 231.35,1187.01 231.80,1186.20 232.25,1188.46 232.70,1183.13 233.15,1189.80 233.60,1190.45 234.05,1185.07 234.50,1185.30 234.95,1185.42 235.40,1186.53 235.85,1187.30 236.30,1189.78 236.75,1185.12 237.20,1188.60 237.65,1185.22 238.10,1188.22 238.55,1186.16 239.00,1187.52 239.45,1182.47 239.90,1184.20 240.35,1182.84 240.80,1187.03 241.25,1184.96 241.70,1183.12 242.15,1182.47 242.60,1183.92 243.05,1181.43 243.50,1180.95 243.95,1183.45 244.40,1187.02 244.85,1181.84 245.30,1181.05 245.75,1179.54 246.20,1178.94 246.65,1182.27 247.10,1185.24 247.55,1181.15 248.00,1181.75 248.45,1181.31 248.90,1181.34 249.35,1177.89 249.80,1176.47 250.25,1180.76 250.70,1179.04 251.15,1179.50 251.60,1178.88 252.05,1179.60 252.50,1181.96 252.95,1179.34 253.40,1179.73 253.85,1183.61 254.30,1180.98 254.75,1182.65 255.20,1175.14 255.65,1180.26 256.10,1177.25 256.55,1178.21 257.00,1179.38 257.45,1179.93 257.90,1179.79 258.35,1177.82 258.80,1176.83 259.25,1178.00 259.70,1176.89 260.15,1178.35 260.60,1175.57 261.05,1180.80 261.50,1178.77 261.95,1181.12 262.40,1176.66 262.85,1176.02 263.30,1176.84 263.75,1178.00 264.20,1175.21 264.65,1177.04 265.10,1175.90 265.55,1178.83 266.00,1174.47 266.45,1177.77 266.90,1174.66 267.35,1174.30 267.80,1174.70 268.25,1173.72 268.70,1175.83 269.15,1177.45 269.60,1175.67 270.05,1176.59 270.50,1178.38 270.95,1175.43 271.40,1175.35 271.85,1174.46 272.30,1171.39 272.75,1175.58 273.20,1170.42 273.65,1175.10 274.10,1173.26 274.55,1175.57 275.00,1173.12 275.45,1171.74 275.90,1174.04 276.35,1172.15 276.80,1172.35 277.25,1172.25 277.70,1171.82 278.15,1171.37 278.60,1169.45 279.05,1170.22 279.50,1166.32 279.95,1170.22 280.40,1168.08 280.85,1172.61 281.30,1172.49 281.75,1163.28 282.20,1169.81 282.65,1168.93 283.10,1165.49 283.55,1169.08 284.00,1167.09 284.45,1164.25 284.90,1166.87 285.35,1166.66 285.80,1166.59 286.25,1163.59 286.70,1168.18 287.15,1168.05 287.60,1162.62 288.05,1163.59 288.50,1163.81 288.95,1165.38 289.40,1167.81 289.85,1165.24 290.30,1162.56 290.75,1162.76 291.20,1163.48 291.65,1167.59 292.10,1162.54 292.55,1163.05 293.00,1163.80 293.45,1162.69 293.90,1166.99 294.35,1161.80 294.80,1165.74 295.25,1162.58 295.70,1163.26 296.15,1157.33 296.60,1165.22 297.05,1159.03 297.50,1161.61 297.95,1160.08 298.40,1159.61 298.85,1155.32 299.30,1163.18 299.75,1162.49 300.20,1163.05 300.65,1163.69 301.10,1160.32 301.55,1163.78 302.00,1161.15 302.45,1159.56 302.90,1160.95 303.35,1161.85 303.80,1159.42 304.25,1159.71 304.70,1159.41 305.15,1159.94 305.60,1156.99 306.05,1157.07 306.50,1157.06 306.95,1159.48 307.40,1153.59 307.85,1157.33 308.30,1158.66 308.75,1154.10 309.20,1158.41 309.65,1156.25 310.10,1159.90 310.55,1155.02 311.00,1151.31 311.45,1152.84 311.90,1157.21 312.35,1151.92 312.80,1157.27 313.25,1153.37 313.70,1155.53 314.15,1154.31 314.60,1148.70 315.05,1151.87 315.50,1153.75 315.95,1148.96 316.40,1150.05 316.85,1153.20 317.30,1150.48 317.75,1152.62 318.20,1149.49 318.65,1151.82 319.10,1149.21 319.55,1147.48 320.00,1153.04 320.45,1149.72 320.90,1147.35 321.35,1146.99 321.80,1149.21 322.25,1149.99 322.70,1148.64 323.15,1150.51 323.60,1146.65 324.05,1147.24 324.50,1145.64 324.95,1145.31 325.40,1143.47 325.85,1142.50 326.30,1147.91 326.75,1140.57 327.20,1141.24 327.65,1145.07 328.10,1143.00 328.55,1149.00 329.00,1145.04 329.45,1141.94 329.90,1144.81 330.35,1143.73 330.80,1141.73 331.25,1144.76 331.70,1140.88 332.15,1136.23 332.60,1143.33 333.05,1145.72 333.50,1144.20 333.95,1140.28 334.40,1139.03 334.85,1143.91 335.30,1138.48 335.75,1140.67 336.20,1142.60 336.65,1141.31 337.10,1139.10 337.55,1139.37 338.00,1140.53 338.45,1137.33 338.90,1140.22 339.35,1139.31 339.80,1142.94 340.25,1143.01 340.70,1136.16 341.15,1138.47 341.60,1135.98 342.05,1136.76 342.50,1136.08 342.95,1137.82 343.40,1135.93 343.85,1134.62 344.30,1129.42 344.75,1132.47 345.20,1137.06 345.65,1126.45 346.10,1132.38 346.55,1131.21 347.00,1134.68 347.45,1133.84 347.90,1131.16 348.35,1134.61 348.80,1133.70 349.25,1134.39 349.70,1131.30 350.15,1135.39 350.60,1132.73 351.05,1131.07 351.50,1130.07 351.95,1130.67 352.40,1132.77 352.85,1130.39 353.30,1132.95 353.75,1131.93 354.20,1133.35 354.65,1132.48 355.10,1130.38 355.55,1126.58 356.00,1129.64 356.45,1131.01 356.90,1126.27 357.35,1123.35 357.80,1128.15 358.25,1128.05 358.70,1127.11 359.15,1131.11 359.60,1128.80 360.05,1126.98 360.50,1125.68 360.95,1127.63 361.40,1130.58 361.85,1128.56 362.30,1126.16 362.75,1129.77 363.20,1129.78 363.65,1128.90 364.10,1128.09 364.55,1125.60 365.00,1126.84 365.45,1123.69 365.90,1123.67 366.35,1128.44 366.80,1125.44 367.25,1128.67 367.70,1120.75 368.15,1125.22 368.60,1121.38 369.05,1123.05 369.50,1124.34 369.95,1128.62 370.40,1124.34 370.85,1122.15 371.30,1122.93 371.75,1124.87 372.20,1125.36 372.65,1122.92 373.10,1122.52 373.55,1122.81 374.00,1124.50 374.45,1120.15 374.90,1119.52 375.35,1122.25 375.80,1119.80 376.25,1120.43 376.70,1115.27 377.15,1122.03 377.60,1118.77 378.05,1122.04 378.50,1111.05 378.95,1120.58 379.40,1116.45 379.85,1116.88 380.30,1120.23 380.75,1117.95 381.20,1116.28 381.65,1116.77 382.10,1117.89 382.55,1116.62 383.00,1116.00 383.45,1117.89 383.90,1114.15 384.35,1114.78 384.80,1114.35 385.25,1111.62 385.70,1113.31 386.15,1117.08 386.60,1114.61 387.05,1114.38 387.50,1111.19 387.95,1113.25 388.40,1115.40 388.85,1115.46 389.30,1112.82 389.75,1113.82 390.20,1113.74 390.65,1117.50 391.10,1119.07 391.55,1113.76 392.00,1113.72 392.45,1109.61 392.90,1114.25 393.35,1113.75 393.80,1111.79 394.25,1115.46 394.70,1110.87 395.15,1113.19 395.60,1113.58 396.05,1110.60 396.50,1114.53 396.95,1114.28 397.40,1109.27 397.85,1108.85 398.30,1112.57 398.75,1111.06 399.20,1109.02 399.65,1110.86 400.10,1110.74 400.55,1110.33 401.00,1112.15 401.45,1111.45 401.90,1113.39 402.35,1112.35 402.80,1110.92 403.25,1111.41 403.70,1111.48 404.15,1110.06 404.60,1106.32 405.05,1106.08 405.50,1108.64 405.95,1109.77 406.40,1101.95 406.85,1107.99 407.30,1107.64 407.75,1109.83 408.20,1107.13 408.65,1105.96 409.10,1106.75 409.55,1105.14 410.00,1102.30 410.45,1105.87 410.90,1104.89 411.35,1109.33 411.80,1104.77 412.25,1105.43 412.70,1104.71 413.15,1106.72 413.60,1103.14 414.05,1102.50 414.50,1104.89 414.95,1105.60 415.40,1104.82 415.85,1103.16 416.30,1102.77 416.75,1105.56 417.20,1107.20 417.65,1105.10 418.10,1104.80 418.55,1104.95 419.00,1101.77 419.45,1103.14 419.90,1103.11 420.35,1103.91 420.80,1103.00 421.25,1100.30 421.70,1104.45 422.15,1105.34 422.60,1101.34 423.05,1102.66 423.50,1102.11 423.95,1102.91 424.40,1101.85 424.85,1103.64 425.30,1099.62 425.75,1100.92 426.20,1100.58 426.65,1099.49 427.10,1100.22 427.55,1101.94 428.00,1098.01 428.45,1098.57 428.90,1093.24 429.35,1092.59 429.80,1101.70 430.25,1099.52 430.70,1099.49 431.15,1101.74 431.60,1097.98 432.05,1099.79 432.50,1098.89 432.95,1101.40 433.40,1095.40 433.85,1093.59 434.30,1097.31 434.75,1101.29 435.20,1098.17 435.65,1098.96 436.10,1100.34 436.55,1099.49 437.00,1099.67 437.45,1100.93 437.90,1100.15 438.35,1099.60 438.80,1097.91 439.25,1100.57 439.70,1098.55 440.15,1101.63 440.60,1103.67 441.05,1096.41 441.50,1094.59 441.95,1097.98 442.40,1099.89 442.85,1101.10 443.30,1100.80 443.75,1096.43 444.20,1097.40 444.65,1100.93 445.10,1095.88 445.55,1100.67 446.00,1098.11 446.45,1100.09 446.90,1099.93 447.35,1099.91 447.80,1100.06 448.25,1096.12 448.70,1098.20 449.15,1097.94 449.60,1098.62 450.05,1100.34 450.50,1097.71 450.95,1096.98 451.40,1099.10 451.85,1097.71 452.30,1099.51 452.75,1089.96 453.20,1099.92 453.65,1097.90 454.10,1096.86 454.55,1096.48 455.00,1098.05 455.45,1098.75 455.90,1096.30 456.35,1099.57 456.80,1099.74 457.25,1102.55 457.70,1098.33 458.15,1101.77 458.60,1099.74 459.05,1095.69 459.50,1099.00 459.95,1097.60 460.40,1097.80 460.85,1093.89 461.30,1099.39 461.75,1096.75 462.20,1098.26 462.65,1097.68 463.10,1099.86 463.55,1098.03 464.00,1096.80 464.45,1099.22 464.90,1100.81 465.35,1097.33 465.80,1100.54 466.25,1098.29 466.70,1097.33 467.15,1101.55 467.60,1097.34 468.05,1101.17 468.50,1098.97 468.95,1100.52 469.40,1097.43 469.85,1098.40 470.30,1101.75 470.75,1099.97 471.20,1099.31 471.65,1097.96 472.10,1099.80 472.55,1096.69 473.00,1096.91 473.45,1098.55 473.90,1097.08 474.35,1097.10 474.80,1098.47 475.25,1098.57 475.70,1098.43 476.15,1101.52 476.60,1099.68 477.05,1099.32 477.50,1095.11 477.95,1091.55 478.40,1087.24 478.85,1086.42 479.30,1079.91 479.75,1080.95 480.20,1082.33 480.65,1084.73 481.10,1085.28 481.55,1084.63 482.00,1089.91 482.45,1090.19 482.90,1095.36 483.35,1094.84 483.80,1098.12 484.25,1102.11 484.70,1106.12 485.15,1102.59 485.60,1098.74 486.05,1097.59 486.50,1100.71 486.95,1101.45 487.40,1097.70 487.85,1098.97 488.30,1096.23 488.75,1098.47 489.20,1100.99 489.65,1099.02 490.10,1098.10 490.55,1096.79 491.00,1100.22 491.45,1100.59 491.90,1100.29 492.35,1099.72 492.80,1097.13 493.25,1103.23 493.70,1099.88 494.15,1099.65 494.60,1101.66 495.05,1096.29 495.50,1100.41 495.95,1100.50 496.40,1101.53 496.85,1103.42 497.30,1101.90 497.75,1097.81 498.20,1100.71 498.65,1101.36 499.10,1101.42 499.55,1098.55 500.00,1098.09 500.45,1105.69 500.90,1104.65 501.35,1101.64 501.80,1098.39 502.25,1104.75 502.70,1094.48 503.15,1101.46 503.60,1106.04 504.05,1101.84 504.50,1102.88 504.95,1099.95 505.40,1104.94 505.85,1099.36 506.30,1102.25 506.75,1101.80 507.20,1099.65 507.65,1103.17 508.10,1098.62 508.55,1099.75 509.00,1104.25 509.45,1102.87 509.90,1101.81 510.35,1102.56 510.80,1100.50 511.25,1100.19 511.70,1100.37 512.15,1100.48 512.60,1103.25 513.05,1101.36 513.50,1109.00 513.95,1101.72 514.40,1099.95 514.85,1103.21 515.30,1099.29 515.75,1101.19 516.20,1104.21 516.65,1099.04 517.10,1101.08 517.55,1098.00 518.00,1100.24 518.45,1098.53 518.90,1100.91 519.35,1100.87 519.80,1102.40 520.25,1105.27 520.70,1102.86 521.15,1101.77 521.60,1102.08 522.05,1101.42 522.50,1100.31 522.95,1102.60 523.40,1101.74 523.85,1104.31 524.30,1102.01 524.75,1100.50 525.20,1104.78 525.65,1100.76 526.10,1105.32 526.55,1099.93 527.00,1100.24 527.45,1101.51 527.90,1106.20 528.35,1102.25 528.80,1103.49 529.25,1101.91 529.70,1102.56 530.15,1099.85 530.60,1107.29 531.05,1104.17 531.50,1103.61 531.95,1103.98 532.40,1100.31 532.85,1099.74 533.30,1105.82 533.75,1105.66 534.20,1100.44 534.65,1102.84 535.10,1104.19 535.55,1105.59 536.00,1104.64 536.45,1103.07 536.90,1104.52 537.35,1104.45 537.80,1098.96 538.25,1103.23 538.70,1098.93 539.15,1103.14 539.60,1101.68 540.05,1105.58 540.50,1106.72 540.95,1105.79 541.40,1104.41 541.85,1105.21 542.30,1107.41 542.75,1103.73 543.20,1106.97 543.65,1107.02 544.10,1106.21 544.55,1104.75 545.00,1104.14 545.45,1106.29 545.90,1103.42 546.35,1103.75 546.80,1103.34 547.25,1106.81 547.70,1104.49 548.15,1106.48 548.60,1104.16 549.05,1108.64 549.50,1110.45 549.95,1107.20 550.40,1109.84 550.85,1107.65 551.30,1110.51 551.75,1099.82 552.20,1103.33 552.65,1109.64 553.10,1107.26 553.55,1105.69 554.00,1106.46 554.45,1104.67 554.90,1107.45 555.35,1105.57 555.80,1110.55 556.25,1108.86 556.70,1099.72 557.15,1105.22 557.60,1107.96 558.05,1104.44 558.50,1107.79 558.95,1108.23 559.40,1106.85 559.85,1107.39 560.30,1109.48 560.75,1111.00 561.20,1111.29 561.65,1108.54 562.10,1106.84 562.55,1107.69 563.00,1109.73 563.45,1107.08 563.90,1110.18 564.35,1106.22 564.80,1106.59 565.25,1108.55 565.70,1109.57 566.15,1105.59 566.60,1107.29 567.05,1108.71 567.50,1108.90 567.95,1103.75 568.40,1108.90 568.85,1108.22 569.30,1111.49 569.75,1109.79 570.20,1106.18 570.65,1104.64 571.10,1108.94 571.55,1110.79 572.00,1108.92 572.45,1110.26 572.90,1107.98 573.35,1106.11 573.80,1110.01 574.25,1111.05 574.70,1109.92 575.15,1105.99 575.60,1108.76 576.05,1109.44 576.50,1109.15 576.95,1107.36 577.40,1107.40 577.85,1107.80 578.30,1109.16 578.75,1109.23 579.20,1107.53 579.65,1107.10 580.10,1107.07 580.55,1111.78 581.00,1105.23 581.45,1107.21 581.90,1107.76 582.35,1113.37 582.80,1108.70 583.25,1110.41 583.70,1110.19 584.15,1110.44 584.60,1108.95 585.05,1112.06 585.50,1105.02 585.95,1111.84 586.40,1106.74 586.85,1105.51 587.30,1108.80 587.75,1105.79 588.20,1109.83 588.65,1107.37 589.10,1108.74 589.55,1106.87 590.00,1109.22 590.45,1109.20 590.90,1102.41 591.35,1108.92 591.80,1110.08 592.25,1107.22 592.70,1109.07 593.15,1112.46 593.60,1110.17 594.05,1102.94 594.50,1112.52 594.95,1109.74 595.40,1105.57 595.85,1102.64 596.30,1106.92 596.75,1106.15 597.20,1111.57 597.65,1108.68 598.10,1106.54 598.55,1106.36 599.00,1107.59 599.45,1106.96 599.90,1107.33 600.35,1108.13 600.80,1114.82 601.25,1116.56 601.70,1108.09 602.15,1107.70 602.60,1111.06 603.05,1104.32 603.50,1111.97 603.95,1106.21 604.40,1107.60 604.85,1100.10 605.30,1101.45 605.75,1097.24 606.20,1092.27 606.65,1087.84 607.10,1080.32 607.55,1071.23 608.00,1069.40 608.45,1071.65 608.90,1075.91 609.35,1080.35 609.80,1086.96 610.25,1093.20 610.70,1096.28 611.15,1099.58 611.60,1106.40 612.05,1107.13 612.50,1107.37 612.95,1106.51 613.40,1110.64 613.85,1111.76 614.30,1108.09 614.75,1109.90 615.20,1107.96 615.65,1112.70 616.10,1111.64 616.55,1108.21 617.00,1112.93 617.45,1111.26 617.90,1112.96 618.35,1111.39 618.80,1109.28 619.25,1108.98 619.70,1111.02 620.15,1105.05 620.60,1107.68 621.05,1113.65 621.50,1109.70 621.95,1109.19 622.40,1109.15 622.85,1111.87 623.30,1114.88 623.75,1110.88 624.20,1112.36 624.65,1107.93 625.10,1110.13 625.55,1110.10 626.00,1110.89 626.45,1111.73 626.90,1107.14 627.35,1116.73 627.80,1109.26 628.25,1110.93 628.70,1111.64 629.15,1111.59 629.60,1110.54 630.05,1104.65 630.50,1108.25 630.95,1111.81 631.40,1108.51 631.85,1108.61 632.30,1106.01 632.75,1112.39 633.20,1110.84 633.65,1107.85 634.10,1108.93 634.55,1108.98 635.00,1106.78 635.45,1108.07 635.90,1108.56 636.35,1108.57 636.80,1107.68 637.25,1099.43 637.70,1101.27 638.15,1099.76 638.60,1094.92 639.05,1092.06 639.50,1096.96 639.95,1096.66 640.40,1100.75 640.85,1104.39 641.30,1103.11 641.75,1108.00 642.20,1108.57 642.65,1108.32 643.10,1109.42 643.55,1107.64 644.00,1105.30 644.45,1108.73 644.90,1107.98 645.35,1111.45 645.80,1110.42 646.25,1108.85 646.70,1106.64 647.15,1112.15 647.60,1111.99 648.05,1110.37 648.50,1110.88 648.95,1110.18 649.40,1104.96 649.85,1112.49 650.30,1115.28 650.75,1111.13 651.20,1109.29 651.65,1108.40 652.10,1108.46 652.55,1110.64 653.00,1114.39 653.45,1114.03 653.90,1109.60 654.35,1108.43 654.80,1112.85 655.25,1106.37 655.70,1109.59 656.15,1113.82 656.60,1112.27 657.05,1114.53 657.50,1112.51 657.95,1113.71 658.40,1112.80 658.85,1110.14 659.30,1111.46 659.75,1110.05 660.20,1112.69 660.65,1109.35 661.10,1108.02 661.55,1112.25 662.00,1113.43 662.45,1114.07 662.90,1113.23 663.35,1108.23 663.80,1106.26 664.25,1108.85 664.70,1112.85 665.15,1107.27 665.60,1111.49 666.05,1111.74 666.50,1109.02 666.95,1111.58 667.40,1112.60 667.85,1110.70 668.30,1112.29 668.75,1112.25 669.20,1114.05 669.65,1111.49 670.10,1109.98 670.55,1113.44 671.00,1110.04 671.45,1109.82 671.90,1112.13 672.35,1109.67 672.80,1111.78 673.25,1112.70 673.70,1110.99 674.15,1103.35 674.60,1112.54 675.05,1112.30 675.50,1107.50 675.95,1108.25 676.40,1115.19 676.85,1111.75 677.30,1107.09 677.75,1108.76 678.20,1111.54 678.65,1109.60 679.10,1112.15 679.55,1111.58 680.00,1112.49 680.45,1109.28 680.90,1112.81 681.35,1115.44 681.80,1110.43 682.25,1114.58 682.70,1113.79 683.15,1109.51 683.60,1111.60 684.05,1109.54 684.50,1110.09 684.95,1113.06 685.40,1113.67 685.85,1114.29 686.30,1113.71 686.75,1113.70 687.20,1111.27 687.65,1109.48 688.10,1112.29 688.55,1112.68 689.00,1111.86 689.45,1114.50 689.90,1113.11 690.35,1109.45 690.80,1112.80 691.25,1110.21 691.70,1111.91 692.15,1112.43 692.60,1112.23 693.05,1118.17 693.50,1112.75 693.95,1107.33 694.40,1113.13 694.85,1114.32 695.30,1113.99 695.75,1111.84 696.20,1112.54 696.65,1111.57 697.10,1108.71 697.55,1110.03 698.00,1112.28 698.45,1110.31 698.90,1115.04 699.35,1108.54 699.80,1110.75 700.25,1113.22 700.70,1110.10 701.15,1108.78 701.60,1107.74 702.05,1110.03 702.50,1113.30 702.95,1111.14 703.40,1111.61 703.85,1109.30 704.30,1111.74 704.75,1110.58 705.20,1109.18 705.65,1110.22 706.10,1111.57 706.55,1113.71 707.00,1111.33 707.45,1112.20 707.90,1114.94 708.35,1109.47 708.80,1108.78 709.25,1112.73 709.70,1111.60 710.15,1110.85 710.60,1111.25 711.05,1112.33 711.50,1111.48 711.95,1110.43 712.40,1112.02 712.85,1109.30 713.30,1109.83 713.75,1108.92 714.20,1110.84 714.65,1112.80 715.10,1107.93 715.55,1117.29 716.00,1112.16 716.45,1110.80 716.90,1108.94 717.35,1109.57 717.80,1110.13 718.25,1110.83 718.70,1112.08 719.15,1117.20 719.60,1113.13 720.05,1115.17 720.50,1114.48 720.95,1113.23 721.40,1116.40 721.85,1114.77 722.30,1111.56 722.75,1113.04 723.20,1115.12 723.65,1113.45 724.10,1114.97 724.55,1113.67 725.00,1114.80 725.45,1111.62 725.90,1113.15 726.35,1111.38 726.80,1113.54 727.25,1109.03 727.70,1112.79 728.15,1117.32 728.60,1113.20 729.05,1112.04 729.50,1113.11 729.95,1110.57 730.40,1110.44 730.85,1117.95 731.30,1112.06 731.75,1114.10 732.20,1110.47 732.65,1114.01 733.10,1108.99 733.55,1110.55 734.00,1112.10 734.45,1113.86 734.90,1110.61 735.35,1107.35 735.80,1112.25 736.25,1111.35 736.70,1112.46 737.15,1108.84 737.60,1103.12 738.05,1110.44 738.50,1111.08 738.95,1106.52 739.40,1113.50 739.85,1106.40 740.30,1107.19 740.75,1108.25 741.20,1106.08 741.65,1107.87 742.10,1104.89 742.55,1102.46 743.00,1099.79 743.45,1089.02 743.90,1083.07 744.35,1078.24 744.80,1068.53 745.25,1065.99 745.70,1057.94 746.15,1056.42 746.60,1060.76 747.05,1060.18 747.50,1068.87 747.95,1079.10 748.40,1084.78 748.85,1093.45 749.30,1096.69 749.75,1107.66 750.20,1102.46 750.65,1102.11 751.10,1102.82 751.55,1109.85 752.00,1106.29 752.45,1106.82 752.90,1111.15 753.35,1110.47 753.80,1106.47 754.25,1107.99 754.70,1109.36 755.15,1107.72 755.60,1110.58 756.05,1110.03 756.50,1110.09 756.95,1111.15 757.40,1110.83 757.85,1113.06 758.30,1113.00 758.75,1107.41 759.20,1112.47 759.65,1108.75 760.10,1108.17 760.55,1112.19 761.00,1109.59 761.45,1110.30 761.90,1112.96 762.35,1109.84 762.80,1109.59 763.25,1112.19 763.70,1114.03 764.15,1112.67 764.60,1108.54 765.05,1110.32 765.50,1110.93 765.95,1115.22 766.40,1112.49 766.85,1114.29 767.30,1112.85 767.75,1109.85 768.20,1111.50 768.65,1113.61 769.10,1108.50 769.55,1109.91 770.00,1110.61 770.45,1107.35 770.90,1110.93 771.35,1103.44 771.80,1111.63 772.25,1108.52 772.70,1110.52 773.15,1113.31 773.60,1112.32 774.05,1108.98 774.50,1111.12 774.95,1107.28 775.40,1110.44 775.85,1111.65 776.30,1109.74 776.75,1110.53 777.20,1110.54 777.65,1109.00 778.10,1109.80 778.55,1114.40 779.00,1111.82 779.45,1110.09 779.90,1110.73 780.35,1105.09 780.80,1114.24 781.25,1112.45 781.70,1114.49 782.15,1111.92 782.60,1111.96 783.05,1113.55 783.50,1115.33 783.95,1111.26 784.40,1111.92 784.85,1112.73 785.30,1109.65 785.75,1111.99 786.20,1112.89 786.65,1113.89 787.10,1110.14 787.55,1111.70 788.00,1112.49 788.45,1111.00 788.90,1112.15 789.35,1113.14 789.80,1112.59 790.25,1109.51 790.70,1110.84 791.15,1107.44 791.60,1112.94 792.05,1110.31 792.50,1111.92 792.95,1109.15 793.40,1111.58 793.85,1112.74 794.30,1114.02 794.75,1111.27 795.20,1113.55 795.65,1111.33 796.10,1110.01 796.55,1113.26 797.00,1104.80 797.45,1110.64 797.90,1110.08 798.35,1111.77 798.80,1111.20 799.25,1108.40 799.70,1108.59 800.15,1109.42 800.60,1111.07 801.05,1112.54 801.50,1110.08 801.95,1112.53 802.40,1109.58 802.85,1107.46 803.30,1109.86 803.75,1106.43 804.20,1108.44 804.65,1108.24 805.10,1103.93 805.55,1101.68 806.00,1102.58 806.45,1092.00 806.90,1083.00 807.35,1071.48 807.80,1053.22 808.25,1025.55 808.70,1015.89 809.15,996.58 809.60,1000.17 810.05,1004.15 810.50,1021.16 810.95,1043.99 811.40,1061.03 811.85,1073.32 812.30,1087.32 812.75,1092.83 813.20,1098.77 813.65,1100.43 814.10,1103.79 814.55,1108.13 815.00,1108.67 815.45,1109.48 815.90,1111.40 816.35,1104.02 816.80,1109.38 817.25,1110.46 817.70,1114.98 818.15,1112.26 818.60,1113.16 819.05,1113.19 819.50,1114.10 819.95,1114.95 820.40,1114.01 820.85,1113.81 821.30,1120.25 821.75,1110.98 822.20,1114.96 822.65,1115.73 823.10,1114.42 823.55,1114.61 824.00,1112.52 824.45,1116.95 824.90,1115.45 825.35,1111.48 825.80,1115.62 826.25,1116.04 826.70,1115.13 827.15,1114.68 827.60,1111.85 828.05,1115.47 828.50,1110.54 828.95,1112.50 829.40,1111.91 829.85,1111.84 830.30,1109.86 830.75,1112.32 831.20,1114.88 831.65,1114.35 832.10,1114.34 832.55,1112.84 833.00,1116.56 833.45,1114.83 833.90,1115.94 834.35,1110.70 834.80,1113.96 835.25,1111.21 835.70,1114.02 836.15,1111.92 836.60,1110.93 837.05,1113.58 837.50,1115.34 837.95,1114.21 838.40,1114.62 838.85,1111.83 839.30,1112.13 839.75,1111.27 840.20,1113.43 840.65,1115.16 841.10,1113.65 841.55,1112.84 842.00,1110.95 842.45,1113.92 842.90,1112.07 843.35,1109.06 843.80,1109.19 844.25,1111.76 844.70,1110.80 845.15,1115.32 845.60,1112.42 846.05,1110.20 846.50,1111.47 846.95,1115.19 847.40,1111.78 847.85,1113.45 848.30,1112.41 848.75,1113.82 849.20,1111.36 849.65,1108.40 850.10,1108.67 850.55,1105.84 851.00,1103.60 851.45,1095.76 851.90,1093.06 852.35,1082.23 852.80,1084.21 853.25,1086.29 853.70,1094.22 854.15,1099.56 854.60,1103.64 855.05,1107.39 855.50,1105.41 855.95,1104.99 856.40,1111.23 856.85,1105.68 857.30,1104.88 857.75,1106.91 858.20,1106.61 858.65,1098.74 859.10,1101.83 859.55,1102.43 860.00,1100.55 860.45,1095.30 860.90,1093.44 861.35,1082.38 861.80,1074.44 862.25,1066.98 862.70,1047.85 863.15,1033.05 863.60,1013.85 864.05,989.45 864.50,969.65 864.95,946.74 865.40,925.31 865.85,914.91 866.30,905.04 866.75,908.09 867.20,914.13 867.65,929.54 868.10,948.92 868.55,970.07 869.00,989.76 869.45,1009.74 869.90,1028.89 870.35,1044.63 870.80,1054.42 871.25,1064.81 871.70,1073.27 872.15,1075.89 872.60,1079.50 873.05,1088.70 873.50,1091.24 873.95,1091.37 874.40,1094.09 874.85,1093.22 875.30,1094.80 875.75,1099.66 876.20,1098.08 876.65,1103.76 877.10,1102.00 877.55,1105.14 878.00,1109.39 878.45,1106.85 878.90,1106.96 879.35,1110.26 879.80,1106.91 880.25,1108.22 880.70,1110.54 881.15,1112.37 881.60,1109.11 882.05,1111.70 882.50,1116.89 882.95,1108.93 883.40,1110.94 883.85,1114.48 884.30,1111.85 884.75,1112.84 885.20,1113.50 885.65,1110.72 886.10,1113.90 886.55,1115.10 887.00,1115.43 887.45,1114.70 887.90,1111.49 888.35,1111.21 888.80,1110.58 889.25,1110.52 889.70,1116.92 890.15,1114.66 890.60,1115.43 891.05,1111.40 891.50,1114.07 891.95,1109.99 892.40,1111.66 892.85,1110.06 893.30,1112.02 893.75,1111.75 894.20,1105.07 894.65,1110.91 895.10,1110.47 895.55,1109.28 896.00,1110.81 896.45,1107.40 896.90,1111.00 897.35,1107.95 897.80,1110.06 898.25,1109.69 898.70,1111.50 899.15,1110.43 899.60,1108.27 900.05,1106.33 900.50,1103.59 900.95,1106.37 901.40,1108.44 901.85,1108.72 902.30,1100.77 902.75,1104.09 903.20,1105.06 903.65,1104.25 904.10,1099.98 904.55,1106.91 905.00,1106.06 905.45,1107.31 905.90,1104.55 906.35,1106.28 906.80,1106.82 907.25,1116.00 907.70,1106.73 908.15,1109.96 908.60,1112.53 909.05,1111.50 909.50,1113.75 909.95,1111.34 910.40,1113.83 910.85,1115.31 911.30,1118.27 911.75,1116.01 912.20,1117.69 912.65,1115.46 913.10,1115.84 913.55,1118.94 914.00,1119.14 914.45,1118.88 914.90,1117.63 915.35,1120.72 915.80,1121.26 916.25,1115.35 916.70,1120.56 917.15,1117.85 917.60,1122.02 918.05,1116.46 918.50,1115.07 918.95,1115.83 919.40,1122.48 919.85,1115.31 920.30,1117.24 920.75,1118.67 921.20,1118.55 921.65,1117.98 922.10,1115.97 922.55,1113.87 923.00,1117.87 923.45,1117.75 923.90,1118.14 924.35,1120.20 924.80,1116.90 925.25,1116.88 925.70,1113.16 926.15,1118.38 926.60,1117.20 927.05,1115.95 927.50,1118.39 927.95,1115.92 928.40,1117.19 928.85,1122.33 929.30,1120.41 929.75,1120.84 930.20,1120.46 930.65,1120.15 931.10,1119.33 931.55,1123.01 932.00,1118.64 932.45,1120.00 932.90,1118.35 933.35,1118.22 933.80,1111.89 934.25,1114.65 934.70,1121.15 935.15,1121.11 935.60,1117.76 936.05,1118.59 936.50,1119.90 936.95,1117.32 937.40,1122.15 937.85,1116.49 938.30,1117.11 938.75,1113.28 939.20,1121.30 939.65,1118.30 940.10,1121.25 940.55,1116.35 941.00,1118.50 941.45,1118.07 941.90,1118.55 942.35,1122.04 942.80,1123.02 943.25,1121.19 943.70,1117.89 944.15,1119.93 944.60,1121.03 945.05,1119.35 945.50,1119.50 945.95,1119.04 946.40,1116.37 946.85,1118.27 947.30,1121.19 947.75,1116.20 948.20,1118.39 948.65,1119.71 949.10,1115.91 949.55,1118.25 950.00,1113.89 950.45,1116.90 950.90,1115.21 951.35,1116.10 951.80,1116.90 952.25,1117.82 952.70,1117.87 953.15,1113.42 953.60,1121.15 954.05,1117.20 954.50,1115.98 954.95,1116.97 955.40,1118.77 955.85,1116.15 956.30,1117.23 956.75,1117.52 957.20,1119.71 957.65,1117.48 958.10,1120.09 958.55,1119.49 959.00,1122.30 959.45,1121.29 959.90,1125.36 960.35,1116.65 960.80,1118.49 961.25,1119.23 961.70,1119.10 962.15,1119.88 962.60,1124.36 963.05,1120.17 963.50,1120.09 963.95,1119.12 964.40,1122.20 964.85,1119.68 965.30,1118.52 965.75,1117.73 966.20,1120.94 966.65,1121.31 967.10,1120.12 967.55,1119.07 968.00,1120.83 968.45,1121.62 968.90,1116.85 969.35,1118.41 969.80,1121.32 970.25,1118.97 970.70,1119.52 971.15,1119.50 971.60,1117.96 972.05,1120.40 972.50,1121.15 972.95,1117.93 973.40,1120.88 973.85,1122.60 974.30,1121.37 974.75,1123.17 975.20,1117.66 975.65,1123.62 976.10,1119.72 976.55,1124.39 977.00,1118.07 977.45,1114.00 977.90,1117.77 978.35,1117.87 978.80,1115.21 979.25,1113.31 979.70,1111.34 980.15,1107.02 980.60,1108.14 981.05,1103.21 981.50,1104.55 981.95,1100.52 982.40,1101.93 982.85,1104.86 983.30,1111.05 983.75,1109.53 984.20,1111.91 984.65,1117.38 985.10,1120.68 985.55,1120.39 986.00,1115.47 986.45,1119.12 986.90,1120.40 987.35,1118.81 987.80,1115.95 988.25,1118.12 988.70,1115.63 989.15,1117.00 989.60,1123.56 990.05,1119.57 990.50,1116.67 990.95,1116.84 991.40,1120.62 991.85,1118.87 992.30,1121.54 992.75,1119.27 993.20,1120.14 993.65,1120.91 994.10,1118.40 994.55,1117.13 995.00,1118.34 995.45,1118.95 995.90,1119.88 996.35,1120.15 996.80,1124.36 997.25,1121.13 997.70,1118.74 998.15,1123.11 998.60,1124.51 999.05,1121.14 999.50,1119.16 999.95,1123.26 1000.40,1122.14 1000.85,1121.17 1001.30,1120.40 1001.75,1119.87 1002.20,1122.45 1002.65,1122.13 1003.10,1120.68 1003.55,1120.03 1004.00,1121.59 1004.45,1122.00 1004.90,1120.81 1005.35,1128.87 1005.80,1120.83 1006.25,1118.29 1006.70,1122.21 1007.15,1121.82 1007.60,1126.31 1008.05,1123.95 1008.50,1123.05 1008.95,1122.15 1009.40,1125.22 1009.85,1124.65 1010.30,1122.24 1010.75,1121.99 1011.20,1119.41 1011.65,1121.69 1012.10,1121.94 1012.55,1120.95 1013.00,1125.65 1013.45,1118.29 1013.90,1121.47 1014.35,1122.31 1014.80,1116.11 1015.25,1124.40 1015.70,1118.27 1016.15,1122.37 1016.60,1120.66 1017.05,1124.04 1017.50,1119.15 1017.95,1115.59 1018.40,1121.49 1018.85,1117.35 1019.30,1118.64 1019.75,1125.93 1020.20,1122.92 1020.65,1121.40 1021.10,1118.26 1021.55,1118.01 1022.00,1117.75 1022.45,1117.01 1022.90,1117.99 1023.35,1121.09 1023.80,1118.92 1024.25,1116.87 1024.70,1116.98 1025.15,1115.99 1025.60,1120.68 1026.05,1114.38 1026.50,1118.52 1026.95,1115.36 1027.40,1116.14 1027.85,1115.82 1028.30,1120.00 1028.75,1117.97 1029.20,1121.09 1029.65,1115.64 1030.10,1114.01 1030.55,1117.75 1031.00,1116.57 1031.45,1113.70 1031.90,1109.37 1032.35,1114.20 1032.80,1110.69 1033.25,1108.05 1033.70,1103.72 1034.15,1098.94 1034.60,1097.59 1035.05,1095.46 1035.50,1091.55 1035.95,1090.98 1036.40,1084.88 1036.85,1083.23 1037.30,1084.87 1037.75,1080.33 1038.20,1083.86 1038.65,1085.25 1039.10,1091.66 1039.55,1090.45 1040.00,1095.64 1040.45,1102.09 1040.90,1102.53 1041.35,1103.39 1041.80,1105.32 1042.25,1109.37 1042.70,1109.80 1043.15,1110.70 1043.60,1114.27 1044.05,1112.19 1044.50,1119.36 1044.95,1115.56 1045.40,1122.23 1045.85,1118.04 1046.30,1119.72 1046.75,1121.14 1047.20,1120.46 1047.65,1121.77 1048.10,1118.58 1048.55,1116.02 1049.00,1119.93 1049.45,1117.57 1049.90,1119.89 1050.35,1125.59 1050.80,1120.52 1051.25,1120.31 1051.70,1119.11 1052.15,1122.08 1052.60,1120.91 1053.05,1118.11 1053.50,1122.17 1053.95,1119.71 1054.40,1122.78 1054.85,1121.75 1055.30,1124.24 1055.75,1123.30 1056.20,1122.64 1056.65,1122.35 1057.10,1123.39 1057.55,1125.36 1058.00,1124.66 1058.45,1122.64 1058.90,1122.89 1059.35,1125.14 1059.80,1119.18 1060.25,1123.24 1060.70,1120.30 1061.15,1124.50 1061.60,1121.40 1062.05,1122.64 1062.50,1120.51 1062.95,1122.94 1063.40,1129.08 1063.85,1125.84 1064.30,1125.74 1064.75,1121.82 1065.20,1130.14 1065.65,1124.28 1066.10,1122.48 1066.55,1123.68 1067.00,1117.26 1067.45,1125.40 1067.90,1122.82 1068.35,1119.96 1068.80,1125.21 1069.25,1122.02 1069.70,1121.49 1070.15,1124.53 1070.60,1124.40 1071.05,1122.61 1071.50,1123.48 1071.95,1121.05 1072.40,1118.26 1072.85,1125.21 1073.30,1126.00 1073.75,1124.35 1074.20,1122.30 1074.65,1123.16 1075.10,1123.66 1075.55,1121.51 1076.00,1126.85 1076.45,1122.26 1076.90,1124.01 1077.35,1123.18 1077.80,1120.44 1078.25,1126.87 1078.70,1125.99 1079.15,1122.05 1079.60,1123.55 1080.05,1121.38 1080.50,1123.23 1080.95,1121.41 1081.40,1124.23 1081.85,1123.33 1082.30,1120.81 1082.75,1125.66 1083.20,1124.44 1083.65,1122.13 1084.10,1127.75 1084.55,1125.20 1085.00,1123.39 1085.45,1122.54 1085.90,1126.17 1086.35,1124.63 1086.80,1126.37 1087.25,1124.60 1087.70,1124.97 1088.15,1126.16 1088.60,1123.20 1089.05,1121.79 1089.50,1125.95 1089.95,1125.03 1090.40,1125.79 1090.85,1126.81 1091.30,1125.58 1091.75,1127.89 1092.20,1125.40 1092.65,1123.59 1093.10,1124.73 1093.55,1126.75 1094.00,1125.36 1094.45,1125.69 1094.90,1124.15 1095.35,1123.89 1095.80,1124.95 1096.25,1126.39 1096.70,1124.26 1097.15,1126.07 1097.60,1128.31 1098.05,1128.76 1098.50,1124.63 1098.95,1126.69 1099.40,1126.10 1099.85,1126.26 1100.30,1126.22 1100.75,1125.40 1101.20,1126.13 1101.65,1122.40 1102.10,1124.47 1102.55,1125.13 1103.00,1125.87 1103.45,1127.63 1103.90,1126.04 1104.35,1126.48 1104.80,1127.59 1105.25,1122.83 1105.70,1123.72 1106.15,1125.34 1106.60,1124.70 1107.05,1123.89 1107.50,1126.84 1107.95,1124.57 1108.40,1123.08 1108.85,1128.51 1109.30,1122.52 1109.75,1125.02 1110.20,1123.93 1110.65,1125.21 1111.10,1121.99 1111.55,1123.36 1112.00,1130.69 1112.45,1124.67 1112.90,1123.56 1113.35,1127.95 1113.80,1126.16 1114.25,1121.42 1114.70,1124.38 1115.15,1124.59 1115.60,1125.79 1116.05,1125.09 1116.50,1134.82 1116.95,1121.32 1117.40,1121.98 1117.85,1125.35 1118.30,1122.18 1118.75,1125.59 1119.20,1120.49 1119.65,1127.08 1120.10,1126.72 1120.55,1128.54 1121.00,1131.39 1121.45,1127.98 1121.90,1126.44 1122.35,1127.87 1122.80,1126.93 1123.25,1124.88 1123.70,1129.13 1124.15,1123.00 1124.60,1125.86 1125.05,1120.23 1125.50,1124.90 1125.95,1122.20 1126.40,1122.27 1126.85,1125.63 1127.30,1124.52 1127.75,1125.32 1128.20,1120.85 1128.65,1126.36 1129.10,1126.11 1129.55,1121.57 1130.00,1127.00 1130.45,1126.72 1130.90,1126.09 1131.35,1123.00 1131.80,1127.03 1132.25,1123.51 1132.70,1126.37 1133.15,1124.61 1133.60,1124.36 1134.05,1129.06 1134.50,1121.60 1134.95,1129.13 1135.40,1126.16 1135.85,1127.58 1136.30,1121.73 1136.75,1128.21 1137.20,1133.26 1137.65,1128.77 1138.10,1122.04 1138.55,1129.86 1139.00,1125.86 1139.45,1129.03 1139.90,1129.92 1140.35,1127.82 1140.80,1128.38 1141.25,1126.87 1141.70,1128.56 1142.15,1127.00 1142.60,1131.53 1143.05,1129.45 1143.50,1128.00 1143.95,1132.75 1144.40,1132.48 1144.85,1131.10 1145.30,1129.22 1145.75,1128.77 1146.20,1128.91 1146.65,1127.65 1147.10,1132.18 1147.55,1128.77 1148.00,1125.27 1148.45,1126.54 1148.90,1122.36 1149.35,1128.49 1149.80,1128.59 1150.25,1130.88 1150.70,1131.37 1151.15,1132.38 1151.60,1128.12 1152.05,1129.04 1152.50,1129.06 1152.95,1126.37 1153.40,1128.96 1153.85,1128.66 1154.30,1130.26 1154.75,1127.49 1155.20,1127.42 1155.65,1126.75 1156.10,1126.90 1156.55,1126.06 1157.00,1124.51 1157.45,1127.75 1157.90,1127.86 1158.35,1129.59 1158.80,1129.05 1159.25,1128.62 1159.70,1125.47 1160.15,1129.47 1160.60,1130.36 1161.05,1125.59 1161.50,1125.16 1161.95,1126.41 1162.40,1126.43 1162.85,1127.74 1163.30,1128.06 1163.75,1129.04 1164.20,1126.26 1164.65,1127.97 1165.10,1126.83 1165.55,1125.83 1166.00,1129.72 1166.45,1127.98 1166.90,1124.34 1167.35,1127.30 1167.80,1128.96 1168.25,1128.64 1168.70,1126.95 1169.15,1124.39 1169.60,1129.43 1170.05,1123.48 1170.50,1119.53 1170.95,1112.33 1171.40,1110.80 1171.85,1106.69 1172.30,1099.71 1172.75,1097.99 1173.20,1097.73 1173.65,1097.79 1174.10,1101.22 1174.55,1111.39 1175.00,1113.93 1175.45,1117.73 1175.90,1119.78 1176.35,1118.46 1176.80,1122.42 1177.25,1126.19 1177.70,1129.52 1178.15,1123.62 1178.60,1126.51 1179.05,1131.82 1179.50,1129.51 1179.95,1129.14 1180.40,1131.10 1180.85,1128.10 1181.30,1129.18 1181.75,1130.55 1182.20,1131.81 1182.65,1127.24 1183.10,1132.04 1183.55,1125.91 1184.00,1128.06 1184.45,1135.43 1184.90,1129.00 1185.35,1130.84 1185.80,1127.85 1186.25,1129.23 1186.70,1128.00 1187.15,1128.85 1187.60,1131.58 1188.05,1137.22 1188.50,1131.98 1188.95,1133.40 1189.40,1129.78 1189.85,1136.95 1190.30,1131.78 1190.75,1132.99 1191.20,1129.72 1191.65,1130.24 1192.10,1132.86 1192.55,1131.15 1193.00,1132.35 1193.45,1129.72 1193.90,1130.73 1194.35,1132.26 1194.80,1132.83 1195.25,1133.06 1195.70,1130.96 1196.15,1131.84 1196.60,1129.06 1197.05,1132.68 1197.50,1130.88 1197.95,1132.16 1198.40,1126.14 1198.85,1127.43 1199.30,1128.61 1199.75,1129.56 1200.20,1128.42 1200.65,1131.38 1201.10,1128.64 1201.55,1130.24 1202.00,1127.16 1202.45,1133.73 1202.90,1130.71 1203.35,1132.72 1203.80,1130.45 1204.25,1131.43 1204.70,1129.44 1205.15,1131.73 1205.60,1132.79 1206.05,1130.57 1206.50,1134.52 1206.95,1127.41 1207.40,1130.32 1207.85,1133.15 1208.30,1132.16 1208.75,1130.70 1209.20,1128.18 1209.65,1133.92 1210.10,1125.85 1210.55,1132.69 1211.00,1132.19 1211.45,1133.72 1211.90,1134.43 1212.35,1130.10 1212.80,1130.08 1213.25,1130.92 1213.70,1133.13 1214.15,1132.40 1214.60,1130.19 1215.05,1131.43 1215.50,1128.85 1215.95,1131.20 1216.40,1130.06 1216.85,1131.00 1217.30,1129.04 1217.75,1131.45 1218.20,1129.86 1218.65,1126.51 1219.10,1132.96 1219.55,1131.02 1220.00,1129.80 1220.45,1136.03 1220.90,1130.84 1221.35,1127.84 1221.80,1129.77 1222.25,1131.58 1222.70,1130.07 1223.15,1133.38 1223.60,1132.96 1224.05,1129.05 1224.50,1130.83 1224.95,1131.75 1225.40,1129.96 1225.85,1129.72 1226.30,1132.11 1226.75,1130.97 1227.20,1127.29 1227.65,1128.67 1228.10,1129.01 1228.55,1129.57 1229.00,1128.23 1229.45,1132.11 1229.90,1127.69 1230.35,1127.23 1230.80,1129.64 1231.25,1124.90 1231.70,1127.55 1232.15,1130.73 1232.60,1122.56 1233.05,1127.82 1233.50,1131.23 1233.95,1130.25 1234.40,1129.10 1234.85,1129.32 1235.30,1127.86 1235.75,1129.66 1236.20,1129.06 1236.65,1134.25 1237.10,1131.19 1237.55,1128.84 1238.00,1129.69 1238.45,1129.70 1238.90,1128.67 1239.35,1126.56 1239.80,1128.53 1240.25,1118.74 1240.70,1110.89 1241.15,1120.26 1241.60,1126.63 1242.05,1125.27 1242.50,1131.82 1242.95,1128.92 1243.40,1133.09 1243.85,1131.73 1244.30,1130.32 1244.75,1132.02 1245.20,1132.24 1245.65,1131.27 1246.10,1135.47 1246.55,1130.66 1247.00,1133.63 1247.45,1130.54 1247.90,1127.81 1248.35,1129.35 1248.80,1131.55 1249.25,1132.90 1249.70,1135.16 1250.15,1132.19 1250.60,1131.78 1251.05,1129.84 1251.50,1132.17 1251.95,1132.22 1252.40,1128.04 1252.85,1134.62 1253.30,1134.42 1253.75,1141.95 1254.20,1130.12 1254.65,1131.95 1255.10,1131.37 1255.55,1128.44 1256.00,1129.29 1256.45,1133.49 1256.90,1132.11 1257.35,1132.01 1257.80,1133.47 1258.25,1129.99 1258.70,1128.25 1259.15,1131.61 1259.60,1131.71 1260.05,1132.22 1260.50,1133.21 1260.95,1129.38 1261.40,1131.93 1261.85,1125.76 1262.30,1132.23 1262.75,1131.84 1263.20,1130.76 1263.65,1131.24 1264.10,1127.45 1264.55,1128.45 1265.00,1129.82 1265.45,1127.36 1265.90,1127.78 1266.35,1133.78 1266.80,1130.38 1267.25,1125.65 1267.70,1124.37 1268.15,1125.98 1268.60,1117.98 1269.05,1121.66 1269.50,1122.12 1269.95,1118.38 1270.40,1119.77 1270.85,1116.33 1271.30,1117.63 1271.75,1116.90 1272.20,1115.64 1272.65,1113.77 1273.10,1110.69 1273.55,1110.09 1274.00,1103.79 1274.45,1099.55 1274.90,1096.33 1275.35,1093.09 1275.80,1081.54 1276.25,1086.42 1276.70,1087.83 1277.15,1092.70 1277.60,1094.00 1278.05,1098.51 1278.50,1109.49 1278.95,1110.16 1279.40,1112.01 1279.85,1114.59 1280.30,1124.87 1280.75,1119.53 1281.20,1125.61 1281.65,1126.22 1282.10,1129.42 1282.55,1122.80 1283.00,1130.46 1283.45,1126.06 1283.90,1129.88 1284.35,1134.42 1284.80,1132.00 1285.25,1125.75 1285.70,1132.02 1286.15,1131.74 1286.60,1130.79 1287.05,1133.78 1287.50,1131.07 1287.95,1130.41 1288.40,1134.19 1288.85,1132.72 1289.30,1134.00 1289.75,1131.96 1290.20,1129.41 1290.65,1131.93 1291.10,1136.23 1291.55,1130.00 1292.00,1133.03 1292.45,1131.24 1292.90,1131.41 1293.35,1133.57 1293.80,1135.02 1294.25,1134.78 1294.70,1134.54 1295.15,1135.52 1295.60,1130.66 1296.05,1135.30 1296.50,1134.35 1296.95,1133.78 1297.40,1134.07 1297.85,1132.77 1298.30,1138.25 1298.75,1141.35 1299.20,1135.36 1299.65,1133.92 1300.10,1132.93 1300.55,1133.91 1301.00,1139.12 1301.45,1134.08 1301.90,1134.57 1302.35,1138.42 1302.80,1131.77 1303.25,1135.11 1303.70,1136.55 1304.15,1139.47 1304.60,1137.97 1305.05,1132.75 1305.50,1135.79 1305.95,1131.10 1306.40,1133.58 1306.85,1132.90 1307.30,1131.37 1307.75,1134.98 1308.20,1135.62 1308.65,1132.30 1309.10,1135.80 1309.55,1133.79 1310.00,1132.77 1310.45,1129.74 1310.90,1134.65 1311.35,1135.90 1311.80,1133.76 1312.25,1133.73 1312.70,1132.08 1313.15,1135.57 1313.60,1132.35 1314.05,1135.42 1314.50,1134.86 1314.95,1132.79 1315.40,1131.71 1315.85,1135.52 1316.30,1129.80 1316.75,1134.75 1317.20,1135.81 1317.65,1131.68 1318.10,1136.04 1318.55,1133.20 1319.00,1135.90 1319.45,1133.46 1319.90,1133.86 1320.35,1135.29 1320.80,1137.88 1321.25,1135.94 1321.70,1135.55 1322.15,1132.22 1322.60,1135.68 1323.05,1134.30 1323.50,1135.32 1323.95,1135.96 1324.40,1137.45 1324.85,1136.60 1325.30,1136.15 1325.75,1135.60 1326.20,1140.70 1326.65,1134.12 1327.10,1136.13 1327.55,1138.47 1328.00,1134.01 1328.45,1137.10 1328.90,1137.33 1329.35,1135.95 1329.80,1137.94 1330.25,1132.61 1330.70,1135.78 1331.15,1136.03 1331.60,1137.28 1332.05,1136.52 1332.50,1139.00 1332.95,1140.59 1333.40,1132.77 1333.85,1133.99 1334.30,1130.98 1334.75,1138.12 1335.20,1134.49 1335.65,1134.19 1336.10,1131.53 1336.55,1133.42 1337.00,1134.89 1337.45,1133.19 1337.90,1132.51 1338.35,1136.58 1338.80,1137.56 1339.25,1132.40 1339.70,1130.51 1340.15,1131.85 1340.60,1131.57 1341.05,1131.67 1341.50,1131.64 1341.95,1129.19 1342.40,1132.32 1342.85,1131.42 1343.30,1123.47 1343.75,1132.69 1344.20,1132.41 1344.65,1123.43 1345.10,1124.30 1345.55,1124.91 1346.00,1123.39 1346.45,1121.28 1346.90,1111.72 1347.35,1110.41 1347.80,1108.66 1348.25,1107.54 1348.70,1101.03 1349.15,1100.43 1349.60,1097.13 1350.05,1095.17 1350.50,1089.51 1350.95,1091.40 1351.40,1091.54 1351.85,1091.93 1352.30,1097.05 1352.75,1096.31 1353.20,1102.34 1353.65,1101.53 1354.10,1109.40 1354.55,1112.89 1355.00,1111.28 1355.45,1116.54 1355.90,1118.99 1356.35,1119.14 1356.80,1124.76 1357.25,1126.06 1357.70,1125.40 1358.15,1128.74 1358.60,1130.99 1359.05,1129.55 1359.50,1129.23 1359.95,1134.82 1360.40,1130.39 1360.85,1133.84 1361.30,1135.69 1361.75,1135.76 1362.20,1131.27 1362.65,1138.51 1363.10,1134.77 1363.55,1135.14 1364.00,1131.49 1364.45,1137.12 1364.90,1136.06 1365.35,1136.58 1365.80,1137.79 1366.25,1138.40 1366.70,1132.03 1367.15,1140.40 1367.60,1135.44 1368.05,1138.21 1368.50,1139.02 1368.95,1135.94 1369.40,1134.47 1369.85,1139.08 1370.30,1139.34 1370.75,1137.63 1371.20,1137.06 1371.65,1138.34 1372.10,1135.87 1372.55,1133.05 1373.00,1133.89 1373.45,1139.98 1373.90,1137.52 1374.35,1134.90 1374.80,1137.34 1375.25,1137.75 1375.70,1139.24 1376.15,1135.64 1376.60,1137.55 1377.05,1141.04 1377.50,1136.32 1377.95,1136.62 1378.40,1138.21 1378.85,1135.83 1379.30,1136.81 1379.75,1135.99 1380.20,1135.44 1380.65,1135.65 1381.10,1136.23 1381.55,1134.82 1382.00,1136.14 1382.45,1136.49 1382.90,1137.00 1383.35,1137.67 1383.80,1139.68 1384.25,1134.18 1384.70,1135.95 1385.15,1132.96 1385.60,1138.63 1386.05,1137.71 1386.50,1135.57 1386.95,1135.11 1387.40,1135.19 1387.85,1134.06 1388.30,1138.09 1388.75,1140.81 1389.20,1134.65 1389.65,1139.95 1390.10,1136.85 1390.55,1134.47 1391.00,1138.07 1391.45,1138.93 1391.90,1138.55 1392.35,1137.23 1392.80,1140.65 1393.25,1136.98 1393.70,1146.35 1394.15,1138.92 1394.60,1132.31 1395.05,1134.10 1395.50,1133.09 1395.95,1136.48 1396.40,1137.85 1396.85,1133.80 1397.30,1135.73 1397.75,1140.06 1398.20,1136.77 1398.65,1136.24 1399.10,1137.68 1399.55,1139.15 1400.00,1134.31 1400.45,1138.25 1400.90,1134.82 1401.35,1139.88 1401.80,1135.61 1402.25,1138.11 1402.70,1130.43 1403.15,1135.75 1403.60,1133.73 1404.05,1137.69 1404.50,1138.33 1404.95,1137.56 1405.40,1140.47 1405.85,1137.99 1406.30,1139.08 1406.75,1139.19 1407.20,1142.00 1407.65,1137.14 1408.10,1138.02 1408.55,1138.06 1409.00,1139.98 1409.45,1136.96 1409.90,1140.41 1410.35,1139.87 1410.80,1138.18 1411.25,1139.07 1411.70,1139.60 1412.15,1134.24 1412.60,1141.17 1413.05,1137.33 1413.50,1137.99 1413.95,1139.26 1414.40,1138.27 1414.85,1136.14 1415.30,1134.78 1415.75,1141.47 1416.20,1140.01 1416.65,1140.46 1417.10,1137.00 1417.55,1137.48 1418.00,1140.09 1418.45,1140.54 1418.90,1137.57 1419.35,1134.13 1419.80,1134.02 1420.25,1139.80 1420.70,1133.53 1421.15,1137.10 1421.60,1138.20 1422.05,1142.84 1422.50,1136.79 1422.95,1136.21 1423.40,1137.33 1423.85,1137.73 1424.30,1139.53 1424.75,1138.01 1425.20,1135.17 1425.65,1132.83 1426.10,1137.40 1426.55,1135.33 1427.00,1139.30 1427.45,1134.52 1427.90,1137.75 1428.35,1136.78 1428.80,1135.46 1429.25,1140.39 1429.70,1137.68 1430.15,1137.01 1430.60,1138.53 1431.05,1135.58 1431.50,1136.66 1431.95,1136.14 1432.40,1141.32 1432.85,1137.97 1433.30,1138.74 1433.75,1139.85 1434.20,1137.70 1434.65,1137.84 1435.10,1134.84 1435.55,1138.55 1436.00,1138.21 1436.45,1139.44 1436.90,1140.00 1437.35,1146.39 1437.80,1138.84 1438.25,1135.39 1438.70,1135.80 1439.15,1137.53 1439.60,1140.64 1440.05,1135.86 1440.50,1136.06 1440.95,1135.84 1441.40,1142.30 1441.85,1139.74 1442.30,1139.19 1442.75,1142.38 1443.20,1138.69 1443.65,1134.20 1444.10,1137.31 1444.55,1135.74 1445.00,1142.01 1445.45,1134.90 1445.90,1138.37 1446.35,1136.81 1446.80,1137.11 1447.25,1137.85 1447.70,1137.13 1448.15,1135.99 1448.60,1134.84 1449.05,1135.91 1449.50,1143.86 1449.95,1135.21 1450.40,1137.19 1450.85,1137.01 1451.30,1138.49 1451.75,1137.11 1452.20,1140.91 1452.65,1135.89 1453.10,1134.94 1453.55,1139.24 1454.00,1135.45 1454.45,1137.33 1454.90,1138.58 1455.35,1136.25 1455.80,1135.58 1456.25,1138.10 1456.70,1136.90 1457.15,1134.78 1457.60,1133.03 1458.05,1134.31 1458.50,1133.81 1458.95,1133.11 1459.40,1132.39 1459.85,1134.45 1460.30,1138.03 1460.75,1133.29 1461.20,1128.31 1461.65,1124.52 1462.10,1120.69 1462.55,1119.17 1463.00,1118.38 1463.45,1113.93 1463.90,1118.27 1464.35,1118.96 1464.80,1121.34 1465.25,1127.42 1465.70,1126.72 1466.15,1131.18 1466.60,1132.21 1467.05,1133.21 1467.50,1136.62 1467.95,1129.42 1468.40,1134.37 1468.85,1132.79 1469.30,1132.96 1469.75,1130.56 1470.20,1126.10 1470.65,1127.90 1471.10,1130.81 1471.55,1128.53 1472.00,1125.39 1472.45,1125.18 1472.90,1122.92 1473.35,1126.50 1473.80,1120.95 1474.25,1119.35 1474.70,1114.26 1475.15,1112.23 1475.60,1108.56 1476.05,1108.16 1476.50,1105.83 1476.95,1106.28 1477.40,1104.49 1477.85,1100.13 1478.30,1098.84 1478.75,1098.44 1479.20,1098.69 1479.65,1105.13 1480.10,1101.47 1480.55,1106.22 1481.00,1105.04 1481.45,1109.03 1481.90,1114.90 1482.35,1117.54 1482.80,1117.15 1483.25,1120.37 1483.70,1121.31 1484.15,1123.30 1484.60,1124.47 1485.05,1128.46 1485.50,1130.73 1485.95,1129.39 1486.40,1127.90 1486.85,1127.58 1487.30,1130.49 1487.75,1130.01 1488.20,1127.58 1488.65,1134.27 1489.10,1131.95 1489.55,1131.68 1490.00,1131.02 1490.45,1131.04 1490.90,1134.31 1491.35,1128.00 1491.80,1133.57 1492.25,1134.99 1492.70,1143.57 1493.15,1131.38 1493.60,1134.23 1494.05,1133.47 1494.50,1135.75 1494.95,1135.68 1495.40,1132.04 1495.85,1133.37 1496.30,1130.86 1496.75,1125.81 1497.20,1124.88 1497.65,1126.44 1498.10,1125.51 1498.55,1122.57 1499.00,1120.09 1499.45,1119.72 1499.90,1124.02 1500.35,1125.97 1500.80,1125.14 1501.25,1131.98 1501.70,1131.56 1502.15,1135.82 1502.60,1136.59 1503.05,1137.71 1503.50,1136.52 1503.95,1138.88 1504.40,1135.76 1504.85,1135.82 1505.30,1140.09 1505.75,1139.04 1506.20,1135.30 1506.65,1134.87 1507.10,1140.67 1507.55,1142.94 1508.00,1139.98 1508.45,1138.16 1508.90,1138.94 1509.35,1132.79 1509.80,1135.94 1510.25,1144.73 1510.70,1139.56 1511.15,1134.00 1511.60,1140.45 1512.05,1131.95 1512.50,1139.56 1512.95,1137.19 1513.40,1138.45 1513.85,1135.60 1514.30,1138.60 1514.75,1139.47 1515.20,1137.46 1515.65,1138.28 1516.10,1139.79 1516.55,1139.63 1517.00,1139.31 1517.45,1132.64 1517.90,1138.63 1518.35,1139.61 1518.80,1136.78 1519.25,1133.90 1519.70,1137.90 1520.15,1130.58 1520.60,1138.27 1521.05,1141.72 1521.50,1139.71 1521.95,1141.91 1522.40,1141.02 1522.85,1141.81 1523.30,1139.95 1523.75,1141.23 1524.20,1144.03 1524.65,1142.65 1525.10,1140.59 1525.55,1138.54 1526.00,1137.85 1526.45,1137.30 1526.90,1141.40 1527.35,1136.81 1527.80,1141.08 1528.25,1144.27 1528.70,1141.99 1529.15,1139.91 1529.60,1145.42 1530.05,1142.88 1530.50,1138.45 1530.95,1139.81 1531.40,1142.57 1531.85,1142.12 1532.30,1141.69 1532.75,1139.75 1533.20,1141.17 1533.65,1140.43 1534.10,1139.16 1534.55,1142.12 1535.00,1135.61 1535.45,1139.61 1535.90,1143.76 1536.35,1139.73 1536.80,1138.86 1537.25,1143.38 1537.70,1143.36 1538.15,1141.01 1538.60,1140.20 1539.05,1140.77 1539.50,1140.43 1539.95,1140.79 1540.40,1139.84 1540.85,1142.64 1541.30,1140.42 1541.75,1138.16 1542.20,1139.02 1542.65,1141.98 1543.10,1138.37 1543.55,1136.82 1544.00,1144.48 1544.45,1142.19 1544.90,1140.51 1545.35,1135.12 1545.80,1142.47 1546.25,1144.02 1546.70,1139.85 1547.15,1141.80 1547.60,1139.88 1548.05,1138.46 1548.50,1138.74 1548.95,1137.12 1549.40,1140.66 1549.85,1140.20 1550.30,1141.49 1550.75,1139.89 1551.20,1141.53 1551.65,1138.75 1552.10,1141.14 1552.55,1136.84 1553.00,1139.97 1553.45,1136.60 1553.90,1136.75 1554.35,1138.60 1554.80,1133.55 1555.25,1135.56 1555.70,1141.90 1556.15,1140.29 1556.60,1138.64 1557.05,1140.84 1557.50,1143.43 1557.95,1139.64 1558.40,1140.18 1558.85,1138.69 1559.30,1140.47 1559.75,1143.26 1560.20,1141.91 1560.65,1141.06 1561.10,1142.02 1561.55,1141.50 1562.00,1141.74 1562.45,1141.08 1562.90,1139.62 1563.35,1142.53 1563.80,1136.60 1564.25,1143.25 1564.70,1145.87 1565.15,1144.81 1565.60,1146.28 1566.05,1139.39 1566.50,1141.85 1566.95,1140.02 1567.40,1140.05 1567.85,1138.27 1568.30,1139.24 1568.75,1143.11 1569.20,1143.24 1569.65,1144.75 1570.10,1144.11 1570.55,1143.41 1571.00,1140.39 1571.45,1141.80 1571.90,1142.26 1572.35,1144.70 1572.80,1141.62 1573.25,1141.43 1573.70,1141.26 1574.15,1145.61 1574.60,1143.88 1575.05,1141.89 1575.50,1141.15 1575.95,1143.46 1576.40,1139.39 1576.85,1142.47 1577.30,1142.00 1577.75,1142.32 1578.20,1143.70 1578.65,1144.11 1579.10,1149.11 1579.55,1143.91 1580.00,1145.17 1580.45,1142.70 1580.90,1140.36 1581.35,1145.82 1581.80,1147.82 1582.25,1141.95 1582.70,1144.06 1583.15,1146.62 1583.60,1144.83 1584.05,1139.73 1584.50,1145.33 1584.95,1144.20 1585.40,1144.44 1585.85,1142.52 1586.30,1146.69 1586.75,1146.88 1587.20,1143.36 1587.65,1145.76 1588.10,1143.64 1588.55,1143.68 1589.00,1142.77 1589.45,1143.44 1589.90,1142.88 1590.35,1146.71 1590.80,1143.77 1591.25,1141.94 1591.70,1147.01 1592.15,1145.42 1592.60,1146.38 1593.05,1142.56 1593.50,1145.65 1593.95,1143.87 1594.40,1141.88 1594.85,1143.85 1595.30,1144.16 1595.75,1144.25 1596.20,1145.59 1596.65,1140.67 1597.10,1144.13 1597.55,1141.91 1598.00,1143.37 1598.45,1144.68 1598.90,1143.99 1599.35,1146.23 1599.80,1145.56 1600.25,1144.27 1600.70,1144.19 1601.15,1148.26 1601.60,1144.23 1602.05,1143.08 1602.50,1145.29 1602.95,1146.63 1603.40,1145.68 1603.85,1142.82 1604.30,1141.86 1604.75,1143.26 1605.20,1143.39 1605.65,1146.36 1606.10,1145.33 1606.55,1146.77 1607.00,1144.74 1607.45,1149.61 1607.90,1145.28 1608.35,1146.62 1608.80,1144.62 1609.25,1146.39 1609.70,1148.03 1610.15,1147.29 1610.60,1148.51 1611.05,1144.97 1611.50,1146.95 1611.95,1149.66 1612.40,1146.50 1612.85,1145.75 1613.30,1145.22 1613.75,1144.88 1614.20,1146.23 1614.65,1148.72 1615.10,1146.85 1615.55,1145.82 1616.00,1144.68 1616.45,1143.86 1616.90,1150.81 1617.35,1145.48 1617.80,1146.41 1618.25,1145.48 1618.70,1146.72 1619.15,1145.13 1619.60,1146.31 1620.05,1146.97 1620.50,1151.42 1620.95,1147.18 1621.40,1146.20 1621.85,1147.43 1622.30,1144.74 1622.75,1146.90 1623.20,1144.09 1623.65,1143.53 1624.10,1150.04 1624.55,1144.48 1625.00,1136.56 1625.45,1145.47 1625.90,1152.29 1626.35,1144.89 1626.80,1147.00 1627.25,1150.06 1627.70,1141.34 1628.15,1144.30 1628.60,1146.42 1629.05,1147.15 1629.50,1145.51 1629.95,1145.98 1630.40,1146.58 1630.85,1143.94 1631.30,1142.58 1631.75,1146.59 1632.20,1149.51 1632.65,1143.52 1633.10,1144.34 1633.55,1146.01 1634.00,1144.49 1634.45,1144.76 1634.90,1146.16 1635.35,1144.53 1635.80,1145.02 1636.25,1146.22 1636.70,1142.20 1637.15,1146.27 1637.60,1140.55 1638.05,1148.21 1638.50,1146.90 1638.95,1143.94 1639.40,1147.08 1639.85,1145.85 1640.30,1146.19 1640.75,1146.67 1641.20,1146.01 1641.65,1145.50 1642.10,1147.07 1642.55,1145.55 1643.00,1145.10 1643.45,1144.12 1643.90,1142.65 1644.35,1149.06 1644.80,1147.62 1645.25,1144.01 1645.70,1145.67 1646.15,1147.43 1646.60,1142.92 1647.05,1145.63 1647.50,1147.16 1647.95,1150.77 1648.40,1149.87 1648.85,1145.63 1649.30,1148.83 1649.75,1149.92 1650.20,1145.75 1650.65,1144.82 1651.10,1149.55 1651.55,1145.50 1652.00,1148.79 1652.45,1151.27 1652.90,1152.29 1653.35,1151.40 1653.80,1147.85 1654.25,1149.53 1654.70,1148.51 1655.15,1151.51 1655.60,1148.01 1656.05,1148.13 1656.50,1146.23 1656.95,1149.69 1657.40,1149.90 1657.85,1148.21 1658.30,1147.64 1658.75,1146.68 1659.20,1151.67 1659.65,1146.64 1660.10,1149.06 1660.55,1149.56 1661.00,1150.24 1661.45,1152.07 1661.90,1151.01 1662.35,1149.86 1662.80,1152.13 1663.25,1151.45 1663.70,1149.72 1664.15,1148.85 1664.60,1145.77 1665.05,1147.76 1665.50,1145.61 1665.95,1145.06 1666.40,1146.92 1666.85,1143.90 1667.30,1145.27 1667.75,1146.02 1668.20,1147.90 1668.65,1146.57 1669.10,1147.96 1669.55,1150.55 1670.00,1149.00 1670.45,1144.95 1670.90,1143.56 1671.35,1145.36 1671.80,1145.55 1672.25,1143.01 1672.70,1143.25 1673.15,1143.07 1673.60,1144.77 1674.05,1148.40 1674.50,1148.25 1674.95,1149.37 1675.40,1143.20 1675.85,1137.99 1676.30,1142.98 1676.75,1141.79 1677.20,1141.36 1677.65,1139.65 1678.10,1142.30 1678.55,1140.84 1679.00,1144.23 1679.45,1141.87 1679.90,1145.15 1680.35,1144.04 1680.80,1145.34 1681.25,1146.86 1681.70,1144.22 1682.15,1145.88 1682.60,1147.65 1683.05,1147.53 1683.50,1149.23 1683.95,1147.56 1684.40,1147.09 1684.85,1149.73 1685.30,1150.46 1685.75,1148.67 1686.20,1152.84 1686.65,1151.73 1687.10,1152.44 1687.55,1152.73 1688.00,1149.82 1688.45,1158.14 1688.90,1149.99 1689.35,1152.03 1689.80,1152.68 1690.25,1151.53 1690.70,1151.50 1691.15,1149.80 1691.60,1147.33 1692.05,1151.50 1692.50,1153.87 1692.95,1149.83 1693.40,1152.42 1693.85,1151.82 1694.30,1151.07 1694.75,1149.94 1695.20,1150.94 1695.65,1140.66 1696.10,1151.09 1696.55,1151.87 1697.00,1150.11 1697.45,1152.07 1697.90,1151.80 1698.35,1149.37 1698.80,1151.84 1699.25,1149.00 1699.70,1154.69 1700.15,1143.17 1700.60,1148.47 1701.05,1148.90 1701.50,1150.90 1701.95,1152.49 1702.40,1150.36 1702.85,1149.40 1703.30,1159.29 1703.75,1152.24 1704.20,1150.18 1704.65,1149.53 1705.10,1147.85 1705.55,1152.29 1706.00,1153.85 1706.45,1147.84 1706.90,1147.65 1707.35,1150.58 1707.80,1145.47 1708.25,1152.56 1708.70,1147.43 1709.15,1148.66 1709.60,1150.10 1710.05,1153.03 1710.50,1149.66 1710.95,1147.29 1711.40,1147.87 1711.85,1151.46 1712.30,1147.03 1712.75,1150.26 1713.20,1149.43 1713.65,1148.42 1714.10,1148.62 1714.55,1146.65 1715.00,1151.94 1715.45,1151.83 1715.90,1151.30 1716.35,1151.63 1716.80,1148.47 1717.25,1149.73 1717.70,1151.26 1718.15,1160.93 1718.60,1153.35 1719.05,1150.02 1719.50,1149.12 1719.95,1152.48 1720.40,1145.59 1720.85,1147.87 1721.30,1153.11 1721.75,1154.47 1722.20,1148.85 1722.65,1150.56 1723.10,1148.29 1723.55,1146.62 1724.00,1150.20 1724.45,1148.79 1724.90,1150.84 1725.35,1149.48 1725.80,1150.93 1726.25,1149.58 1726.70,1147.91 1727.15,1148.16 1727.60,1151.75 1728.05,1148.01 1728.50,1151.94 1728.95,1150.23 1729.40,1139.90 1729.85,1144.17 1730.30,1147.70 1730.75,1146.17 1731.20,1152.60 1731.65,1152.62 1732.10,1145.64 1732.55,1145.85 1733.00,1145.41 1733.45,1147.01 1733.90,1139.93 1734.35,1143.99 1734.80,1145.78 1735.25,1144.28 1735.70,1146.10 1736.15,1147.41 1736.60,1143.28 1737.05,1141.24 1737.50,1145.16 1737.95,1142.53 1738.40,1148.87 1738.85,1144.56 1739.30,1146.00 1739.75,1147.61 1740.20,1147.61 1740.65,1146.85 1741.10,1147.81 1741.55,1149.67 1742.00,1147.79 1742.45,1149.31 1742.90,1150.40 1743.35,1145.14 1743.80,1151.89 1744.25,1146.91 1744.70,1150.99 1745.15,1154.52 1745.60,1152.36 1746.05,1148.15 1746.50,1148.74 1746.95,1150.45 1747.40,1153.36 1747.85,1149.29 1748.30,1152.51 1748.75,1150.57 1749.20,1149.63 1749.65,1149.65 1750.10,1155.69 1750.55,1146.45 1751.00,1146.53 1751.45,1150.44 1751.90,1150.26 1752.35,1145.58 1752.80,1146.05 1753.25,1145.26 1753.70,1147.36 1754.15,1144.25 1754.60,1147.98 1755.05,1146.41 1755.50,1145.22 1755.95,1144.74 1756.40,1145.35 1756.85,1146.00 1757.30,1144.48 1757.75,1145.39 1758.20,1146.77 1758.65,1146.55 1759.10,1148.10 1759.55,1141.85 1760.00,1146.65 1760.45,1149.20 1760.90,1152.15 1761.35,1152.66 1761.80,1147.19 1762.25,1145.09 1762.70,1150.07 1763.15,1150.58 1763.60,1151.12 1764.05,1151.34 1764.50,1151.00 1764.95,1152.01 1765.40,1153.38 1765.85,1150.90 1766.30,1152.71 1766.75,1150.84 1767.20,1150.90 1767.65,1154.32 1768.10,1151.00 1768.55,1153.13 1769.00,1153.51 1769.45,1154.53 1769.90,1153.30 1770.35,1155.37 1770.80,1152.91 1771.25,1153.62 1771.70,1154.38 1772.15,1150.61 1772.60,1153.92 1773.05,1155.94 1773.50,1156.62 1773.95,1152.31 1774.40,1156.41 1774.85,1152.44 1775.30,1154.75 1775.75,1147.93 1776.20,1152.65 1776.65,1151.48 1777.10,1153.21 1777.55,1154.75 1778.00,1152.71 1778.45,1152.72 1778.90,1147.92 1779.35,1155.06 1779.80,1156.10 1780.25,1153.86 1780.70,1156.56 1781.15,1154.39 1781.60,1156.82 1782.05,1155.10 1782.50,1157.60 1782.95,1152.75 1783.40,1151.39 1783.85,1155.06 1784.30,1156.67 1784.75,1153.44 1785.20,1154.21 1785.65,1152.95 1786.10,1152.13 1786.55,1155.02 1787.00,1150.40 1787.45,1154.97 1787.90,1155.45 1788.35,1156.10 1788.80,1153.01 1789.25,1152.86 1789.70,1150.84 1790.15,1150.80 1790.60,1153.46 1791.05,1159.18 1791.50,1151.84 1791.95,1152.91 1792.40,1155.53 1792.85,1152.58 1793.30,1154.93 1793.75,1153.43 1794.20,1153.21 1794.65,1155.35 1795.10,1148.65 1795.55,1150.86 1796.00,1155.31 1796.45,1154.14 1796.90,1153.14 1797.35,1152.67 1797.80,1155.12 1798.25,1152.53 1798.70,1154.28 1799.15,1155.60 1799.60,1153.70 1800.05,1155.70 1800.50,1151.09 1800.95,1151.49 1801.40,1155.14 1801.85,1157.77 1802.30,1153.96 1802.75,1155.84 1803.20,1153.99 1803.65,1152.60 1804.10,1157.64 1804.55,1153.08 1805.00,1155.94 1805.45,1153.21 1805.90,1153.40 1806.35,1156.15 1806.80,1157.23 1807.25,1156.40 1807.70,1157.07 1808.15,1152.12 1808.60,1153.19 1809.05,1154.86 1809.50,1152.91 1809.95,1158.25 1810.40,1152.69 1810.85,1153.90 1811.30,1151.32 1811.75,1155.86 1812.20,1150.84 1812.65,1154.24 1813.10,1156.03 1813.55,1154.16 1814.00,1151.22 1814.45,1154.56 1814.90,1153.37 1815.35,1153.61 1815.80,1157.46 1816.25,1154.51 1816.70,1151.26 1817.15,1152.29 1817.60,1155.37 1818.05,1154.53 1818.50,1152.03 1818.95,1151.52 1819.40,1159.12 1819.85,1154.02 1820.30,1156.60 1820.75,1154.36 1821.20,1156.11 1821.65,1158.06 1822.10,1152.40 1822.55,1154.71 1823.00,1159.43 1823.45,1155.98 1823.90,1157.07 1824.35,1158.72 1824.80,1155.05 1825.25,1160.63 1825.70,1154.22 1826.15,1158.54 1826.60,1156.53 1827.05,1156.93 1827.50,1153.47 1827.95,1159.92 1828.40,1159.58 1828.85,1156.85 1829.30,1160.49 1829.75,1150.83 1830.20,1158.09 1830.65,1154.70 1831.10,1168.47 1831.55,1153.73 1832.00,1155.21 1832.45,1157.24 1832.90,1160.19 1833.35,1160.37 1833.80,1159.26 1834.25,1157.47 1834.70,1161.78 1835.15,1156.73 1835.60,1159.16 1836.05,1162.13 1836.50,1156.08 1836.95,1158.07 1837.40,1160.40 1837.85,1162.60 1838.30,1156.08 1838.75,1158.21 1839.20,1162.17 1839.65,1157.75 1840.10,1159.87 1840.55,1158.71 1841.00,1157.15 1841.45,1162.75 1841.90,1159.74 1842.35,1160.22 1842.80,1157.52 1843.25,1158.06 1843.70,1158.64 1844.15,1158.72 1844.60,1157.41 1845.05,1157.02 1845.50,1160.88 1845.95,1156.24 1846.40,1157.36 1846.85,1157.30 1847.30,1157.16 1847.75,1153.56 1848.20,1156.43 1848.65,1159.30 1849.10,1156.47 1849.55,1155.89 1850.00,1160.58 1850.45,1154.54 1850.90,1159.18 1851.35,1155.50 1851.80,1154.81 1852.25,1156.70 1852.70,1156.48 1853.15,1157.42 1853.60,1159.10 1854.05,1156.54 1854.50,1154.53 1854.95,1153.19 1855.40,1156.17 1855.85,1153.70 1856.30,1156.25 1856.75,1153.64 1857.20,1156.85 1857.65,1157.69 1858.10,1159.88 1858.55,1156.57 1859.00,1155.65 1859.45,1157.76 1859.90,1157.05 1860.35,1158.69 1860.80,1158.37 1861.25,1156.51 1861.70,1153.16 1862.15,1157.14 1862.60,1158.10 1863.05,1154.36 1863.50,1158.37 1863.95,1155.74 1864.40,1155.34 1864.85,1156.25 1865.30,1154.71 1865.75,1152.76 1866.20,1155.40 1866.65,1153.86 1867.10,1155.63 1867.55,1155.02 1868.00,1150.34 1868.45,1153.82 1868.90,1156.45 1869.35,1150.97 1869.80,1154.64 1870.25,1152.66 1870.70,1151.26 1871.15,1157.63 1871.60,1157.43 1872.05,1154.74 1872.50,1154.37 1872.95,1162.84 1873.40,1158.04 1873.85,1155.44 1874.30,1157.33 1874.75,1155.82 1875.20,1150.86 1875.65,1162.70 1876.10,1154.57 1876.55,1156.57 1877.00,1155.10 1877.45,1154.67 1877.90,1154.33 1878.35,1156.38 1878.80,1155.86 1879.25,1156.83 1879.70,1155.14 1880.15,1156.85 1880.60,1154.09 1881.05,1154.06 1881.50,1156.17 1881.95,1158.34 1882.40,1157.80 1882.85,1157.74 1883.30,1158.87 1883.75,1155.97 1884.20,1155.79 1884.65,1157.83 1885.10,1155.83 1885.55,1157.14 1886.00,1157.51 1886.45,1158.92 1886.90,1153.75 1887.35,1158.73 1887.80,1156.19 1888.25,1152.06 1888.70,1155.42 1889.15,1154.36 1889.60,1150.93 1890.05,1157.76 1890.50,1157.83 1890.95,1157.24 1891.40,1157.93 1891.85,1157.40 1892.30,1153.18 1892.75,1156.90 1893.20,1158.64 1893.65,1157.22 1894.10,1158.47 1894.55,1157.96 1895.00,1158.39 1895.45,1157.41 1895.90,1156.52 1896.35,1158.51 1896.80,1159.35 1897.25,1155.28 1897.70,1156.16 1898.15,1155.51 1898.60,1159.44 1899.05,1159.92 1899.50,1159.00 1899.95,1161.13 1900.40,1159.03 1900.85,1156.63 1901.30,1157.19 1901.75,1159.34 1902.20,1157.71 1902.65,1157.24 1903.10,1159.62 1903.55,1157.90 1904.00,1160.21 1904.45,1162.84 1904.90,1156.86 1905.35,1157.45 1905.80,1155.12 1906.25,1157.12 1906.70,1158.66 1907.15,1158.11 1907.60,1158.31 1908.05,1158.79 1908.50,1156.75 1908.95,1154.97 1909.40,1154.81 1909.85,1158.34 1910.30,1159.61 1910.75,1157.87 1911.20,1159.70 1911.65,1156.86 1912.10,1157.59 1912.55,1157.22 1913.00,1158.36 1913.45,1164.37 1913.90,1158.37 1914.35,1152.13 1914.80,1157.48 1915.25,1158.01 1915.70,1158.62 1916.15,1157.88 1916.60,1159.16 1917.05,1156.35 1917.50,1157.90 1917.95,1157.62 1918.40,1161.64 1918.85,1159.73 1919.30,1159.04 1919.75,1160.84 1920.20,1163.34 1920.65,1159.44 1921.10,1159.81 1921.55,1159.81 1922.00,1157.68 1922.45,1158.99 1922.90,1158.81 1923.35,1161.36 1923.80,1160.98 1924.25,1161.74 1924.70,1158.62 1925.15,1161.96 1925.60,1157.84 1926.05,1159.38 1926.50,1160.35 1926.95,1159.19 1927.40,1161.85 1927.85,1163.45 1928.30,1161.74 1928.75,1159.17 1929.20,1155.77 1929.65,1157.57 1930.10,1159.90 1930.55,1157.76 1931.00,1158.14 1931.45,1157.46 1931.90,1156.23 1932.35,1163.96 1932.80,1160.83 1933.25,1155.21 1933.70,1160.26 1934.15,1158.15 1934.60,1155.36 1935.05,1159.43 1935.50,1160.24 1935.95,1161.16 1936.40,1162.25 1936.85,1158.95 1937.30,1160.53 1937.75,1162.22 1938.20,1159.43 1938.65,1161.21 1939.10,1161.65 1939.55,1163.58 1940.00,1158.70 1940.45,1158.86 1940.90,1164.92 1941.35,1162.24 1941.80,1163.71 1942.25,1161.82 1942.70,1160.43 1943.15,1160.23 1943.60,1161.58 1944.05,1155.42 1944.50,1161.67 1944.95,1161.40 1945.40,1163.54 1945.85,1163.45 1946.30,1165.03 1946.75,1160.71 1947.20,1161.78 1947.65,1163.30 1948.10,1161.99 1948.55,1156.48 1949.00,1161.38 1949.45,1161.14 1949.90,1161.31 1950.35,1160.64 1950.80,1159.10 1951.25,1159.23 1951.70,1161.69 1952.15,1161.07 1952.60,1162.97 1953.05,1162.86 1953.50,1159.54 1953.95,1159.53 1954.40,1159.24 1954.85,1162.69 1955.30,1161.05 1955.75,1163.23 1956.20,1156.84 1956.65,1160.72 1957.10,1159.38 1957.55,1161.51 1958.00,1166.18 1958.45,1161.07 1958.90,1161.23 1959.35,1167.45 1959.80,1169.62 1960.25,1163.23 1960.70,1160.99 1961.15,1162.14 1961.60,1163.54 1962.05,1168.94 1962.50,1165.90 1962.95,1168.43 1963.40,1168.75 1963.85,1164.83 1964.30,1163.36 1964.75,1162.15 1965.20,1164.56 1965.65,1165.91 1966.10,1164.54 1966.55,1163.08 1967.00,1164.58 1967.45,1163.10 1967.90,1163.01 1968.35,1162.29 1968.80,1162.55 1969.25,1162.27 1969.70,1164.35 1970.15,1158.19 1970.60,1162.76 1971.05,1165.20 1971.50,1164.68 1971.95,1165.57 1972.40,1161.57 1972.85,1165.29 1973.30,1163.07 1973.75,1161.01 1974.20,1162.69 1974.65,1160.62 1975.10,1161.13 1975.55,1154.74 1976.00,1165.27 1976.45,1160.85 1976.90,1164.12 1977.35,1163.41 1977.80,1166.60 1978.25,1164.11 1978.70,1164.74 1979.15,1166.66 1979.60,1162.16 1980.05,1163.67 1980.50,1161.75 1980.95,1162.74 1981.40,1165.14 1981.85,1163.77 1982.30,1164.30 1982.75,1162.90 1983.20,1162.49 1983.65,1164.03 1984.10,1165.84 1984.55,1162.56 1985.00,1161.72 1985.45,1164.41 1985.90,1165.39 1986.35,1162.36 1986.80,1163.27 1987.25,1159.91 1987.70,1161.93 1988.15,1164.21 1988.60,1164.76 1989.05,1164.96 1989.50,1157.73 1989.95,1164.77 1990.40,1162.73 1990.85,1161.11 1991.30,1163.63 1991.75,1162.56 1992.20,1161.13 1992.65,1163.66 1993.10,1161.84 1993.55,1162.84 1994.00,1167.27 1994.45,1163.53 1994.90,1160.72 1995.35,1164.24 1995.80,1163.06 1996.25,1162.21 1996.70,1164.71 1997.15,1158.19 1997.60,1161.75 1998.05,1167.29 1998.50,1164.36 1998.95,1162.73 1999.40,1166.85 1999.85,1168.95 2000.30,1165.55 2000.75,1161.58 2001.20,1163.42 2001.65,1164.60 2002.10,1166.48 2002.55,1166.89 2003.00,1160.35 2003.45,1160.97 2003.90,1164.68 2004.35,1164.35 2004.80,1167.80 2005.25,1163.36 2005.70,1161.81 2006.15,1160.92 2006.60,1165.00 2007.05,1161.12 2007.50,1166.47 2007.95,1164.09 2008.40,1165.72 2008.85,1165.69 2009.30,1166.93 2009.75,1167.10 2010.20,1167.56 2010.65,1163.35 2011.10,1164.99 2011.55,1166.08 2012.00,1164.63 2012.45,1163.00 2012.90,1166.84 2013.35,1162.54 2013.80,1164.26 2014.25,1157.96 2014.70,1164.62 2015.15,1167.80 2015.60,1168.08 2016.05,1166.41 2016.50,1165.46 2016.95,1163.93 2017.40,1166.43 2017.85,1165.39 2018.30,1160.17 2018.75,1166.30 2019.20,1165.02 2019.65,1164.64 2020.10,1167.51 2020.55,1168.23 2021.00,1168.96 2021.45,1167.84 2021.90,1166.70 2022.35,1162.46 2022.80,1162.64 2023.25,1165.64 2023.70,1164.39 2024.15,1167.63 2024.60,1164.13 2025.05,1166.09 2025.50,1165.71 2025.95,1165.06 2026.40,1165.24 2026.85,1166.04 2027.30,1166.39 2027.75,1165.07 2028.20,1166.25 2028.65,1167.00 2029.10,1165.88 2029.55,1165.13 2030.00,1164.80 2030.45,1165.42 2030.90,1165.33 2031.35,1166.48 2031.80,1169.45 2032.25,1166.94 2032.70,1166.35 2033.15,1167.80 2033.60,1167.77 2034.05,1169.13 2034.50,1168.60 2034.95,1164.98 2035.40,1172.39 2035.85,1164.94 2036.30,1166.40 2036.75,1165.12 2037.20,1164.08 2037.65,1164.14 2038.10,1171.22 2038.55,1169.26 2039.00,1166.06 2039.45,1165.86 2039.90,1170.92 2040.35,1166.45 2040.80,1168.94 2041.25,1171.96 2041.70,1169.52 2042.15,1170.92 2042.60,1168.54 2043.05,1165.34 2043.50,1166.92 2043.95,1165.59 2044.40,1169.46 2044.85,1166.30 2045.30,1169.08 2045.75,1168.03 2046.20,1167.66 2046.65,1170.19 2047.10,1168.40 2047.55,1168.06 2048.00,1173.94 2048.45,1169.47 2048.90,1166.92 2049.35,1172.10 2049.80,1167.26 2050.25,1170.33 2050.70,1167.13 2051.15,1169.01 2051.60,1159.08 2052.05,1169.05 2052.50,1168.95 2052.95,1167.74 2053.40,1171.18 2053.85,1168.41 2054.30,1167.64 2054.75,1171.82 2055.20,1167.58 2055.65,1165.62 2056.10,1168.41 2056.55,1168.51 2057.00,1168.50 2057.45,1172.16 2057.90,1167.09 2058.35,1170.93 2058.80,1169.96 2059.25,1170.78 2059.70,1167.80 2060.15,1167.16 2060.60,1167.24 2061.05,1168.57 2061.50,1169.93 2061.95,1169.85 2062.40,1164.70 2062.85,1172.58 2063.30,1168.18 2063.75,1167.66 2064.20,1165.59 2064.65,1168.42 2065.10,1165.41 2065.55,1170.47 2066.00,1166.34 2066.45,1168.08 2066.90,1168.36 2067.35,1169.91 2067.80,1166.54 2068.25,1170.66 2068.70,1170.13 2069.15,1172.30 2069.60,1165.74 2070.05,1169.33 2070.50,1166.23 2070.95,1169.14 2071.40,1177.05 2071.85,1169.11" stroke="#00ff00" stroke-width="2.4"/>
</g>
<g transform="translate(639.30,349.90) scale(1.000)" fill="#7a007a"><path d="M-5,12 L5,12 L5,21 L0,23.5 L-5,21 Z"/><circle cx="0" cy="8.1" r="8.1"/><circle cx="-9.7" cy="19.8" r="8.1"/><circle cx="9.7" cy="19.8" r="8.1"/><path d="M-1.2,20 C-1,28.5 -5,33.5 -12.1,35 L-12.1,36.5 L12.1,36.5 L12.1,35 C5,33.5 1,28.5 1.2,20 Z"/></g><g transform="translate(762.00,342.00) scale(1.000)" fill="#7a007a"><path d="M0,0 C2.5,6.5 14.3,11 14.3,20.4 C14.3,24.6 11.6,27.3 8.2,27.3 C4.6,27.3 2,25.2 0.9,22.8 C1.2,28.4 3.8,32.4 11.6,33.6 L11.6,35 L-11.6,35 L-11.6,33.6 C-3.8,32.4 -1.2,28.4 -0.9,22.8 C-2,25.2 -4.6,27.3 -8.2,27.3 C-11.6,27.3 -14.3,24.6 -14.3,20.4 C-14.3,11 -2.5,6.5 0,0 Z"/></g><g transform="translate(858.00,301.20) scale(1.000)" fill="#7a007a"><path d="M-5,12 L5,12 L5,21 L0,23.5 L-5,21 Z"/><circle cx="0" cy="8.1" r="8.1"/><circle cx="-9.7" cy="19.8" r="8.1"/><circle cx="9.7" cy="19.8" r="8.1"/><path d="M-1.2,20 C-1,28.5 -5,33.5 -12.1,35 L-12.1,36.5 L12.1,36.5 L12.1,35 C5,33.5 1,28.5 1.2,20 Z"/></g><g transform="translate(853.80,336.50) scale(1.000)" fill="#7a007a"><path d="M0,0 C2.5,6.5 14.3,11 14.3,20.4 C14.3,24.6 11.6,27.3 8.2,27.3 C4.6,27.3 2,25.2 0.9,22.8 C1.2,28.4 3.8,32.4 11.6,33.6 L11.6,35 L-11.6,35 L-11.6,33.6 C-3.8,32.4 -1.2,28.4 -0.9,22.8 C-2,25.2 -4.6,27.3 -8.2,27.3 C-11.6,27.3 -14.3,24.6 -14.3,20.4 C-14.3,11 -2.5,6.5 0,0 Z"/></g><path d="M880.60,349.60 L895.80,377.10 L865.40,377.10 Z" fill="#0066ff"/><circle cx="911" cy="378" r="10.5" fill="#0066ff"/><g transform="translate(916.50,318.00) scale(1.000)" fill="#7a007a"><path d="M-5,12 L5,12 L5,21 L0,23.5 L-5,21 Z"/><circle cx="0" cy="8.1" r="8.1"/><circle cx="-9.7" cy="19.8" r="8.1"/><circle cx="9.7" cy="19.8" r="8.1"/><path d="M-1.2,20 C-1,28.5 -5,33.5 -12.1,35 L-12.1,36.5 L12.1,36.5 L12.1,35 C5,33.5 1,28.5 1.2,20 Z"/></g><g transform="translate(1023.50,135.10)" fill="#ff0000"><path d="M13.1,7.1 L36.6,0 L36.6,35 L33.1,35 L33.1,7.9 L15.9,13.4 L15.9,40 L13.1,40 Z"/><ellipse cx="8" cy="40.1" rx="8" ry="6.8" transform="rotate(-22 8 40.1)"/><ellipse cx="28.1" cy="34.3" rx="7.9" ry="6.8" transform="rotate(-22 28.1 34.3)"/></g><g transform="translate(1026.70,321.00) scale(1.000)" fill="#7a007a"><path d="M0,0 C2.5,6.5 14.3,11 14.3,20.4 C14.3,24.6 11.6,27.3 8.2,27.3 C4.6,27.3 2,25.2 0.9,22.8 C1.2,28.4 3.8,32.4 11.6,33.6 L11.6,35 L-11.6,35 L-11.6,33.6 C-3.8,32.4 -1.2,28.4 -0.9,22.8 C-2,25.2 -4.6,27.3 -8.2,27.3 C-11.6,27.3 -14.3,24.6 -14.3,20.4 C-14.3,11 -2.5,6.5 0,0 Z"/></g><path d="M1063.50,317.30 L1078.60,344.80 L1048.40,344.80 Z" fill="#0066ff"/><g transform="translate(1085.80,350.50) scale(1.000)" fill="#7a007a"><path d="M0,0 C2.5,6.5 14.3,11 14.3,20.4 C14.3,24.6 11.6,27.3 8.2,27.3 C4.6,27.3 2,25.2 0.9,22.8 C1.2,28.4 3.8,32.4 11.6,33.6 L11.6,35 L-11.6,35 L-11.6,33.6 C-3.8,32.4 -1.2,28.4 -0.9,22.8 C-2,25.2 -4.6,27.3 -8.2,27.3 C-11.6,27.3 -14.3,24.6 -14.3,20.4 C-14.3,11 -2.5,6.5 0,0 Z"/></g><g transform="translate(1191.50,291.50)" fill="#ff0000"><path d="M13.1,7.1 L36.6,0 L36.6,35 L33.1,35 L33.1,7.9 L15.9,13.4 L15.9,40 L13.1,40 Z"/><ellipse cx="8" cy="40.1" rx="8" ry="6.8" transform="rotate(-22 8 40.1)"/><ellipse cx="28.1" cy="34.3" rx="7.9" ry="6.8" transform="rotate(-22 28.1 34.3)"/></g><g transform="translate(1507.80,344.80) scale(1.000)" fill="#7a007a"><path d="M0,0 C2.5,6.5 14.3,11 14.3,20.4 C14.3,24.6 11.6,27.3 8.2,27.3 C4.6,27.3 2,25.2 0.9,22.8 C1.2,28.4 3.8,32.4 11.6,33.6 L11.6,35 L-11.6,35 L-11.6,33.6 C-3.8,32.4 -1.2,28.4 -0.9,22.8 C-2,25.2 -4.6,27.3 -8.2,27.3 C-11.6,27.3 -14.3,24.6 -14.3,20.4 C-14.3,11 -2.5,6.5 0,0 Z"/></g><g transform="translate(1716.30,316.80)" fill="#ff0000"><path d="M13.1,7.1 L36.6,0 L36.6,35 L33.1,35 L33.1,7.9 L15.9,13.4 L15.9,40 L13.1,40 Z"/><ellipse cx="8" cy="40.1" rx="8" ry="6.8" transform="rotate(-22 8 40.1)"/><ellipse cx="28.1" cy="34.3" rx="7.9" ry="6.8" transform="rotate(-22 28.1 34.3)"/></g><g transform="translate(639.80,673.90) scale(1.000)" fill="#7a007a"><path d="M-5,12 L5,12 L5,21 L0,23.5 L-5,21 Z"/><circle cx="0" cy="8.1" r="8.1"/><circle cx="-9.7" cy="19.8" r="8.1"/><circle cx="9.7" cy="19.8" r="8.1"/><path d="M-1.2,20 C-1,28.5 -5,33.5 -12.1,35 L-12.1,36.5 L12.1,36.5 L12.1,35 C5,33.5 1,28.5 1.2,20 Z"/></g><g transform="translate(854.00,671.90) scale(1.000)" fill="#7a007a"><path d="M-5,12 L5,12 L5,21 L0,23.5 L-5,21 Z"/><circle cx="0" cy="8.1" r="8.1"/><circle cx="-9.7" cy="19.8" r="8.1"/><circle cx="9.7" cy="19.8" r="8.1"/><path d="M-1.2,20 C-1,28.5 -5,33.5 -12.1,35 L-12.1,36.5 L12.1,36.5 L12.1,35 C5,33.5 1,28.5 1.2,20 Z"/></g><g transform="translate(916.70,697.10) scale(1.000)" fill="#7a007a"><path d="M-5,12 L5,12 L5,21 L0,23.5 L-5,21 Z"/><circle cx="0" cy="8.1" r="8.1"/><circle cx="-9.7" cy="19.8" r="8.1"/><circle cx="9.7" cy="19.8" r="8.1"/><path d="M-1.2,20 C-1,28.5 -5,33.5 -12.1,35 L-12.1,36.5 L12.1,36.5 L12.1,35 C5,33.5 1,28.5 1.2,20 Z"/></g><g transform="translate(1025.50,401.00)" fill="#ff0000"><path d="M13.1,7.1 L36.6,0 L36.6,35 L33.1,35 L33.1,7.9 L15.9,13.4 L15.9,40 L13.1,40 Z"/><ellipse cx="8" cy="40.1" rx="8" ry="6.8" transform="rotate(-22 8 40.1)"/><ellipse cx="28.1" cy="34.3" rx="7.9" ry="6.8" transform="rotate(-22 28.1 34.3)"/></g><g transform="translate(1181.20,598.90)" fill="#ff0000"><path d="M13.1,7.1 L36.6,0 L36.6,35 L33.1,35 L33.1,7.9 L15.9,13.4 L15.9,40 L13.1,40 Z"/><ellipse cx="8" cy="40.1" rx="8" ry="6.8" transform="rotate(-22 8 40.1)"/><ellipse cx="28.1" cy="34.3" rx="7.9" ry="6.8" transform="rotate(-22 28.1 34.3)"/></g><g transform="translate(1246.50,709.40) scale(1.000)" fill="#7a007a"><path d="M-5,12 L5,12 L5,21 L0,23.5 L-5,21 Z"/><circle cx="0" cy="8.1" r="8.1"/><circle cx="-9.7" cy="19.8" r="8.1"/><circle cx="9.7" cy="19.8" r="8.1"/><path d="M-1.2,20 C-1,28.5 -5,33.5 -12.1,35 L-12.1,36.5 L12.1,36.5 L12.1,35 C5,33.5 1,28.5 1.2,20 Z"/></g><g transform="translate(1351.00,709.40) scale(1.000)" fill="#7a007a"><path d="M-5,12 L5,12 L5,21 L0,23.5 L-5,21 Z"/><circle cx="0" cy="8.1" r="8.1"/><circle cx="-9.7" cy="19.8" r="8.1"/><circle cx="9.7" cy="19.8" r="8.1"/><path d="M-1.2,20 C-1,28.5 -5,33.5 -12.1,35 L-12.1,36.5 L12.1,36.5 L12.1,35 C5,33.5 1,28.5 1.2,20 Z"/></g><g transform="translate(1552.80,718.20) scale(1.000)" fill="#7a007a"><path d="M-5,12 L5,12 L5,21 L0,23.5 L-5,21 Z"/><circle cx="0" cy="8.1" r="8.1"/><circle cx="-9.7" cy="19.8" r="8.1"/><circle cx="9.7" cy="19.8" r="8.1"/><path d="M-1.2,20 C-1,28.5 -5,33.5 -12.1,35 L-12.1,36.5 L12.1,36.5 L12.1,35 C5,33.5 1,28.5 1.2,20 Z"/></g><g transform="translate(1607.40,718.20) scale(1.000)" fill="#7a007a"><path d="M-5,12 L5,12 L5,21 L0,23.5 L-5,21 Z"/><circle cx="0" cy="8.1" r="8.1"/><circle cx="-9.7" cy="19.8" r="8.1"/><circle cx="9.7" cy="19.8" r="8.1"/><path d="M-1.2,20 C-1,28.5 -5,33.5 -12.1,35 L-12.1,36.5 L12.1,36.5 L12.1,35 C5,33.5 1,28.5 1.2,20 Z"/></g><g transform="translate(1711.90,714.00)" fill="#ff0000"><path d="M13.1,7.1 L36.6,0 L36.6,35 L33.1,35 L33.1,7.9 L15.9,13.4 L15.9,40 L13.1,40 Z"/><ellipse cx="8" cy="40.1" rx="8" ry="6.8" transform="rotate(-22 8 40.1)"/><ellipse cx="28.1" cy="34.3" rx="7.9" ry="6.8" transform="rotate(-22 28.1 34.3)"/></g><path d="M487.60,999.25 L506.35,1018.00 L487.60,1036.75 L468.85,1018.00 Z" fill="#00ff00"/><g transform="translate(615.00,989.60) scale(1.000)" fill="#7a007a"><path d="M0,0 C2.5,6.5 14.3,11 14.3,20.4 C14.3,24.6 11.6,27.3 8.2,27.3 C4.6,27.3 2,25.2 0.9,22.8 C1.2,28.4 3.8,32.4 11.6,33.6 L11.6,35 L-11.6,35 L-11.6,33.6 C-3.8,32.4 -1.2,28.4 -0.9,22.8 C-2,25.2 -4.6,27.3 -8.2,27.3 C-11.6,27.3 -14.3,24.6 -14.3,20.4 C-14.3,11 -2.5,6.5 0,0 Z"/></g><path d="M744.00,988.95 L762.75,1007.70 L744.00,1026.45 L725.25,1007.70 Z" fill="#00ff00"/><path d="M865.80,859.35 L884.55,878.10 L865.80,896.85 L847.05,878.10 Z" fill="#00ff00"/><g transform="translate(982.60,1048.70) scale(1.000)" fill="#7a007a"><path d="M0,0 C2.5,6.5 14.3,11 14.3,20.4 C14.3,24.6 11.6,27.3 8.2,27.3 C4.6,27.3 2,25.2 0.9,22.8 C1.2,28.4 3.8,32.4 11.6,33.6 L11.6,35 L-11.6,35 L-11.6,33.6 C-3.8,32.4 -1.2,28.4 -0.9,22.8 C-2,25.2 -4.6,27.3 -8.2,27.3 C-11.6,27.3 -14.3,24.6 -14.3,20.4 C-14.3,11 -2.5,6.5 0,0 Z"/></g><path d="M1044.50,1017.05 L1063.25,1035.80 L1044.50,1054.55 L1025.75,1035.80 Z" fill="#00ff00"/><g transform="translate(1182.00,1054.50) scale(1.000)" fill="#7a007a"><path d="M0,0 C2.5,6.5 14.3,11 14.3,20.4 C14.3,24.6 11.6,27.3 8.2,27.3 C4.6,27.3 2,25.2 0.9,22.8 C1.2,28.4 3.8,32.4 11.6,33.6 L11.6,35 L-11.6,35 L-11.6,33.6 C-3.8,32.4 -1.2,28.4 -0.9,22.8 C-2,25.2 -4.6,27.3 -8.2,27.3 C-11.6,27.3 -14.3,24.6 -14.3,20.4 C-14.3,11 -2.5,6.5 0,0 Z"/></g><g transform="translate(1280.20,995.00) scale(1.000)" fill="#7a007a"><path d="M0,0 C2.5,6.5 14.3,11 14.3,20.4 C14.3,24.6 11.6,27.3 8.2,27.3 C4.6,27.3 2,25.2 0.9,22.8 C1.2,28.4 3.8,32.4 11.6,33.6 L11.6,35 L-11.6,35 L-11.6,33.6 C-3.8,32.4 -1.2,28.4 -0.9,22.8 C-2,25.2 -4.6,27.3 -8.2,27.3 C-11.6,27.3 -14.3,24.6 -14.3,20.4 C-14.3,11 -2.5,6.5 0,0 Z"/></g><path d="M1275.50,1035.85 L1294.25,1054.60 L1275.50,1073.35 L1256.75,1054.60 Z" fill="#00ff00"/><g transform="translate(1359.60,1001.20) scale(1.000)" fill="#7a007a"><path d="M-5,12 L5,12 L5,21 L0,23.5 L-5,21 Z"/><circle cx="0" cy="8.1" r="8.1"/><circle cx="-9.7" cy="19.8" r="8.1"/><circle cx="9.7" cy="19.8" r="8.1"/><path d="M-1.2,20 C-1,28.5 -5,33.5 -12.1,35 L-12.1,36.5 L12.1,36.5 L12.1,35 C5,33.5 1,28.5 1.2,20 Z"/></g><path d="M1359.40,1043.65 L1378.15,1062.40 L1359.40,1081.15 L1340.65,1062.40 Z" fill="#00ff00"/><g transform="translate(1459.00,1065.00) scale(1.000)" fill="#7a007a"><path d="M0,0 C2.5,6.5 14.3,11 14.3,20.4 C14.3,24.6 11.6,27.3 8.2,27.3 C4.6,27.3 2,25.2 0.9,22.8 C1.2,28.4 3.8,32.4 11.6,33.6 L11.6,35 L-11.6,35 L-11.6,33.6 C-3.8,32.4 -1.2,28.4 -0.9,22.8 C-2,25.2 -4.6,27.3 -8.2,27.3 C-11.6,27.3 -14.3,24.6 -14.3,20.4 C-14.3,11 -2.5,6.5 0,0 Z"/></g><g transform="translate(1513.90,1069.50) scale(1.000)" fill="#7a007a"><path d="M0,0 C2.5,6.5 14.3,11 14.3,20.4 C14.3,24.6 11.6,27.3 8.2,27.3 C4.6,27.3 2,25.2 0.9,22.8 C1.2,28.4 3.8,32.4 11.6,33.6 L11.6,35 L-11.6,35 L-11.6,33.6 C-3.8,32.4 -1.2,28.4 -0.9,22.8 C-2,25.2 -4.6,27.3 -8.2,27.3 C-11.6,27.3 -14.3,24.6 -14.3,20.4 C-14.3,11 -2.5,6.5 0,0 Z"/></g>
<g fill="#000">
<rect x="176" y="21" width="8" height="1407"/>
<rect x="176" y="21" width="1905" height="8"/>
<rect x="2072" y="21" width="9" height="1407"/>
<rect x="176" y="1419" width="1905" height="9"/>
<rect x="287.20" y="1397" width="8.6" height="23"/><rect x="510.30" y="1397" width="8.6" height="23"/><rect x="733.40" y="1397" width="8.6" height="23"/><rect x="956.50" y="1397" width="8.6" height="23"/><rect x="1179.60" y="1397" width="8.6" height="23"/><rect x="1402.70" y="1397" width="8.6" height="23"/><rect x="1625.80" y="1397" width="8.6" height="23"/><rect x="1848.90" y="1397" width="8.6" height="23"/><rect x="399.05" y="1408.5" width="8" height="12"/><rect x="622.15" y="1408.5" width="8" height="12"/><rect x="845.25" y="1408.5" width="8" height="12"/><rect x="1068.35" y="1408.5" width="8" height="12"/><rect x="1291.45" y="1408.5" width="8" height="12"/><rect x="1514.55" y="1408.5" width="8" height="12"/><rect x="1737.65" y="1408.5" width="8" height="12"/><rect x="1960.75" y="1408.5" width="8" height="12"/>
</g>
<g fill="#fff"><rect x="170" y="1227" width="20" height="1.2"/><rect x="2066" y="1227" width="20" height="1.2"/><rect x="170" y="1378" width="20" height="1.2"/><rect x="2066" y="1378" width="20" height="1.2"/></g>
<g font-family="Liberation Serif, serif" font-weight="bold" fill="#000">
<g font-size="75"><text x="291.50" y="1510.3" text-anchor="middle">10</text><text x="514.60" y="1510.3" text-anchor="middle">20</text><text x="737.70" y="1510.3" text-anchor="middle">30</text><text x="960.80" y="1510.3" text-anchor="middle">40</text><text x="1183.90" y="1510.3" text-anchor="middle">50</text><text x="1407.00" y="1510.3" text-anchor="middle">60</text><text x="1630.10" y="1510.3" text-anchor="middle">70</text><text x="1853.20" y="1510.3" text-anchor="middle">80</text><text x="2076.30" y="1510.3" text-anchor="middle">90</text></g>
<text x="1128.2" y="1648" font-size="92" text-anchor="middle">2θ/degree</text>
<text transform="translate(83.2,726.5) rotate(-90)" font-size="92" text-anchor="middle">Intentisity (a.u.)</text>
</g>
<g font-family="Liberation Serif, serif" font-weight="bold" font-size="54.5" style="font-kerning:none">
<text x="1763" y="381.5" fill="#0066ff">Ni-Fe-Al-VA</text>
<text x="1796" y="787" fill="#ff0000">Ni-Fe-Al-V</text>
<text x="1819.3" y="1126.3" fill="#00ff00">Ni-Fe-Al</text>
</g>
</svg></body></html>
